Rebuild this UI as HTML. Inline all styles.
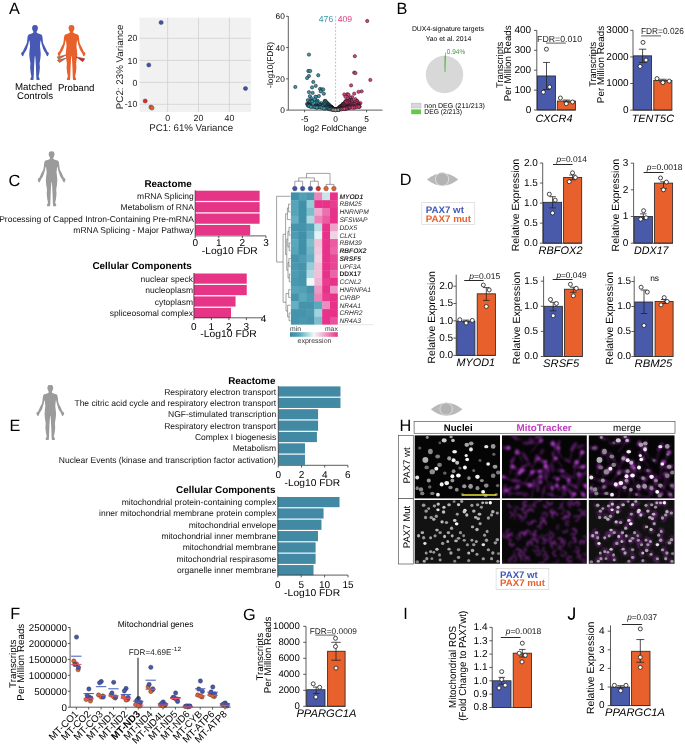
<!DOCTYPE html>
<html><head><meta charset="utf-8"><style>
html,body{margin:0;padding:0;background:#fff;width:685px;height:747px;overflow:hidden;}
svg{display:block;will-change:transform;}
text{font-family:"Liberation Sans",sans-serif;text-rendering:geometricPrecision;}
</style></head><body>
<svg width="685" height="747" viewBox="0 0 685 747">
<rect width="685" height="747" fill="#fff"/>
<text x="9" y="13.7" font-size="16.3">A</text>
<path d="M35,25 L36.5,25.2 L37.4,25.9 L37.95,27.8 L37.75,29.4 L37.3,30.4 L36.75,31.3 L36.7,32.8 L38.9,33.8 L41.2,34.4 L42.1,35.5 L42.5,37.5 L42.8,40.5 L43.2,43 L43.8,44.6 L45.1,46.9 L46.3,49.6 L47.2,51.5 L48.4,52.4 L49,53.7 L48.6,54.3 L48.3,55.2 L47.6,56.2 L46.8,55.9 L46.2,54.5 L45.4,52.7 L44.3,51.2 L43.2,49 L42.3,46.2 L41.6,43.9 L41.2,41.8 L40.6,40.2 L40.35,42.1 L39.95,46.1 L40.5,50.9 L40.75,54.2 L40.4,58.2 L39.6,63.6 L39.9,67.6 L39.4,72.6 L38.6,76.6 L39.7,78.9 L39.4,80 L36.6,80 L36.3,77.5 L36.1,71.8 L35.85,65.4 L35.5,59.6 L35.25,56.6 L35,55.9 L34.75,56.6 L34.5,59.6 L34.15,65.4 L33.9,71.8 L33.7,77.5 L33.4,80 L30.6,80 L30.3,78.9 L31.4,76.6 L30.6,72.6 L30.1,67.6 L30.4,63.6 L29.6,58.2 L29.25,54.2 L29.5,50.9 L30.05,46.1 L29.65,42.1 L29.4,40.2 L28.8,41.8 L28.4,43.9 L27.7,46.2 L26.8,49 L25.7,51.2 L24.6,52.7 L23.8,54.5 L23.2,55.9 L22.4,56.2 L21.7,55.2 L21.4,54.3 L21,53.7 L21.6,52.4 L22.8,51.5 L23.7,49.6 L24.9,46.9 L26.2,44.6 L26.8,43 L27.2,40.5 L27.5,37.5 L27.9,35.5 L28.8,34.4 L31.1,33.8 L33.3,32.8 L33.25,31.3 L32.7,30.4 L32.25,29.4 L32.05,27.8 L32.6,25.9 L33.5,25.2Z" fill="#4759b5"/>
<path d="M71.5,25 L73,25.2 L73.9,25.9 L74.45,27.8 L74.25,29.4 L73.8,30.4 L73.25,31.3 L73.2,32.8 L75.4,33.8 L77.7,34.4 L78.6,35.5 L79,37.5 L79.3,40.5 L79.7,43 L80.3,44.6 L81.6,46.9 L82.8,49.6 L83.7,51.5 L84.9,52.4 L85.5,53.7 L85.1,54.3 L84.8,55.2 L84.1,56.2 L83.3,55.9 L82.7,54.5 L81.9,52.7 L80.8,51.2 L79.7,49 L78.8,46.2 L78.1,43.9 L77.7,41.8 L77.1,40.2 L76.85,42.1 L76.45,46.1 L77,50.9 L77.25,54.2 L76.9,58.2 L76.1,63.6 L76.4,67.6 L75.9,72.6 L75.1,76.6 L76.2,78.9 L75.9,80 L73.1,80 L72.8,77.5 L72.6,71.8 L72.35,65.4 L72,59.6 L71.75,56.6 L71.5,55.9 L71.25,56.6 L71,59.6 L70.65,65.4 L70.4,71.8 L70.2,77.5 L69.9,80 L67.1,80 L66.8,78.9 L67.9,76.6 L67.1,72.6 L66.6,67.6 L66.9,63.6 L66.1,58.2 L65.75,54.2 L66,50.9 L66.55,46.1 L66.15,42.1 L65.9,40.2 L65.3,41.8 L64.9,43.9 L64.2,46.2 L63.3,49 L62.2,51.2 L61.1,52.7 L60.3,54.5 L59.7,55.9 L58.9,56.2 L58.2,55.2 L57.9,54.3 L57.5,53.7 L58.1,52.4 L59.3,51.5 L60.2,49.6 L61.4,46.9 L62.7,44.6 L63.3,43 L63.7,40.5 L64,37.5 L64.4,35.5 L65.3,34.4 L67.6,33.8 L69.8,32.8 L69.75,31.3 L69.2,30.4 L68.75,29.4 L68.55,27.8 L69.1,25.9 L70,25.2Z" fill="#e8612c"/>
<path d="M66.0,55.0 L57.2,56.9 L58.7,59.3 Z" fill="#e8612c" stroke="#444" stroke-width="0.45"/>
<path d="M66.0,58.2 L57.4,60.1 L59.5,62.6 Z" fill="#e8612c" stroke="#444" stroke-width="0.45"/>
<path d="M76.3,56.9 L84.9,58.7 L82.7,61.7 Z" fill="#d82424" stroke="#444" stroke-width="0.45"/>
<text x="33.6" y="90.3" font-size="9.7" text-anchor="middle">Matched</text>
<text x="35" y="98.6" font-size="9.7" text-anchor="middle">Controls</text>
<text x="76.2" y="90.7" font-size="9.7" text-anchor="middle">Proband</text>
<rect x="139.6" y="17.7" width="111.3" height="94.3" fill="#f1f1f1" />
<line x1="167.6" y1="17.7" x2="167.6" y2="112" stroke="#cdcdcd" stroke-width="0.7" />
<line x1="198.5" y1="17.7" x2="198.5" y2="112" stroke="#cdcdcd" stroke-width="0.7" />
<line x1="229.4" y1="17.7" x2="229.4" y2="112" stroke="#cdcdcd" stroke-width="0.7" />
<line x1="139.6" y1="38.3" x2="250.9" y2="38.3" stroke="#cdcdcd" stroke-width="0.7" />
<line x1="139.6" y1="60.4" x2="250.9" y2="60.4" stroke="#cdcdcd" stroke-width="0.7" />
<line x1="139.6" y1="82.4" x2="250.9" y2="82.4" stroke="#cdcdcd" stroke-width="0.7" />
<line x1="139.6" y1="104.3" x2="250.9" y2="104.3" stroke="#cdcdcd" stroke-width="0.7" />
<text x="137.4" y="41.4" font-size="8.8" text-anchor="end" fill="#222">20</text>
<text x="137.4" y="63.5" font-size="8.8" text-anchor="end" fill="#222">10</text>
<text x="137.4" y="85.5" font-size="8.8" text-anchor="end" fill="#222">0</text>
<text x="137.4" y="107.4" font-size="8.8" text-anchor="end" fill="#222">-10</text>
<text x="167.6" y="120.6" font-size="8.8" text-anchor="middle" fill="#222">0</text>
<text x="198.5" y="120.6" font-size="8.8" text-anchor="middle" fill="#222">20</text>
<text x="229.4" y="120.6" font-size="8.8" text-anchor="middle" fill="#222">40</text>
<text x="191.2" y="130.9" font-size="9.7" text-anchor="middle" fill="#222">PC1: 61% Variance</text>
<text transform="translate(122.9,66.9) rotate(-90)" x="0" y="0" font-size="9.7" text-anchor="middle" fill="#222" textLength="84.6" lengthAdjust="spacingAndGlyphs">PC2: 23% Variance</text>
<circle cx="161.1" cy="22.5" r="2.1" fill="#3f51b0" stroke="#333" stroke-width="0.4"/>
<circle cx="148.8" cy="65" r="2.1" fill="#3f51b0" stroke="#333" stroke-width="0.4"/>
<circle cx="245.5" cy="88.5" r="2.1" fill="#3f51b0" stroke="#333" stroke-width="0.4"/>
<circle cx="145.2" cy="101" r="2.1" fill="#dd2a22" stroke="#333" stroke-width="0.4"/>
<circle cx="150.9" cy="107.1" r="2.1" fill="#e8612c" stroke="#333" stroke-width="0.4"/>
<circle cx="152" cy="108" r="2.1" fill="#e8612c" stroke="#333" stroke-width="0.4"/>
<line x1="288.3" y1="16.2" x2="288.3" y2="110.1" stroke="#333" stroke-width="0.8" />
<line x1="286.1" y1="110.1" x2="288.3" y2="110.1" stroke="#333" stroke-width="0.8" />
<text x="284.8" y="113.1" font-size="8.3" text-anchor="end">0</text>
<line x1="286.1" y1="78.83" x2="288.3" y2="78.83" stroke="#333" stroke-width="0.8" />
<text x="284.8" y="81.83" font-size="8.3" text-anchor="end">20</text>
<line x1="286.1" y1="47.57" x2="288.3" y2="47.57" stroke="#333" stroke-width="0.8" />
<text x="284.8" y="50.57" font-size="8.3" text-anchor="end">40</text>
<line x1="286.1" y1="16.3" x2="288.3" y2="16.3" stroke="#333" stroke-width="0.8" />
<text x="284.8" y="19.3" font-size="8.3" text-anchor="end">60</text>
<line x1="288.3" y1="110.1" x2="382.6" y2="110.1" stroke="#333" stroke-width="0.8" />
<line x1="304.6" y1="110.1" x2="304.6" y2="112.3" stroke="#333" stroke-width="0.8" />
<text x="304.6" y="121.6" font-size="8.3" text-anchor="middle">-5</text>
<line x1="335.6" y1="110.1" x2="335.6" y2="112.3" stroke="#333" stroke-width="0.8" />
<text x="335.6" y="121.6" font-size="8.3" text-anchor="middle">0</text>
<line x1="366.6" y1="110.1" x2="366.6" y2="112.3" stroke="#333" stroke-width="0.8" />
<text x="366.6" y="121.6" font-size="8.3" text-anchor="middle">5</text>
<text x="335.1" y="130.9" font-size="8.3" text-anchor="middle">log2 FoldChange</text>
<text transform="translate(273,64.9) rotate(-90)" x="0" y="0" font-size="8.4" text-anchor="middle" textLength="46" lengthAdjust="spacingAndGlyphs">-log10(FDR)</text>
<line x1="335.6" y1="16" x2="335.6" y2="110" stroke="#999" stroke-width="0.6" stroke-dasharray="2,1.5"/>
<text x="333.2" y="22.2" font-size="8.6" text-anchor="end" fill="#3a97ad">476</text>
<text x="337.8" y="22.2" font-size="8.6" fill="#e0407e">409</text>
<circle cx="367.22" cy="20.99" r="1.65" fill="#e23f80" stroke="#151515" stroke-width="0.5"/>
<circle cx="308.94" cy="54.6" r="1.65" fill="#3a97ad" stroke="#151515" stroke-width="0.5"/>
<circle cx="354.82" cy="56.16" r="1.65" fill="#e23f80" stroke="#151515" stroke-width="0.5"/>
<circle cx="308.32" cy="71.02" r="1.65" fill="#3a97ad" stroke="#151515" stroke-width="0.5"/>
<circle cx="310.18" cy="71.02" r="1.65" fill="#3a97ad" stroke="#151515" stroke-width="0.5"/>
<circle cx="354.2" cy="72.58" r="1.65" fill="#e23f80" stroke="#151515" stroke-width="0.5"/>
<circle cx="355.44" cy="73.05" r="1.65" fill="#e23f80" stroke="#151515" stroke-width="0.5"/>
<circle cx="318.24" cy="75.24" r="1.65" fill="#3a97ad" stroke="#151515" stroke-width="0.5"/>
<circle cx="308.94" cy="76.02" r="1.65" fill="#3a97ad" stroke="#151515" stroke-width="0.5"/>
<circle cx="307.08" cy="78.05" r="1.65" fill="#3a97ad" stroke="#151515" stroke-width="0.5"/>
<circle cx="370.32" cy="79.93" r="1.65" fill="#e23f80" stroke="#151515" stroke-width="0.5"/>
<circle cx="313.28" cy="81.96" r="1.65" fill="#3a97ad" stroke="#151515" stroke-width="0.5"/>
<circle cx="351.1" cy="85.4" r="1.65" fill="#e23f80" stroke="#151515" stroke-width="0.5"/>
<circle cx="315.76" cy="85.87" r="1.65" fill="#3a97ad" stroke="#151515" stroke-width="0.5"/>
<circle cx="295.3" cy="86.96" r="1.65" fill="#3a97ad" stroke="#151515" stroke-width="0.5"/>
<circle cx="312.04" cy="87.43" r="1.65" fill="#3a97ad" stroke="#151515" stroke-width="0.5"/>
<circle cx="320.1" cy="88.99" r="1.65" fill="#3a97ad" stroke="#151515" stroke-width="0.5"/>
<circle cx="321.96" cy="89.46" r="1.65" fill="#3a97ad" stroke="#151515" stroke-width="0.5"/>
<circle cx="323.2" cy="89.46" r="1.65" fill="#3a97ad" stroke="#151515" stroke-width="0.5"/>
<circle cx="320.72" cy="91.34" r="1.65" fill="#3a97ad" stroke="#151515" stroke-width="0.5"/>
<circle cx="361.64" cy="91.34" r="1.65" fill="#e23f80" stroke="#151515" stroke-width="0.5"/>
<circle cx="358.54" cy="91.81" r="1.65" fill="#e23f80" stroke="#151515" stroke-width="0.5"/>
<circle cx="308.94" cy="92.12" r="1.65" fill="#3a97ad" stroke="#151515" stroke-width="0.5"/>
<circle cx="312.66" cy="92.9" r="1.65" fill="#3a97ad" stroke="#151515" stroke-width="0.5"/>
<circle cx="323.82" cy="93.69" r="1.65" fill="#3a97ad" stroke="#151515" stroke-width="0.5"/>
<circle cx="354.2" cy="93.69" r="1.65" fill="#e23f80" stroke="#151515" stroke-width="0.5"/>
<circle cx="347.38" cy="94.15" r="1.65" fill="#e23f80" stroke="#151515" stroke-width="0.5"/>
<circle cx="344.28" cy="94.47" r="1.65" fill="#e23f80" stroke="#151515" stroke-width="0.5"/>
<circle cx="348.62" cy="94.78" r="1.65" fill="#e23f80" stroke="#151515" stroke-width="0.5"/>
<circle cx="318.86" cy="96.03" r="1.65" fill="#3a97ad" stroke="#151515" stroke-width="0.5"/>
<circle cx="309.85" cy="96.25" r="1.65" fill="#3a97ad" stroke="#151515" stroke-width="0.5"/>
<circle cx="315.76" cy="96.81" r="1.65" fill="#3a97ad" stroke="#151515" stroke-width="0.5"/>
<circle cx="345.52" cy="96.81" r="1.65" fill="#e23f80" stroke="#151515" stroke-width="0.5"/>
<circle cx="315.58" cy="96.93" r="1.65" fill="#3a97ad" stroke="#151515" stroke-width="0.5"/>
<circle cx="352.06" cy="97.26" r="1.65" fill="#e23f80" stroke="#151515" stroke-width="0.5"/>
<circle cx="349.86" cy="97.59" r="1.65" fill="#e23f80" stroke="#151515" stroke-width="0.5"/>
<circle cx="311.42" cy="98.38" r="1.65" fill="#3a97ad" stroke="#151515" stroke-width="0.5"/>
<circle cx="348.13" cy="98.4" r="1.65" fill="#e23f80" stroke="#151515" stroke-width="0.5"/>
<circle cx="355.44" cy="99.16" r="1.65" fill="#e23f80" stroke="#151515" stroke-width="0.5"/>
<circle cx="314.74" cy="99.54" r="1.65" fill="#3a97ad" stroke="#151515" stroke-width="0.5"/>
<circle cx="351.01" cy="99.78" r="1.65" fill="#e23f80" stroke="#151515" stroke-width="0.5"/>
<circle cx="307.87" cy="100.13" r="1.65" fill="#3a97ad" stroke="#151515" stroke-width="0.5"/>
<circle cx="349.42" cy="100.18" r="1.65" fill="#e23f80" stroke="#151515" stroke-width="0.5"/>
<circle cx="349.77" cy="100.51" r="1.65" fill="#e23f80" stroke="#151515" stroke-width="0.5"/>
<circle cx="310.59" cy="100.53" r="1.65" fill="#3a97ad" stroke="#151515" stroke-width="0.5"/>
<circle cx="351.97" cy="100.58" r="1.65" fill="#e23f80" stroke="#151515" stroke-width="0.5"/>
<circle cx="317.62" cy="100.72" r="1.65" fill="#3a97ad" stroke="#151515" stroke-width="0.5"/>
<circle cx="347.84" cy="100.85" r="1.65" fill="#e23f80" stroke="#151515" stroke-width="0.5"/>
<circle cx="324.8" cy="100.89" r="1.65" fill="#3a97ad" stroke="#151515" stroke-width="0.5"/>
<circle cx="346.01" cy="100.9" r="1.65" fill="#e23f80" stroke="#151515" stroke-width="0.5"/>
<circle cx="311.79" cy="100.97" r="1.65" fill="#3a97ad" stroke="#151515" stroke-width="0.5"/>
<circle cx="357.34" cy="101.09" r="1.65" fill="#e23f80" stroke="#151515" stroke-width="0.5"/>
<circle cx="325.36" cy="101.09" r="1.65" fill="#3a97ad" stroke="#151515" stroke-width="0.5"/>
<circle cx="325.42" cy="101.16" r="1.65" fill="#3a97ad" stroke="#151515" stroke-width="0.5"/>
<circle cx="346.55" cy="101.18" r="1.65" fill="#e23f80" stroke="#151515" stroke-width="0.5"/>
<circle cx="356.67" cy="101.29" r="1.65" fill="#e23f80" stroke="#151515" stroke-width="0.5"/>
<circle cx="357.13" cy="101.39" r="1.65" fill="#e23f80" stroke="#151515" stroke-width="0.5"/>
<circle cx="345.57" cy="101.41" r="1.65" fill="#e23f80" stroke="#151515" stroke-width="0.5"/>
<circle cx="351.72" cy="101.5" r="1.65" fill="#e23f80" stroke="#151515" stroke-width="0.5"/>
<circle cx="312.1" cy="101.58" r="1.65" fill="#3a97ad" stroke="#151515" stroke-width="0.5"/>
<circle cx="316.77" cy="101.66" r="1.65" fill="#3a97ad" stroke="#151515" stroke-width="0.5"/>
<circle cx="348.56" cy="101.89" r="1.65" fill="#e23f80" stroke="#151515" stroke-width="0.5"/>
<circle cx="348.64" cy="101.9" r="1.65" fill="#e23f80" stroke="#151515" stroke-width="0.5"/>
<circle cx="344.97" cy="102.07" r="1.65" fill="#e23f80" stroke="#151515" stroke-width="0.5"/>
<circle cx="309.56" cy="102.28" r="1.65" fill="#3a97ad" stroke="#151515" stroke-width="0.5"/>
<circle cx="324.77" cy="102.3" r="1.65" fill="#3a97ad" stroke="#151515" stroke-width="0.5"/>
<circle cx="355.19" cy="102.43" r="1.65" fill="#e23f80" stroke="#151515" stroke-width="0.5"/>
<circle cx="352.35" cy="102.56" r="1.65" fill="#e23f80" stroke="#151515" stroke-width="0.5"/>
<circle cx="326.76" cy="102.66" r="1.65" fill="#3a97ad" stroke="#151515" stroke-width="0.5"/>
<circle cx="326.06" cy="102.73" r="1.65" fill="#3a97ad" stroke="#151515" stroke-width="0.5"/>
<circle cx="345.71" cy="102.77" r="1.65" fill="#e23f80" stroke="#151515" stroke-width="0.5"/>
<circle cx="316.94" cy="102.78" r="1.65" fill="#3a97ad" stroke="#151515" stroke-width="0.5"/>
<circle cx="326.76" cy="102.79" r="1.65" fill="#3a97ad" stroke="#151515" stroke-width="0.5"/>
<circle cx="356.9" cy="102.94" r="1.65" fill="#e23f80" stroke="#151515" stroke-width="0.5"/>
<circle cx="321.32" cy="103.06" r="1.65" fill="#3a97ad" stroke="#151515" stroke-width="0.5"/>
<circle cx="314.52" cy="103.06" r="1.65" fill="#3a97ad" stroke="#151515" stroke-width="0.5"/>
<circle cx="360.4" cy="103.06" r="1.65" fill="#e23f80" stroke="#151515" stroke-width="0.5"/>
<circle cx="349.86" cy="103.09" r="1.65" fill="#e23f80" stroke="#151515" stroke-width="0.5"/>
<circle cx="349.44" cy="103.16" r="1.65" fill="#e23f80" stroke="#151515" stroke-width="0.5"/>
<circle cx="324.03" cy="103.54" r="1.65" fill="#3a97ad" stroke="#151515" stroke-width="0.5"/>
<circle cx="347.88" cy="103.6" r="1.65" fill="#e23f80" stroke="#151515" stroke-width="0.5"/>
<circle cx="319.24" cy="103.64" r="1.65" fill="#3a97ad" stroke="#151515" stroke-width="0.5"/>
<circle cx="308.38" cy="103.7" r="1.65" fill="#3a97ad" stroke="#151515" stroke-width="0.5"/>
<circle cx="327.84" cy="103.82" r="1.65" fill="#3a97ad" stroke="#151515" stroke-width="0.5"/>
<circle cx="351.72" cy="103.84" r="1.65" fill="#e23f80" stroke="#151515" stroke-width="0.5"/>
<circle cx="307.08" cy="103.85" r="1.65" fill="#3a97ad" stroke="#151515" stroke-width="0.5"/>
<circle cx="352.96" cy="103.85" r="1.65" fill="#e23f80" stroke="#151515" stroke-width="0.5"/>
<circle cx="343.96" cy="103.87" r="1.65" fill="#e23f80" stroke="#151515" stroke-width="0.5"/>
<circle cx="358.68" cy="103.96" r="1.65" fill="#e23f80" stroke="#151515" stroke-width="0.5"/>
<circle cx="343.19" cy="104" r="1.65" fill="#e23f80" stroke="#151515" stroke-width="0.5"/>
<circle cx="343.17" cy="104.02" r="1.65" fill="#e23f80" stroke="#151515" stroke-width="0.5"/>
<circle cx="353.6" cy="104.04" r="1.65" fill="#e23f80" stroke="#151515" stroke-width="0.5"/>
<circle cx="343.13" cy="104.07" r="1.65" fill="#e23f80" stroke="#151515" stroke-width="0.5"/>
<circle cx="327.66" cy="104.07" r="1.65" fill="#3a97ad" stroke="#151515" stroke-width="0.5"/>
<circle cx="328.17" cy="104.17" r="1.65" fill="#3a97ad" stroke="#151515" stroke-width="0.5"/>
<circle cx="318.65" cy="104.25" r="1.65" fill="#3a97ad" stroke="#151515" stroke-width="0.5"/>
<circle cx="324.72" cy="104.27" r="1.65" fill="#3a97ad" stroke="#151515" stroke-width="0.5"/>
<circle cx="344.23" cy="104.28" r="1.65" fill="#e23f80" stroke="#151515" stroke-width="0.5"/>
<circle cx="309.07" cy="104.34" r="1.65" fill="#3a97ad" stroke="#151515" stroke-width="0.5"/>
<circle cx="307.79" cy="104.35" r="1.65" fill="#3a97ad" stroke="#151515" stroke-width="0.5"/>
<circle cx="348.81" cy="104.46" r="1.65" fill="#e23f80" stroke="#151515" stroke-width="0.5"/>
<circle cx="356.68" cy="104.47" r="1.65" fill="#e23f80" stroke="#151515" stroke-width="0.5"/>
<circle cx="342.72" cy="104.48" r="1.65" fill="#e23f80" stroke="#151515" stroke-width="0.5"/>
<circle cx="354.82" cy="104.48" r="1.65" fill="#e23f80" stroke="#151515" stroke-width="0.5"/>
<circle cx="343.12" cy="104.51" r="1.65" fill="#e23f80" stroke="#151515" stroke-width="0.5"/>
<circle cx="328.61" cy="104.62" r="1.65" fill="#3a97ad" stroke="#151515" stroke-width="0.5"/>
<circle cx="310.8" cy="104.63" r="1.65" fill="#3a97ad" stroke="#151515" stroke-width="0.5"/>
<circle cx="359.16" cy="104.63" r="1.65" fill="#e23f80" stroke="#151515" stroke-width="0.5"/>
<circle cx="323.99" cy="104.63" r="1.65" fill="#3a97ad" stroke="#151515" stroke-width="0.5"/>
<circle cx="342.52" cy="104.69" r="1.65" fill="#e23f80" stroke="#151515" stroke-width="0.5"/>
<circle cx="328.79" cy="104.8" r="1.65" fill="#3a97ad" stroke="#151515" stroke-width="0.5"/>
<circle cx="328.8" cy="104.81" r="1.65" fill="#3a97ad" stroke="#151515" stroke-width="0.5"/>
<circle cx="310.07" cy="104.83" r="1.65" fill="#3a97ad" stroke="#151515" stroke-width="0.5"/>
<circle cx="316.39" cy="104.87" r="1.65" fill="#3a97ad" stroke="#151515" stroke-width="0.5"/>
<circle cx="359.11" cy="104.9" r="1.65" fill="#e23f80" stroke="#151515" stroke-width="0.5"/>
<circle cx="320.76" cy="104.91" r="1.65" fill="#3a97ad" stroke="#151515" stroke-width="0.5"/>
<circle cx="308.82" cy="105.02" r="1.65" fill="#3a97ad" stroke="#151515" stroke-width="0.5"/>
<circle cx="319.91" cy="105.03" r="1.65" fill="#3a97ad" stroke="#151515" stroke-width="0.5"/>
<circle cx="308.14" cy="105.06" r="1.65" fill="#3a97ad" stroke="#151515" stroke-width="0.5"/>
<circle cx="357.94" cy="105.09" r="1.65" fill="#e23f80" stroke="#151515" stroke-width="0.5"/>
<circle cx="329.17" cy="105.18" r="1.65" fill="#3a97ad" stroke="#151515" stroke-width="0.5"/>
<circle cx="309.4" cy="105.3" r="1.65" fill="#3a97ad" stroke="#151515" stroke-width="0.5"/>
<circle cx="353.05" cy="105.38" r="1.65" fill="#e23f80" stroke="#151515" stroke-width="0.5"/>
<circle cx="356.03" cy="105.4" r="1.65" fill="#e23f80" stroke="#151515" stroke-width="0.5"/>
<circle cx="319.96" cy="105.44" r="1.65" fill="#3a97ad" stroke="#151515" stroke-width="0.5"/>
<circle cx="308" cy="105.47" r="1.65" fill="#3a97ad" stroke="#151515" stroke-width="0.5"/>
<circle cx="349.3" cy="105.5" r="1.65" fill="#e23f80" stroke="#151515" stroke-width="0.5"/>
<circle cx="349.27" cy="105.53" r="1.65" fill="#e23f80" stroke="#151515" stroke-width="0.5"/>
<circle cx="342.61" cy="105.55" r="1.65" fill="#e23f80" stroke="#151515" stroke-width="0.5"/>
<circle cx="341.65" cy="105.56" r="1.65" fill="#e23f80" stroke="#151515" stroke-width="0.5"/>
<circle cx="323.26" cy="105.57" r="1.65" fill="#3a97ad" stroke="#151515" stroke-width="0.5"/>
<circle cx="308.39" cy="105.6" r="1.65" fill="#3a97ad" stroke="#151515" stroke-width="0.5"/>
<circle cx="310.14" cy="105.61" r="1.65" fill="#3a97ad" stroke="#151515" stroke-width="0.5"/>
<circle cx="348.24" cy="105.65" r="1.65" fill="#e23f80" stroke="#151515" stroke-width="0.5"/>
<circle cx="357.64" cy="105.77" r="1.65" fill="#e23f80" stroke="#151515" stroke-width="0.5"/>
<circle cx="344.89" cy="105.79" r="1.65" fill="#e23f80" stroke="#151515" stroke-width="0.5"/>
<circle cx="327.88" cy="105.84" r="1.65" fill="#3a97ad" stroke="#151515" stroke-width="0.5"/>
<circle cx="309.56" cy="105.85" r="1.65" fill="#3a97ad" stroke="#151515" stroke-width="0.5"/>
<circle cx="329.88" cy="105.88" r="1.65" fill="#3a97ad" stroke="#151515" stroke-width="0.5"/>
<circle cx="343.14" cy="105.88" r="1.65" fill="#e23f80" stroke="#151515" stroke-width="0.5"/>
<circle cx="350.92" cy="105.88" r="1.65" fill="#e23f80" stroke="#151515" stroke-width="0.5"/>
<circle cx="341.31" cy="105.88" r="1.65" fill="#e23f80" stroke="#151515" stroke-width="0.5"/>
<circle cx="320.98" cy="105.9" r="1.65" fill="#3a97ad" stroke="#151515" stroke-width="0.5"/>
<circle cx="344.17" cy="105.94" r="1.65" fill="#e23f80" stroke="#151515" stroke-width="0.5"/>
<circle cx="329.96" cy="105.95" r="1.65" fill="#3a97ad" stroke="#151515" stroke-width="0.5"/>
<circle cx="322.62" cy="105.96" r="1.65" fill="#3a97ad" stroke="#151515" stroke-width="0.5"/>
<circle cx="342.51" cy="105.96" r="1.65" fill="#e23f80" stroke="#151515" stroke-width="0.5"/>
<circle cx="341.23" cy="105.96" r="1.65" fill="#e23f80" stroke="#151515" stroke-width="0.5"/>
<circle cx="346.99" cy="106.01" r="1.65" fill="#e23f80" stroke="#151515" stroke-width="0.5"/>
<circle cx="316.2" cy="106.04" r="1.65" fill="#3a97ad" stroke="#151515" stroke-width="0.5"/>
<circle cx="349.06" cy="106.05" r="1.65" fill="#e23f80" stroke="#151515" stroke-width="0.5"/>
<circle cx="358.23" cy="106.08" r="1.65" fill="#e23f80" stroke="#151515" stroke-width="0.5"/>
<circle cx="352.83" cy="106.09" r="1.65" fill="#e23f80" stroke="#151515" stroke-width="0.5"/>
<circle cx="345.57" cy="106.1" r="1.65" fill="#e23f80" stroke="#151515" stroke-width="0.5"/>
<circle cx="355.12" cy="106.14" r="1.65" fill="#e23f80" stroke="#151515" stroke-width="0.5"/>
<circle cx="308.97" cy="106.15" r="1.65" fill="#3a97ad" stroke="#151515" stroke-width="0.5"/>
<circle cx="326.69" cy="106.19" r="1.65" fill="#3a97ad" stroke="#151515" stroke-width="0.5"/>
<circle cx="317.89" cy="106.19" r="1.65" fill="#3a97ad" stroke="#151515" stroke-width="0.5"/>
<circle cx="359.1" cy="106.21" r="1.65" fill="#e23f80" stroke="#151515" stroke-width="0.5"/>
<circle cx="340.94" cy="106.24" r="1.65" fill="#e23f80" stroke="#151515" stroke-width="0.5"/>
<circle cx="329.04" cy="106.24" r="1.65" fill="#3a97ad" stroke="#151515" stroke-width="0.5"/>
<circle cx="340.89" cy="106.28" r="1.65" fill="#e23f80" stroke="#151515" stroke-width="0.5"/>
<circle cx="340.84" cy="106.33" r="1.65" fill="#e23f80" stroke="#151515" stroke-width="0.5"/>
<circle cx="330.4" cy="106.37" r="1.65" fill="#3a97ad" stroke="#151515" stroke-width="0.5"/>
<circle cx="318.16" cy="106.42" r="1.65" fill="#3a97ad" stroke="#151515" stroke-width="0.5"/>
<circle cx="314.15" cy="106.43" r="1.65" fill="#3a97ad" stroke="#151515" stroke-width="0.5"/>
<circle cx="328.98" cy="106.46" r="1.65" fill="#3a97ad" stroke="#151515" stroke-width="0.5"/>
<circle cx="346.16" cy="106.47" r="1.65" fill="#e23f80" stroke="#151515" stroke-width="0.5"/>
<circle cx="315.16" cy="106.47" r="1.65" fill="#3a97ad" stroke="#151515" stroke-width="0.5"/>
<circle cx="347.87" cy="106.53" r="1.65" fill="#e23f80" stroke="#151515" stroke-width="0.5"/>
<circle cx="311.67" cy="106.53" r="1.65" fill="#3a97ad" stroke="#151515" stroke-width="0.5"/>
<circle cx="322.68" cy="106.55" r="1.65" fill="#3a97ad" stroke="#151515" stroke-width="0.5"/>
<circle cx="341.64" cy="106.56" r="1.65" fill="#e23f80" stroke="#151515" stroke-width="0.5"/>
<circle cx="315.31" cy="106.56" r="1.65" fill="#3a97ad" stroke="#151515" stroke-width="0.5"/>
<circle cx="317.07" cy="106.58" r="1.65" fill="#3a97ad" stroke="#151515" stroke-width="0.5"/>
<circle cx="349.11" cy="106.59" r="1.65" fill="#e23f80" stroke="#151515" stroke-width="0.5"/>
<circle cx="352.94" cy="106.62" r="1.65" fill="#e23f80" stroke="#151515" stroke-width="0.5"/>
<circle cx="359.59" cy="106.67" r="1.65" fill="#e23f80" stroke="#151515" stroke-width="0.5"/>
<circle cx="352.84" cy="106.68" r="1.65" fill="#e23f80" stroke="#151515" stroke-width="0.5"/>
<circle cx="357.61" cy="106.7" r="1.65" fill="#e23f80" stroke="#151515" stroke-width="0.5"/>
<circle cx="327.8" cy="106.7" r="1.65" fill="#3a97ad" stroke="#151515" stroke-width="0.5"/>
<circle cx="317.65" cy="106.71" r="1.65" fill="#3a97ad" stroke="#151515" stroke-width="0.5"/>
<circle cx="340.43" cy="106.71" r="1.65" fill="#e23f80" stroke="#151515" stroke-width="0.5"/>
<circle cx="359.18" cy="106.71" r="1.65" fill="#e23f80" stroke="#151515" stroke-width="0.5"/>
<circle cx="358.64" cy="106.78" r="1.65" fill="#e23f80" stroke="#151515" stroke-width="0.5"/>
<circle cx="330.86" cy="106.79" r="1.65" fill="#3a97ad" stroke="#151515" stroke-width="0.5"/>
<circle cx="316.34" cy="106.82" r="1.65" fill="#3a97ad" stroke="#151515" stroke-width="0.5"/>
<circle cx="330.91" cy="106.83" r="1.65" fill="#3a97ad" stroke="#151515" stroke-width="0.5"/>
<circle cx="356.25" cy="106.84" r="1.65" fill="#e23f80" stroke="#151515" stroke-width="0.5"/>
<circle cx="313.05" cy="106.84" r="1.65" fill="#3a97ad" stroke="#151515" stroke-width="0.5"/>
<circle cx="317.13" cy="106.85" r="1.65" fill="#3a97ad" stroke="#151515" stroke-width="0.5"/>
<circle cx="340.27" cy="106.85" r="1.65" fill="#e23f80" stroke="#151515" stroke-width="0.5"/>
<circle cx="310.85" cy="106.9" r="1.65" fill="#3a97ad" stroke="#151515" stroke-width="0.5"/>
<circle cx="329.34" cy="106.91" r="1.65" fill="#3a97ad" stroke="#151515" stroke-width="0.5"/>
<circle cx="344.57" cy="106.96" r="1.65" fill="#e23f80" stroke="#151515" stroke-width="0.5"/>
<circle cx="340.1" cy="107.01" r="1.65" fill="#e23f80" stroke="#151515" stroke-width="0.5"/>
<circle cx="326.42" cy="107.06" r="1.65" fill="#3a97ad" stroke="#151515" stroke-width="0.5"/>
<circle cx="316.13" cy="107.07" r="1.65" fill="#3a97ad" stroke="#151515" stroke-width="0.5"/>
<circle cx="320.51" cy="107.08" r="1.65" fill="#3a97ad" stroke="#151515" stroke-width="0.5"/>
<circle cx="353.98" cy="107.08" r="1.65" fill="#e23f80" stroke="#151515" stroke-width="0.5"/>
<circle cx="339.98" cy="107.12" r="1.65" fill="#e23f80" stroke="#151515" stroke-width="0.5"/>
<circle cx="316.02" cy="107.15" r="1.65" fill="#3a97ad" stroke="#151515" stroke-width="0.5"/>
<circle cx="346.64" cy="107.16" r="1.65" fill="#e23f80" stroke="#151515" stroke-width="0.5"/>
<circle cx="315.13" cy="107.17" r="1.65" fill="#3a97ad" stroke="#151515" stroke-width="0.5"/>
<circle cx="348.25" cy="107.17" r="1.65" fill="#e23f80" stroke="#151515" stroke-width="0.5"/>
<circle cx="348.39" cy="107.18" r="1.65" fill="#e23f80" stroke="#151515" stroke-width="0.5"/>
<circle cx="339.9" cy="107.19" r="1.65" fill="#e23f80" stroke="#151515" stroke-width="0.5"/>
<circle cx="328.63" cy="107.22" r="1.65" fill="#3a97ad" stroke="#151515" stroke-width="0.5"/>
<circle cx="339.84" cy="107.24" r="1.65" fill="#e23f80" stroke="#151515" stroke-width="0.5"/>
<circle cx="340.4" cy="107.26" r="1.65" fill="#e23f80" stroke="#151515" stroke-width="0.5"/>
<circle cx="330.13" cy="107.3" r="1.65" fill="#3a97ad" stroke="#151515" stroke-width="0.5"/>
<circle cx="346.86" cy="107.3" r="1.65" fill="#e23f80" stroke="#151515" stroke-width="0.5"/>
<circle cx="340.33" cy="107.31" r="1.65" fill="#e23f80" stroke="#151515" stroke-width="0.5"/>
<circle cx="318.01" cy="107.35" r="1.65" fill="#3a97ad" stroke="#151515" stroke-width="0.5"/>
<circle cx="327.79" cy="107.36" r="1.65" fill="#3a97ad" stroke="#151515" stroke-width="0.5"/>
<circle cx="320.21" cy="107.38" r="1.65" fill="#3a97ad" stroke="#151515" stroke-width="0.5"/>
<circle cx="345.61" cy="107.39" r="1.65" fill="#e23f80" stroke="#151515" stroke-width="0.5"/>
<circle cx="331.56" cy="107.42" r="1.65" fill="#3a97ad" stroke="#151515" stroke-width="0.5"/>
<circle cx="339.62" cy="107.43" r="1.65" fill="#e23f80" stroke="#151515" stroke-width="0.5"/>
<circle cx="317.18" cy="107.44" r="1.65" fill="#3a97ad" stroke="#151515" stroke-width="0.5"/>
<circle cx="331.61" cy="107.45" r="1.65" fill="#3a97ad" stroke="#151515" stroke-width="0.5"/>
<circle cx="349.18" cy="107.46" r="1.65" fill="#e23f80" stroke="#151515" stroke-width="0.5"/>
<circle cx="331.57" cy="107.46" r="1.65" fill="#3a97ad" stroke="#151515" stroke-width="0.5"/>
<circle cx="347.55" cy="107.48" r="1.65" fill="#e23f80" stroke="#151515" stroke-width="0.5"/>
<circle cx="316.73" cy="107.49" r="1.65" fill="#3a97ad" stroke="#151515" stroke-width="0.5"/>
<circle cx="349.34" cy="107.51" r="1.65" fill="#e23f80" stroke="#151515" stroke-width="0.5"/>
<circle cx="323.96" cy="107.51" r="1.65" fill="#3a97ad" stroke="#151515" stroke-width="0.5"/>
<circle cx="354.86" cy="107.52" r="1.65" fill="#e23f80" stroke="#151515" stroke-width="0.5"/>
<circle cx="331.71" cy="107.54" r="1.65" fill="#3a97ad" stroke="#151515" stroke-width="0.5"/>
<circle cx="347.94" cy="107.55" r="1.65" fill="#e23f80" stroke="#151515" stroke-width="0.5"/>
<circle cx="339.47" cy="107.56" r="1.65" fill="#e23f80" stroke="#151515" stroke-width="0.5"/>
<circle cx="330.45" cy="107.59" r="1.65" fill="#3a97ad" stroke="#151515" stroke-width="0.5"/>
<circle cx="353.87" cy="107.61" r="1.65" fill="#e23f80" stroke="#151515" stroke-width="0.5"/>
<circle cx="331.75" cy="107.63" r="1.65" fill="#3a97ad" stroke="#151515" stroke-width="0.5"/>
<circle cx="331.83" cy="107.64" r="1.65" fill="#3a97ad" stroke="#151515" stroke-width="0.5"/>
<circle cx="352.17" cy="107.65" r="1.65" fill="#e23f80" stroke="#151515" stroke-width="0.5"/>
<circle cx="329.04" cy="107.67" r="1.65" fill="#3a97ad" stroke="#151515" stroke-width="0.5"/>
<circle cx="327.21" cy="107.69" r="1.65" fill="#3a97ad" stroke="#151515" stroke-width="0.5"/>
<circle cx="325.61" cy="107.7" r="1.65" fill="#3a97ad" stroke="#151515" stroke-width="0.5"/>
<circle cx="349.84" cy="107.71" r="1.65" fill="#e23f80" stroke="#151515" stroke-width="0.5"/>
<circle cx="331.91" cy="107.71" r="1.65" fill="#3a97ad" stroke="#151515" stroke-width="0.5"/>
<circle cx="327.91" cy="107.73" r="1.65" fill="#3a97ad" stroke="#151515" stroke-width="0.5"/>
<circle cx="346.88" cy="107.73" r="1.65" fill="#e23f80" stroke="#151515" stroke-width="0.5"/>
<circle cx="348.75" cy="107.73" r="1.65" fill="#e23f80" stroke="#151515" stroke-width="0.5"/>
<circle cx="321.86" cy="107.75" r="1.65" fill="#3a97ad" stroke="#151515" stroke-width="0.5"/>
<circle cx="331.97" cy="107.76" r="1.65" fill="#3a97ad" stroke="#151515" stroke-width="0.5"/>
<circle cx="332.02" cy="107.8" r="1.65" fill="#3a97ad" stroke="#151515" stroke-width="0.5"/>
<circle cx="329.79" cy="107.81" r="1.65" fill="#3a97ad" stroke="#151515" stroke-width="0.5"/>
<circle cx="332.04" cy="107.82" r="1.65" fill="#3a97ad" stroke="#151515" stroke-width="0.5"/>
<circle cx="343.94" cy="107.83" r="1.65" fill="#e23f80" stroke="#151515" stroke-width="0.5"/>
<circle cx="332.06" cy="107.84" r="1.65" fill="#3a97ad" stroke="#151515" stroke-width="0.5"/>
<circle cx="332.07" cy="107.84" r="1.65" fill="#3a97ad" stroke="#151515" stroke-width="0.5"/>
<circle cx="332.1" cy="107.87" r="1.65" fill="#3a97ad" stroke="#151515" stroke-width="0.5"/>
<circle cx="327.27" cy="107.96" r="1.65" fill="#3a97ad" stroke="#151515" stroke-width="0.5"/>
<circle cx="332.25" cy="108" r="1.65" fill="#3a97ad" stroke="#151515" stroke-width="0.5"/>
<circle cx="340.1" cy="108.04" r="1.65" fill="#e23f80" stroke="#151515" stroke-width="0.5"/>
<circle cx="330.29" cy="108.05" r="1.65" fill="#3a97ad" stroke="#151515" stroke-width="0.5"/>
<circle cx="325.52" cy="108.09" r="1.65" fill="#3a97ad" stroke="#151515" stroke-width="0.5"/>
<circle cx="347.4" cy="108.09" r="1.65" fill="#e23f80" stroke="#151515" stroke-width="0.5"/>
<circle cx="346.52" cy="108.1" r="1.65" fill="#e23f80" stroke="#151515" stroke-width="0.5"/>
<circle cx="346.36" cy="108.11" r="1.65" fill="#e23f80" stroke="#151515" stroke-width="0.5"/>
<circle cx="330.31" cy="108.2" r="1.65" fill="#3a97ad" stroke="#151515" stroke-width="0.5"/>
<circle cx="341.83" cy="108.22" r="1.65" fill="#e23f80" stroke="#151515" stroke-width="0.5"/>
<circle cx="324.97" cy="108.25" r="1.65" fill="#3a97ad" stroke="#151515" stroke-width="0.5"/>
<circle cx="332.1" cy="108.26" r="1.65" fill="#3a97ad" stroke="#151515" stroke-width="0.5"/>
<circle cx="328.92" cy="108.26" r="1.65" fill="#3a97ad" stroke="#151515" stroke-width="0.5"/>
<circle cx="325.62" cy="108.32" r="1.65" fill="#3a97ad" stroke="#151515" stroke-width="0.5"/>
<circle cx="340.6" cy="108.32" r="1.65" fill="#e23f80" stroke="#151515" stroke-width="0.5"/>
<circle cx="332.24" cy="108.33" r="1.65" fill="#3a97ad" stroke="#151515" stroke-width="0.5"/>
<circle cx="338.53" cy="108.33" r="1.65" fill="#e23f80" stroke="#151515" stroke-width="0.5"/>
<circle cx="341.72" cy="108.36" r="1.65" fill="#e23f80" stroke="#151515" stroke-width="0.5"/>
<circle cx="332.22" cy="108.37" r="1.65" fill="#3a97ad" stroke="#151515" stroke-width="0.5"/>
<circle cx="330.11" cy="108.41" r="1.65" fill="#3a97ad" stroke="#151515" stroke-width="0.5"/>
<circle cx="338.59" cy="108.41" r="1.65" fill="#e23f80" stroke="#151515" stroke-width="0.5"/>
<circle cx="332.78" cy="108.41" r="1.65" fill="#3a97ad" stroke="#151515" stroke-width="0.5"/>
<circle cx="338.4" cy="108.43" r="1.65" fill="#e23f80" stroke="#151515" stroke-width="0.5"/>
<circle cx="332.31" cy="108.44" r="1.65" fill="#3a97ad" stroke="#151515" stroke-width="0.5"/>
<circle cx="340.24" cy="108.45" r="1.65" fill="#e23f80" stroke="#151515" stroke-width="0.5"/>
<circle cx="328" cy="108.45" r="1.65" fill="#3a97ad" stroke="#151515" stroke-width="0.5"/>
<circle cx="332.83" cy="108.46" r="1.65" fill="#9a9a9a" stroke="#151515" stroke-width="0.5"/>
<circle cx="344.4" cy="108.47" r="1.65" fill="#e23f80" stroke="#151515" stroke-width="0.5"/>
<circle cx="342.92" cy="108.49" r="1.65" fill="#e23f80" stroke="#151515" stroke-width="0.5"/>
<circle cx="323.89" cy="108.49" r="1.65" fill="#3a97ad" stroke="#151515" stroke-width="0.5"/>
<circle cx="339.44" cy="108.51" r="1.65" fill="#e23f80" stroke="#151515" stroke-width="0.5"/>
<circle cx="346.41" cy="108.51" r="1.65" fill="#e23f80" stroke="#151515" stroke-width="0.5"/>
<circle cx="338.65" cy="108.56" r="1.65" fill="#9a9a9a" stroke="#151515" stroke-width="0.5"/>
<circle cx="332.98" cy="108.57" r="1.65" fill="#9a9a9a" stroke="#151515" stroke-width="0.5"/>
<circle cx="331.89" cy="108.61" r="1.65" fill="#9a9a9a" stroke="#151515" stroke-width="0.5"/>
<circle cx="344.57" cy="108.61" r="1.65" fill="#e23f80" stroke="#151515" stroke-width="0.5"/>
<circle cx="346.2" cy="108.65" r="1.65" fill="#e23f80" stroke="#151515" stroke-width="0.5"/>
<circle cx="332.17" cy="108.66" r="1.65" fill="#9a9a9a" stroke="#151515" stroke-width="0.5"/>
<circle cx="343.45" cy="108.66" r="1.65" fill="#e23f80" stroke="#151515" stroke-width="0.5"/>
<circle cx="341.83" cy="108.7" r="1.65" fill="#e23f80" stroke="#151515" stroke-width="0.5"/>
<circle cx="333.18" cy="108.72" r="1.65" fill="#9a9a9a" stroke="#151515" stroke-width="0.5"/>
<circle cx="331.85" cy="108.74" r="1.65" fill="#9a9a9a" stroke="#151515" stroke-width="0.5"/>
<circle cx="340.83" cy="108.74" r="1.65" fill="#e23f80" stroke="#151515" stroke-width="0.5"/>
<circle cx="344.73" cy="108.76" r="1.65" fill="#e23f80" stroke="#151515" stroke-width="0.5"/>
<circle cx="332.26" cy="108.8" r="1.65" fill="#9a9a9a" stroke="#151515" stroke-width="0.5"/>
<circle cx="333.04" cy="108.83" r="1.65" fill="#9a9a9a" stroke="#151515" stroke-width="0.5"/>
<circle cx="338.31" cy="108.85" r="1.65" fill="#9a9a9a" stroke="#151515" stroke-width="0.5"/>
<circle cx="340.78" cy="108.87" r="1.65" fill="#e23f80" stroke="#151515" stroke-width="0.5"/>
<circle cx="338.9" cy="108.88" r="1.65" fill="#9a9a9a" stroke="#151515" stroke-width="0.5"/>
<circle cx="337.87" cy="108.89" r="1.65" fill="#9a9a9a" stroke="#151515" stroke-width="0.5"/>
<circle cx="340.33" cy="108.9" r="1.65" fill="#9a9a9a" stroke="#151515" stroke-width="0.5"/>
<circle cx="333.47" cy="108.93" r="1.65" fill="#9a9a9a" stroke="#151515" stroke-width="0.5"/>
<circle cx="344.17" cy="108.93" r="1.65" fill="#e23f80" stroke="#151515" stroke-width="0.5"/>
<circle cx="335.76" cy="108.94" r="1.65" fill="#9a9a9a" stroke="#151515" stroke-width="0.5"/>
<circle cx="340.08" cy="108.95" r="1.65" fill="#9a9a9a" stroke="#151515" stroke-width="0.5"/>
<circle cx="333.5" cy="108.95" r="1.65" fill="#9a9a9a" stroke="#151515" stroke-width="0.5"/>
<circle cx="336.65" cy="108.96" r="1.65" fill="#9a9a9a" stroke="#151515" stroke-width="0.5"/>
<circle cx="331.92" cy="108.97" r="1.65" fill="#9a9a9a" stroke="#151515" stroke-width="0.5"/>
<circle cx="328.9" cy="108.97" r="1.65" fill="#3a97ad" stroke="#151515" stroke-width="0.5"/>
<circle cx="334.9" cy="109" r="1.65" fill="#9a9a9a" stroke="#151515" stroke-width="0.5"/>
<circle cx="337.62" cy="109.01" r="1.65" fill="#9a9a9a" stroke="#151515" stroke-width="0.5"/>
<circle cx="340.85" cy="109.02" r="1.65" fill="#e23f80" stroke="#151515" stroke-width="0.5"/>
<circle cx="337.58" cy="109.03" r="1.65" fill="#9a9a9a" stroke="#151515" stroke-width="0.5"/>
<circle cx="334.89" cy="109.04" r="1.65" fill="#9a9a9a" stroke="#151515" stroke-width="0.5"/>
<circle cx="333.66" cy="109.06" r="1.65" fill="#9a9a9a" stroke="#151515" stroke-width="0.5"/>
<circle cx="335.03" cy="109.07" r="1.65" fill="#9a9a9a" stroke="#151515" stroke-width="0.5"/>
<circle cx="331.6" cy="109.09" r="1.65" fill="#9a9a9a" stroke="#151515" stroke-width="0.5"/>
<circle cx="333.7" cy="109.09" r="1.65" fill="#9a9a9a" stroke="#151515" stroke-width="0.5"/>
<circle cx="333.7" cy="109.09" r="1.65" fill="#9a9a9a" stroke="#151515" stroke-width="0.5"/>
<circle cx="329.02" cy="109.12" r="1.65" fill="#3a97ad" stroke="#151515" stroke-width="0.5"/>
<circle cx="337.39" cy="109.17" r="1.65" fill="#9a9a9a" stroke="#151515" stroke-width="0.5"/>
<circle cx="337.35" cy="109.2" r="1.65" fill="#9a9a9a" stroke="#151515" stroke-width="0.5"/>
<circle cx="333.99" cy="109.29" r="1.65" fill="#9a9a9a" stroke="#151515" stroke-width="0.5"/>
<circle cx="333.36" cy="109.3" r="1.65" fill="#9a9a9a" stroke="#151515" stroke-width="0.5"/>
<circle cx="341.46" cy="109.31" r="1.65" fill="#e23f80" stroke="#151515" stroke-width="0.5"/>
<circle cx="332.54" cy="109.32" r="1.65" fill="#9a9a9a" stroke="#151515" stroke-width="0.5"/>
<circle cx="338.61" cy="109.32" r="1.65" fill="#9a9a9a" stroke="#151515" stroke-width="0.5"/>
<circle cx="337.15" cy="109.33" r="1.65" fill="#9a9a9a" stroke="#151515" stroke-width="0.5"/>
<circle cx="330.2" cy="109.33" r="1.65" fill="#3a97ad" stroke="#151515" stroke-width="0.5"/>
<circle cx="334.08" cy="109.35" r="1.65" fill="#9a9a9a" stroke="#151515" stroke-width="0.5"/>
<circle cx="339.25" cy="109.36" r="1.65" fill="#9a9a9a" stroke="#151515" stroke-width="0.5"/>
<circle cx="331.41" cy="109.37" r="1.65" fill="#9a9a9a" stroke="#151515" stroke-width="0.5"/>
<circle cx="337.07" cy="109.38" r="1.65" fill="#9a9a9a" stroke="#151515" stroke-width="0.5"/>
<circle cx="334.2" cy="109.39" r="1.65" fill="#9a9a9a" stroke="#151515" stroke-width="0.5"/>
<circle cx="339.66" cy="109.39" r="1.65" fill="#9a9a9a" stroke="#151515" stroke-width="0.5"/>
<circle cx="331.99" cy="109.41" r="1.65" fill="#9a9a9a" stroke="#151515" stroke-width="0.5"/>
<circle cx="338.94" cy="109.43" r="1.65" fill="#9a9a9a" stroke="#151515" stroke-width="0.5"/>
<circle cx="334.22" cy="109.44" r="1.65" fill="#9a9a9a" stroke="#151515" stroke-width="0.5"/>
<circle cx="334.64" cy="109.47" r="1.65" fill="#9a9a9a" stroke="#151515" stroke-width="0.5"/>
<circle cx="336.92" cy="109.47" r="1.65" fill="#9a9a9a" stroke="#151515" stroke-width="0.5"/>
<circle cx="338.42" cy="109.48" r="1.65" fill="#9a9a9a" stroke="#151515" stroke-width="0.5"/>
<circle cx="332.69" cy="109.49" r="1.65" fill="#9a9a9a" stroke="#151515" stroke-width="0.5"/>
<circle cx="336.87" cy="109.5" r="1.65" fill="#9a9a9a" stroke="#151515" stroke-width="0.5"/>
<circle cx="336.87" cy="109.51" r="1.65" fill="#9a9a9a" stroke="#151515" stroke-width="0.5"/>
<circle cx="334.37" cy="109.53" r="1.65" fill="#9a9a9a" stroke="#151515" stroke-width="0.5"/>
<circle cx="336.87" cy="109.54" r="1.65" fill="#9a9a9a" stroke="#151515" stroke-width="0.5"/>
<circle cx="336.78" cy="109.56" r="1.65" fill="#9a9a9a" stroke="#151515" stroke-width="0.5"/>
<circle cx="339.07" cy="109.57" r="1.65" fill="#9a9a9a" stroke="#151515" stroke-width="0.5"/>
<circle cx="334.45" cy="109.58" r="1.65" fill="#9a9a9a" stroke="#151515" stroke-width="0.5"/>
<circle cx="334.54" cy="109.58" r="1.65" fill="#9a9a9a" stroke="#151515" stroke-width="0.5"/>
<circle cx="334.47" cy="109.59" r="1.65" fill="#9a9a9a" stroke="#151515" stroke-width="0.5"/>
<circle cx="334.51" cy="109.61" r="1.65" fill="#9a9a9a" stroke="#151515" stroke-width="0.5"/>
<circle cx="338.77" cy="109.61" r="1.65" fill="#9a9a9a" stroke="#151515" stroke-width="0.5"/>
<circle cx="337.51" cy="109.62" r="1.65" fill="#9a9a9a" stroke="#151515" stroke-width="0.5"/>
<circle cx="334.57" cy="109.65" r="1.65" fill="#9a9a9a" stroke="#151515" stroke-width="0.5"/>
<circle cx="336.61" cy="109.66" r="1.65" fill="#9a9a9a" stroke="#151515" stroke-width="0.5"/>
<circle cx="336.55" cy="109.69" r="1.65" fill="#9a9a9a" stroke="#151515" stroke-width="0.5"/>
<circle cx="336.53" cy="109.7" r="1.65" fill="#9a9a9a" stroke="#151515" stroke-width="0.5"/>
<circle cx="333.98" cy="109.74" r="1.65" fill="#9a9a9a" stroke="#151515" stroke-width="0.5"/>
<circle cx="332.97" cy="109.75" r="1.65" fill="#9a9a9a" stroke="#151515" stroke-width="0.5"/>
<circle cx="337.73" cy="109.82" r="1.65" fill="#9a9a9a" stroke="#151515" stroke-width="0.5"/>
<circle cx="337.3" cy="109.85" r="1.65" fill="#9a9a9a" stroke="#151515" stroke-width="0.5"/>
<circle cx="334.59" cy="109.85" r="1.65" fill="#9a9a9a" stroke="#151515" stroke-width="0.5"/>
<circle cx="335.31" cy="109.9" r="1.65" fill="#9a9a9a" stroke="#151515" stroke-width="0.5"/>
<circle cx="338.01" cy="109.9" r="1.65" fill="#9a9a9a" stroke="#151515" stroke-width="0.5"/>
<circle cx="333.35" cy="109.94" r="1.65" fill="#9a9a9a" stroke="#151515" stroke-width="0.5"/>
<circle cx="335.47" cy="110.03" r="1.65" fill="#9a9a9a" stroke="#151515" stroke-width="0.5"/>
<text x="396.4" y="14" font-size="16.3">B</text>
<text x="447.9" y="31.1" font-size="7" text-anchor="middle" textLength="72" lengthAdjust="spacingAndGlyphs">DUX4-signature targets</text>
<text x="448.5" y="40.5" font-size="7" text-anchor="middle" textLength="45.5" lengthAdjust="spacingAndGlyphs">Yao et al. 2014</text>
<circle cx="444.5" cy="74.5" r="18.7" fill="#d8d8d8"/>
<path d="M444.5,74.5 L444.5,55.8 A18.7,18.7 0 0 1 445.61,55.83 Z" fill="#5fc24a"/>
<line x1="445.1" y1="72" x2="445.5" y2="52.5" stroke="#3f9a3f" stroke-width="0.6" />
<text x="446.8" y="54.2" font-size="7" fill="#3f9a3f" textLength="18.4" lengthAdjust="spacingAndGlyphs">0.94%</text>
<rect x="411.2" y="103.1" width="9.8" height="4.9" fill="#d8d8d8" stroke="#b0b0b0" stroke-width="0.4" />
<rect x="411.2" y="109.4" width="9.8" height="4.8" fill="#64c84a" />
<text x="424.3" y="107.7" font-size="7" textLength="60.6" lengthAdjust="spacingAndGlyphs">non DEG (211/213)</text>
<text x="424.3" y="113.7" font-size="7" textLength="37.8" lengthAdjust="spacingAndGlyphs">DEG (2/213)</text>
<line x1="536.8" y1="30.4" x2="536.8" y2="110" stroke="#333" stroke-width="0.8" />
<line x1="534" y1="110" x2="536.8" y2="110" stroke="#333" stroke-width="0.8" />
<text x="531.2" y="112.8" font-size="10" text-anchor="end">0</text>
<line x1="534" y1="90.1" x2="536.8" y2="90.1" stroke="#333" stroke-width="0.8" />
<text x="531.2" y="92.9" font-size="10" text-anchor="end">100</text>
<line x1="534" y1="70.2" x2="536.8" y2="70.2" stroke="#333" stroke-width="0.8" />
<text x="531.2" y="73" font-size="10" text-anchor="end">200</text>
<line x1="534" y1="50.3" x2="536.8" y2="50.3" stroke="#333" stroke-width="0.8" />
<text x="531.2" y="53.1" font-size="10" text-anchor="end">300</text>
<line x1="534" y1="30.4" x2="536.8" y2="30.4" stroke="#333" stroke-width="0.8" />
<text x="531.2" y="33.2" font-size="10" text-anchor="end">400</text>
<rect x="537.4" y="75.97" width="18.1" height="34.03" fill="#4a5aab" stroke="#2a2a2a" stroke-width="0.85" />
<rect x="557.3" y="101.05" width="18.1" height="8.96" fill="#e8612c" stroke="#2a2a2a" stroke-width="0.85" />
<line x1="536.8" y1="110" x2="575.7" y2="110" stroke="#333" stroke-width="0.8" />
<line x1="546.5" y1="89.5" x2="546.5" y2="62.44" stroke="#222" stroke-width="0.8" />
<line x1="543.05" y1="62.44" x2="549.95" y2="62.44" stroke="#222" stroke-width="0.8" />
<line x1="543.05" y1="89.5" x2="549.95" y2="89.5" stroke="#222" stroke-width="0.8" />
<line x1="566.4" y1="102.04" x2="566.4" y2="100.05" stroke="#222" stroke-width="0.8" />
<line x1="562.95" y1="100.05" x2="569.85" y2="100.05" stroke="#222" stroke-width="0.8" />
<line x1="562.95" y1="102.04" x2="569.85" y2="102.04" stroke="#222" stroke-width="0.8" />
<circle cx="546.4" cy="49.2" r="2" fill="#fff" stroke="#1a1a1a" stroke-width="0.8"/>
<circle cx="543.3" cy="92.2" r="2" fill="#fff" stroke="#1a1a1a" stroke-width="0.8"/>
<circle cx="549.7" cy="87" r="2" fill="#fff" stroke="#1a1a1a" stroke-width="0.8"/>
<circle cx="560.4" cy="98" r="2" fill="#fff" stroke="#1a1a1a" stroke-width="0.8"/>
<circle cx="566.3" cy="103.7" r="2" fill="#fff" stroke="#1a1a1a" stroke-width="0.8"/>
<circle cx="572.5" cy="102" r="2" fill="#fff" stroke="#1a1a1a" stroke-width="0.8"/>
<line x1="546" y1="43.1" x2="565.9" y2="43.1" stroke="#333" stroke-width="0.8" />
<text x="537.1" y="41.6" font-size="8.8" fill="#222" textLength="45" lengthAdjust="spacingAndGlyphs">FDR=0.010</text>
<text transform="translate(503,64.9) rotate(-90)" x="0" y="0" font-size="9.6" text-anchor="middle" textLength="46.3" lengthAdjust="spacingAndGlyphs">Transcripts</text>
<text transform="translate(511.4,63.4) rotate(-90)" x="0" y="0" font-size="9.8" text-anchor="middle" textLength="75.9" lengthAdjust="spacingAndGlyphs">Per Million Reads</text>
<text x="535.4" y="121.6" font-size="10.6" font-style="italic" textLength="37.1" lengthAdjust="spacingAndGlyphs">CXCR4</text>
<line x1="633" y1="30.3" x2="633" y2="110.1" stroke="#333" stroke-width="0.8" />
<line x1="630.2" y1="110.1" x2="633" y2="110.1" stroke="#333" stroke-width="0.8" />
<text x="628.6" y="112.9" font-size="10" text-anchor="end">0</text>
<line x1="630.2" y1="83.5" x2="633" y2="83.5" stroke="#333" stroke-width="0.8" />
<text x="628.6" y="86.3" font-size="10" text-anchor="end">1000</text>
<line x1="630.2" y1="56.9" x2="633" y2="56.9" stroke="#333" stroke-width="0.8" />
<text x="628.6" y="59.7" font-size="10" text-anchor="end">2000</text>
<line x1="630.2" y1="30.3" x2="633" y2="30.3" stroke="#333" stroke-width="0.8" />
<text x="628.6" y="33.1" font-size="10" text-anchor="end">3000</text>
<rect x="633.6" y="55.84" width="18" height="54.26" fill="#4a5aab" stroke="#2a2a2a" stroke-width="0.85" />
<rect x="653.8" y="80.57" width="18.1" height="29.53" fill="#e8612c" stroke="#2a2a2a" stroke-width="0.85" />
<line x1="633" y1="110.1" x2="672.2" y2="110.1" stroke="#333" stroke-width="0.8" />
<line x1="642.6" y1="62.49" x2="642.6" y2="49.19" stroke="#222" stroke-width="0.8" />
<line x1="638.9" y1="49.19" x2="646.3" y2="49.19" stroke="#222" stroke-width="0.8" />
<line x1="638.9" y1="62.49" x2="646.3" y2="62.49" stroke="#222" stroke-width="0.8" />
<line x1="662.9" y1="81.9" x2="662.9" y2="79.24" stroke="#222" stroke-width="0.8" />
<line x1="659.2" y1="79.24" x2="666.6" y2="79.24" stroke="#222" stroke-width="0.8" />
<line x1="659.2" y1="81.9" x2="666.6" y2="81.9" stroke="#222" stroke-width="0.8" />
<circle cx="643" cy="42.4" r="2" fill="#fff" stroke="#1a1a1a" stroke-width="0.8"/>
<circle cx="640.1" cy="66.4" r="2" fill="#fff" stroke="#1a1a1a" stroke-width="0.8"/>
<circle cx="646" cy="60.1" r="2" fill="#fff" stroke="#1a1a1a" stroke-width="0.8"/>
<circle cx="657" cy="78.6" r="2" fill="#fff" stroke="#1a1a1a" stroke-width="0.8"/>
<circle cx="662.9" cy="82.6" r="2" fill="#fff" stroke="#1a1a1a" stroke-width="0.8"/>
<circle cx="669.2" cy="81.1" r="2" fill="#fff" stroke="#1a1a1a" stroke-width="0.8"/>
<line x1="641.1" y1="35.9" x2="661" y2="35.9" stroke="#333" stroke-width="0.8" />
<text x="641" y="34.3" font-size="8.8" fill="#222" textLength="42.8" lengthAdjust="spacingAndGlyphs">FDR=0.026</text>
<text transform="translate(595.8,64.4) rotate(-90)" x="0" y="0" font-size="9.6" text-anchor="middle" textLength="44.9" lengthAdjust="spacingAndGlyphs">Transcripts</text>
<text transform="translate(604.2,64.5) rotate(-90)" x="0" y="0" font-size="9.8" text-anchor="middle" textLength="77.3" lengthAdjust="spacingAndGlyphs">Per Million Reads</text>
<text x="631.7" y="122.4" font-size="10.6" font-style="italic" textLength="42.3" lengthAdjust="spacingAndGlyphs">TENT5C</text>
<text x="8.4" y="185.5" font-size="16.3">C</text>
<path d="M51.6,151.2 L53.1,151.4 L54,152.1 L54.55,154 L54.35,155.6 L53.9,156.6 L53.35,157.5 L53.3,159 L55.5,160 L57.8,160.6 L58.7,161.7 L59.1,163.7 L59.4,166.7 L59.8,169.2 L60.4,170.8 L61.7,173.1 L62.9,175.8 L63.8,177.7 L65,178.6 L65.6,179.9 L65.2,180.5 L64.9,181.4 L64.2,182.4 L63.4,182.1 L62.8,180.7 L62,178.9 L60.9,177.4 L59.8,175.2 L58.9,172.4 L58.2,170.1 L57.8,168 L57.2,166.4 L56.95,168.3 L56.55,172.3 L57.1,177.1 L57.35,180.4 L57,184.4 L56.2,189.8 L56.5,193.8 L56,198.8 L55.2,202.8 L56.3,205.1 L56,206.2 L53.2,206.2 L52.9,203.7 L52.7,198 L52.45,191.6 L52.1,185.8 L51.85,182.8 L51.6,182.1 L51.35,182.8 L51.1,185.8 L50.75,191.6 L50.5,198 L50.3,203.7 L50,206.2 L47.2,206.2 L46.9,205.1 L48,202.8 L47.2,198.8 L46.7,193.8 L47,189.8 L46.2,184.4 L45.85,180.4 L46.1,177.1 L46.65,172.3 L46.25,168.3 L46,166.4 L45.4,168 L45,170.1 L44.3,172.4 L43.4,175.2 L42.3,177.4 L41.2,178.9 L40.4,180.7 L39.8,182.1 L39,182.4 L38.3,181.4 L38,180.5 L37.6,179.9 L38.2,178.6 L39.4,177.7 L40.3,175.8 L41.5,173.1 L42.8,170.8 L43.4,169.2 L43.8,166.7 L44.1,163.7 L44.5,161.7 L45.4,160.6 L47.7,160 L49.9,159 L49.85,157.5 L49.3,156.6 L48.85,155.6 L48.65,154 L49.2,152.1 L50.1,151.4Z" fill="#9b9b9b"/>
<text x="191.7" y="187.1" font-size="9.9" text-anchor="end" font-weight="bold">Reactome</text>
<rect x="195.2" y="190.7" width="64.43" height="10.2" fill="#e63587" />
<text x="193.8" y="198.8" font-size="8.5" text-anchor="end" fill="#111">mRNA Splicing</text>
<rect x="195.2" y="202.12" width="64.43" height="10.2" fill="#e63587" />
<text x="193.8" y="210.22" font-size="8.5" text-anchor="end" fill="#111">Metabolism of RNA</text>
<rect x="195.2" y="213.54" width="64.43" height="10.2" fill="#e63587" />
<text x="193.8" y="221.64" font-size="8.5" text-anchor="end" fill="#111">Processing of Capped Intron-Containing Pre-mRNA</text>
<rect x="195.2" y="224.96" width="54.99" height="10.2" fill="#e63587" />
<text x="193.8" y="233.06" font-size="8.5" text-anchor="end" fill="#111">mRNA Splicing - Major Pathway</text>
<line x1="195.2" y1="190.2" x2="195.2" y2="235.9" stroke="#333" stroke-width="0.8" />
<line x1="195.2" y1="235.9" x2="266" y2="235.9" stroke="#333" stroke-width="0.8" />
<line x1="195.2" y1="235.9" x2="195.2" y2="238.2" stroke="#333" stroke-width="0.8" />
<text x="195.2" y="246" font-size="10" text-anchor="middle">0</text>
<line x1="218.8" y1="235.9" x2="218.8" y2="238.2" stroke="#333" stroke-width="0.8" />
<text x="218.8" y="246" font-size="10" text-anchor="middle">1</text>
<line x1="242.4" y1="235.9" x2="242.4" y2="238.2" stroke="#333" stroke-width="0.8" />
<text x="242.4" y="246" font-size="10" text-anchor="middle">2</text>
<line x1="266" y1="235.9" x2="266" y2="238.2" stroke="#333" stroke-width="0.8" />
<text x="266" y="246" font-size="10" text-anchor="middle">3</text>
<text x="229.8" y="254.2" font-size="10" text-anchor="middle" textLength="56" lengthAdjust="spacingAndGlyphs">-Log10 FDR</text>
<text x="191.8" y="269.1" font-size="9.9" text-anchor="end" font-weight="bold">Cellular Components</text>
<rect x="193.9" y="273.5" width="52.85" height="10.2" fill="#e63587" />
<text x="193" y="281.6" font-size="8.5" text-anchor="end" fill="#111">nuclear speck</text>
<rect x="193.9" y="284.95" width="52.85" height="10.2" fill="#e63587" />
<text x="193" y="293.05" font-size="8.5" text-anchor="end" fill="#111">nucleoplasm</text>
<rect x="193.9" y="296.4" width="41.65" height="10.2" fill="#e63587" />
<text x="193" y="304.5" font-size="8.5" text-anchor="end" fill="#111">cytoplasm</text>
<rect x="193.9" y="307.85" width="37.1" height="10.2" fill="#e63587" />
<text x="193" y="315.95" font-size="8.5" text-anchor="end" fill="#111">spliceosomal complex</text>
<line x1="193.9" y1="273" x2="193.9" y2="317.8" stroke="#333" stroke-width="0.8" />
<line x1="193.9" y1="317.8" x2="262.5" y2="317.8" stroke="#333" stroke-width="0.8" />
<line x1="193.9" y1="317.8" x2="193.9" y2="320.1" stroke="#333" stroke-width="0.8" />
<text x="193.9" y="329.6" font-size="10" text-anchor="middle">0</text>
<line x1="211.4" y1="317.8" x2="211.4" y2="320.1" stroke="#333" stroke-width="0.8" />
<text x="211.4" y="329.6" font-size="10" text-anchor="middle">1</text>
<line x1="228.9" y1="317.8" x2="228.9" y2="320.1" stroke="#333" stroke-width="0.8" />
<text x="228.9" y="329.6" font-size="10" text-anchor="middle">2</text>
<line x1="246.4" y1="317.8" x2="246.4" y2="320.1" stroke="#333" stroke-width="0.8" />
<text x="246.4" y="329.6" font-size="10" text-anchor="middle">3</text>
<text x="228.5" y="337.4" font-size="10" text-anchor="middle" textLength="56.3" lengthAdjust="spacingAndGlyphs">-Log10 FDR</text>
<text x="263.6" y="322" font-size="10" text-anchor="middle">4</text>
<rect x="290.9" y="192.4" width="8.22" height="8.18" fill="#4090a9" />
<rect x="298.72" y="192.4" width="8.22" height="8.18" fill="#52a0b6" />
<rect x="306.54" y="192.4" width="8.22" height="8.18" fill="#4998b0" />
<rect x="314.36" y="192.4" width="8.22" height="8.18" fill="#ec84ba" />
<rect x="322.18" y="192.4" width="8.22" height="8.18" fill="#c8e6ea" />
<rect x="330" y="192.4" width="7.82" height="8.18" fill="#e8328a" />
<text x="339.4" y="198.69" font-size="6.7" font-weight="bold" font-style="italic" fill="#2a2a2a">MYOD1</text>
<rect x="290.9" y="200.18" width="8.22" height="8.18" fill="#56a4b9" />
<rect x="298.72" y="200.18" width="8.22" height="8.18" fill="#4090a9" />
<rect x="306.54" y="200.18" width="8.22" height="8.18" fill="#94ccd8" />
<rect x="314.36" y="200.18" width="8.22" height="8.18" fill="#e8328a" />
<rect x="322.18" y="200.18" width="8.22" height="8.18" fill="#e8328a" />
<rect x="330" y="200.18" width="7.82" height="8.18" fill="#e83c90" />
<text x="339.4" y="206.47" font-size="6.7" font-style="italic" fill="#2a2a2a">RBM25</text>
<rect x="290.9" y="207.96" width="8.22" height="8.18" fill="#56a4b9" />
<rect x="298.72" y="207.96" width="8.22" height="8.18" fill="#4090a9" />
<rect x="306.54" y="207.96" width="8.22" height="8.18" fill="#7dbecc" />
<rect x="314.36" y="207.96" width="8.22" height="8.18" fill="#efacce" />
<rect x="322.18" y="207.96" width="8.22" height="8.18" fill="#eb70ae" />
<rect x="330" y="207.96" width="7.82" height="8.18" fill="#e8328a" />
<text x="339.4" y="214.25" font-size="6.7" font-style="italic" fill="#2a2a2a">HNRNPM</text>
<rect x="290.9" y="215.74" width="8.22" height="8.18" fill="#66afc2" />
<rect x="298.72" y="215.74" width="8.22" height="8.18" fill="#4090a9" />
<rect x="306.54" y="215.74" width="8.22" height="8.18" fill="#add9e2" />
<rect x="314.36" y="215.74" width="8.22" height="8.18" fill="#ec84ba" />
<rect x="322.18" y="215.74" width="8.22" height="8.18" fill="#ea5ba2" />
<rect x="330" y="215.74" width="7.82" height="8.18" fill="#e8328a" />
<text x="339.4" y="222.03" font-size="6.7" font-style="italic" fill="#2a2a2a">SFSWAP</text>
<rect x="290.9" y="223.52" width="8.22" height="8.18" fill="#4594ac" />
<rect x="298.72" y="223.52" width="8.22" height="8.18" fill="#4594ac" />
<rect x="306.54" y="223.52" width="8.22" height="8.18" fill="#52a0b6" />
<rect x="314.36" y="223.52" width="8.22" height="8.18" fill="#bbdfe6" />
<rect x="322.18" y="223.52" width="8.22" height="8.18" fill="#e8328a" />
<rect x="330" y="223.52" width="7.82" height="8.18" fill="#eea2c9" />
<text x="339.4" y="229.81" font-size="6.7" font-style="italic" fill="#2a2a2a">DDX5</text>
<rect x="290.9" y="231.3" width="8.22" height="8.18" fill="#4d9cb3" />
<rect x="298.72" y="231.3" width="8.22" height="8.18" fill="#4090a9" />
<rect x="306.54" y="231.3" width="8.22" height="8.18" fill="#66afc2" />
<rect x="314.36" y="231.3" width="8.22" height="8.18" fill="#e3f2f4" />
<rect x="322.18" y="231.3" width="8.22" height="8.18" fill="#e8328a" />
<rect x="330" y="231.3" width="7.82" height="8.18" fill="#f0d3e3" />
<text x="339.4" y="237.59" font-size="6.7" font-style="italic" fill="#2a2a2a">CLK1</text>
<rect x="290.9" y="239.08" width="8.22" height="8.18" fill="#5aa8bc" />
<rect x="298.72" y="239.08" width="8.22" height="8.18" fill="#4090a9" />
<rect x="306.54" y="239.08" width="8.22" height="8.18" fill="#7dbecc" />
<rect x="314.36" y="239.08" width="8.22" height="8.18" fill="#f0c0d8" />
<rect x="322.18" y="239.08" width="8.22" height="8.18" fill="#e8328a" />
<rect x="330" y="239.08" width="7.82" height="8.18" fill="#ea5ba2" />
<text x="339.4" y="245.37" font-size="6.7" font-style="italic" fill="#2a2a2a">RBM39</text>
<rect x="290.9" y="246.86" width="8.22" height="8.18" fill="#56a4b9" />
<rect x="298.72" y="246.86" width="8.22" height="8.18" fill="#4090a9" />
<rect x="306.54" y="246.86" width="8.22" height="8.18" fill="#71b6c7" />
<rect x="314.36" y="246.86" width="8.22" height="8.18" fill="#f0c9dd" />
<rect x="322.18" y="246.86" width="8.22" height="8.18" fill="#e8328a" />
<rect x="330" y="246.86" width="7.82" height="8.18" fill="#ea65a8" />
<text x="339.4" y="253.15" font-size="6.7" font-weight="bold" font-style="italic" fill="#2a2a2a">RBFOX2</text>
<rect x="290.9" y="254.64" width="8.22" height="8.18" fill="#4594ac" />
<rect x="298.72" y="254.64" width="8.22" height="8.18" fill="#4d9cb3" />
<rect x="306.54" y="254.64" width="8.22" height="8.18" fill="#66afc2" />
<rect x="314.36" y="254.64" width="8.22" height="8.18" fill="#f0d3e3" />
<rect x="322.18" y="254.64" width="8.22" height="8.18" fill="#e8328a" />
<rect x="330" y="254.64" width="7.82" height="8.18" fill="#e94696" />
<text x="339.4" y="260.93" font-size="6.7" font-weight="bold" font-style="italic" fill="#2a2a2a">SRSF5</text>
<rect x="290.9" y="262.42" width="8.22" height="8.18" fill="#4998b0" />
<rect x="298.72" y="262.42" width="8.22" height="8.18" fill="#4594ac" />
<rect x="306.54" y="262.42" width="8.22" height="8.18" fill="#94ccd8" />
<rect x="314.36" y="262.42" width="8.22" height="8.18" fill="#f0c0d8" />
<rect x="322.18" y="262.42" width="8.22" height="8.18" fill="#e8328a" />
<rect x="330" y="262.42" width="7.82" height="8.18" fill="#e94696" />
<text x="339.4" y="268.71" font-size="6.7" font-style="italic" fill="#2a2a2a">UPF3A</text>
<rect x="290.9" y="270.2" width="8.22" height="8.18" fill="#4d9cb3" />
<rect x="298.72" y="270.2" width="8.22" height="8.18" fill="#4594ac" />
<rect x="306.54" y="270.2" width="8.22" height="8.18" fill="#add9e2" />
<rect x="314.36" y="270.2" width="8.22" height="8.18" fill="#f0c0d8" />
<rect x="322.18" y="270.2" width="8.22" height="8.18" fill="#e8328a" />
<rect x="330" y="270.2" width="7.82" height="8.18" fill="#ea65a8" />
<text x="339.4" y="276.49" font-size="6.7" font-weight="bold" fill="#2a2a2a">DDX17</text>
<rect x="290.9" y="277.98" width="8.22" height="8.18" fill="#4998b0" />
<rect x="298.72" y="277.98" width="8.22" height="8.18" fill="#4594ac" />
<rect x="306.54" y="277.98" width="8.22" height="8.18" fill="#f0f8f8" />
<rect x="314.36" y="277.98" width="8.22" height="8.18" fill="#efb6d3" />
<rect x="322.18" y="277.98" width="8.22" height="8.18" fill="#e83c90" />
<rect x="330" y="277.98" width="7.82" height="8.18" fill="#e8328a" />
<text x="339.4" y="284.27" font-size="6.7" font-style="italic" fill="#2a2a2a">CCNL2</text>
<rect x="290.9" y="285.76" width="8.22" height="8.18" fill="#56a4b9" />
<rect x="298.72" y="285.76" width="8.22" height="8.18" fill="#52a0b6" />
<rect x="306.54" y="285.76" width="8.22" height="8.18" fill="#4594ac" />
<rect x="314.36" y="285.76" width="8.22" height="8.18" fill="#ed98c4" />
<rect x="322.18" y="285.76" width="8.22" height="8.18" fill="#e8328a" />
<rect x="330" y="285.76" width="7.82" height="8.18" fill="#ed98c4" />
<text x="339.4" y="292.05" font-size="6.7" font-style="italic" fill="#2a2a2a">HNRNPA1</text>
<rect x="290.9" y="293.54" width="8.22" height="8.18" fill="#4594ac" />
<rect x="298.72" y="293.54" width="8.22" height="8.18" fill="#5aa8bc" />
<rect x="306.54" y="293.54" width="8.22" height="8.18" fill="#4d9cb3" />
<rect x="314.36" y="293.54" width="8.22" height="8.18" fill="#ec84ba" />
<rect x="322.18" y="293.54" width="8.22" height="8.18" fill="#e83c90" />
<rect x="330" y="293.54" width="7.82" height="8.18" fill="#e8328a" />
<text x="339.4" y="299.83" font-size="6.7" font-style="italic" fill="#2a2a2a">CIRBP</text>
<rect x="290.9" y="301.32" width="8.22" height="8.18" fill="#66afc2" />
<rect x="298.72" y="301.32" width="8.22" height="8.18" fill="#4594ac" />
<rect x="306.54" y="301.32" width="8.22" height="8.18" fill="#4594ac" />
<rect x="314.36" y="301.32" width="8.22" height="8.18" fill="#5aa8bc" />
<rect x="322.18" y="301.32" width="8.22" height="8.18" fill="#ed8ebf" />
<rect x="330" y="301.32" width="7.82" height="8.18" fill="#e8328a" />
<text x="339.4" y="307.61" font-size="6.7" font-style="italic" fill="#2a2a2a">NR4A1</text>
<rect x="290.9" y="309.1" width="8.22" height="8.18" fill="#4594ac" />
<rect x="298.72" y="309.1" width="8.22" height="8.18" fill="#4594ac" />
<rect x="306.54" y="309.1" width="8.22" height="8.18" fill="#4998b0" />
<rect x="314.36" y="309.1" width="8.22" height="8.18" fill="#a0d3dd" />
<rect x="322.18" y="309.1" width="8.22" height="8.18" fill="#e8328a" />
<rect x="330" y="309.1" width="7.82" height="8.18" fill="#e8328a" />
<text x="339.4" y="315.39" font-size="6.7" font-style="italic" fill="#2a2a2a">CRHR2</text>
<rect x="290.9" y="316.88" width="8.22" height="7.78" fill="#4594ac" />
<rect x="298.72" y="316.88" width="8.22" height="7.78" fill="#4998b0" />
<rect x="306.54" y="316.88" width="8.22" height="7.78" fill="#4594ac" />
<rect x="314.36" y="316.88" width="8.22" height="7.78" fill="#7dbecc" />
<rect x="322.18" y="316.88" width="8.22" height="7.78" fill="#e8328a" />
<rect x="330" y="316.88" width="7.82" height="7.78" fill="#ea519c" />
<text x="339.4" y="323.17" font-size="6.7" font-style="italic" fill="#2a2a2a">NR4A3</text>
<line x1="337.8" y1="324.7" x2="373.6" y2="324.7" stroke="#d0d0d0" stroke-width="0.5" />
<circle cx="294.81" cy="188.6" r="2.3" fill="#3f51b0" stroke="#333" stroke-width="0.35"/>
<circle cx="302.63" cy="188.6" r="2.3" fill="#3f51b0" stroke="#333" stroke-width="0.35"/>
<circle cx="310.45" cy="188.6" r="2.3" fill="#3f51b0" stroke="#333" stroke-width="0.35"/>
<circle cx="318.27" cy="188.6" r="2.3" fill="#dd2a22" stroke="#333" stroke-width="0.35"/>
<circle cx="326.09" cy="188.6" r="2.3" fill="#e8612c" stroke="#333" stroke-width="0.35"/>
<circle cx="333.91" cy="188.6" r="2.3" fill="#e8612c" stroke="#333" stroke-width="0.35"/>
<polyline points="294.81,186.3 294.81,181.2 302.63,181.2 302.63,186.3" fill="none" stroke="#555" stroke-width="0.55"/>
<polyline points="310.45,186.3 310.45,181.2 318.27,181.2 318.27,186.3" fill="none" stroke="#555" stroke-width="0.55"/>
<polyline points="298.72,181.2 298.72,177.9 314.36,177.9 314.36,181.2" fill="none" stroke="#555" stroke-width="0.55"/>
<polyline points="326.09,186.3 326.09,184.4 333.91,184.4 333.91,186.3" fill="none" stroke="#555" stroke-width="0.55"/>
<polyline points="306.54,177.9 306.54,173.4 330,173.4 330,184.4" fill="none" stroke="#555" stroke-width="0.55"/>
<polyline points="290.5,196.29 276.6,196.29 276.6,262 283.1,262" fill="none" stroke="#555" stroke-width="0.55"/>
<polyline points="290.5,204.07 288.6,204.07 288.6,211.85 290.5,211.85" fill="none" stroke="#555" stroke-width="0.55"/>
<polyline points="288.6,207.96 287.4,207.96 287.4,219.63 290.5,219.63" fill="none" stroke="#555" stroke-width="0.55"/>
<polyline points="290.5,227.41 289,227.41 289,235.19 290.5,235.19" fill="none" stroke="#555" stroke-width="0.55"/>
<polyline points="290.5,242.97 289.2,242.97 289.2,250.75 290.5,250.75" fill="none" stroke="#555" stroke-width="0.55"/>
<polyline points="289,231.3 287.9,231.3 287.9,246.86 289.2,246.86" fill="none" stroke="#555" stroke-width="0.55"/>
<polyline points="290.5,258.53 288.9,258.53 288.9,266.31 290.5,266.31" fill="none" stroke="#555" stroke-width="0.55"/>
<polyline points="290.5,274.09 289.3,274.09 289.3,281.87 290.5,281.87" fill="none" stroke="#555" stroke-width="0.55"/>
<polyline points="288.9,262.42 288,262.42 288,277.98 289.3,277.98" fill="none" stroke="#555" stroke-width="0.55"/>
<polyline points="287.9,239.08 286.8,239.08 286.8,270.2 288,270.2" fill="none" stroke="#555" stroke-width="0.55"/>
<polyline points="287.4,213.79 285.6,213.79 285.6,254.64 286.8,254.64" fill="none" stroke="#555" stroke-width="0.55"/>
<polyline points="290.5,289.65 288.7,289.65 288.7,297.43 290.5,297.43" fill="none" stroke="#555" stroke-width="0.55"/>
<polyline points="290.5,312.99 289.1,312.99 289.1,320.77 290.5,320.77" fill="none" stroke="#555" stroke-width="0.55"/>
<polyline points="290.5,305.21 287.6,305.21 287.6,316.88 289.1,316.88" fill="none" stroke="#555" stroke-width="0.55"/>
<polyline points="288.7,293.54 286,293.54 286,311.05 287.6,311.05" fill="none" stroke="#555" stroke-width="0.55"/>
<polyline points="285.6,234.22 283.1,234.22 283.1,302.29 286,302.29" fill="none" stroke="#555" stroke-width="0.55"/>
<defs><linearGradient id="hg" x1="0" x2="1" y1="0" y2="0"><stop offset="0" stop-color="#3888a3"/><stop offset="0.2" stop-color="#5aa8bc"/><stop offset="0.35" stop-color="#a0d3dd"/><stop offset="0.5" stop-color="#f0f8f8"/><stop offset="0.65" stop-color="#f0c0d8"/><stop offset="0.8" stop-color="#ec84ba"/><stop offset="1" stop-color="#e8328a"/></linearGradient></defs>
<rect x="290" y="332.2" width="47.8" height="4.6" fill="url(#hg)" />
<text x="290" y="331" font-size="6.8" fill="#333">min</text>
<text x="337.8" y="331" font-size="6.8" text-anchor="end" fill="#333">max</text>
<text x="314.5" y="342.8" font-size="7" text-anchor="middle" fill="#333" textLength="34" lengthAdjust="spacingAndGlyphs">expression</text>
<text x="399.8" y="184.6" font-size="16.3">D</text>
<path d="M426.9,179.5 Q442.6,167.1 458.3,179.5 Q442.6,191.9 426.9,179.5 Z" fill="#b9b9b9"/>
<circle cx="442.1" cy="179.2" r="6.6" fill="#b3b3b3" stroke="#e6e6e6" stroke-width="0.8"/>
<rect x="421.8" y="202.7" width="53" height="21.7" fill="#fff" stroke="#cfcfcf" stroke-width="0.6" />
<text x="425.7" y="212.7" font-size="9.5" font-weight="bold" fill="#4457b8" textLength="38.2" lengthAdjust="spacingAndGlyphs">PAX7 wt</text>
<text x="425.7" y="221.6" font-size="9.5" font-weight="bold" fill="#e8612c" textLength="45.4" lengthAdjust="spacingAndGlyphs">PAX7 mut</text>
<line x1="542.7" y1="163" x2="542.7" y2="243.2" stroke="#333" stroke-width="0.8" />
<line x1="539.9" y1="243.2" x2="542.7" y2="243.2" stroke="#333" stroke-width="0.8" />
<text x="537.8" y="246" font-size="10" text-anchor="end">0.0</text>
<line x1="539.9" y1="223.15" x2="542.7" y2="223.15" stroke="#333" stroke-width="0.8" />
<text x="537.8" y="225.95" font-size="10" text-anchor="end">0.5</text>
<line x1="539.9" y1="203.1" x2="542.7" y2="203.1" stroke="#333" stroke-width="0.8" />
<text x="537.8" y="205.9" font-size="10" text-anchor="end">1.0</text>
<line x1="539.9" y1="183.05" x2="542.7" y2="183.05" stroke="#333" stroke-width="0.8" />
<text x="537.8" y="185.85" font-size="10" text-anchor="end">1.5</text>
<line x1="539.9" y1="163" x2="542.7" y2="163" stroke="#333" stroke-width="0.8" />
<text x="537.8" y="165.8" font-size="10" text-anchor="end">2.0</text>
<rect x="543.5" y="202.3" width="18.1" height="40.9" fill="#4a5aab" stroke="#2a2a2a" stroke-width="0.85" />
<rect x="563.6" y="177.44" width="18.1" height="65.76" fill="#e8612c" stroke="#2a2a2a" stroke-width="0.85" />
<line x1="542.7" y1="243.2" x2="581.9" y2="243.2" stroke="#333" stroke-width="0.8" />
<line x1="552.6" y1="207.91" x2="552.6" y2="196.68" stroke="#222" stroke-width="0.8" />
<line x1="549.35" y1="196.68" x2="555.85" y2="196.68" stroke="#222" stroke-width="0.8" />
<line x1="549.35" y1="207.91" x2="555.85" y2="207.91" stroke="#222" stroke-width="0.8" />
<line x1="572.6" y1="179.84" x2="572.6" y2="175.03" stroke="#222" stroke-width="0.8" />
<line x1="569.35" y1="175.03" x2="575.85" y2="175.03" stroke="#222" stroke-width="0.8" />
<line x1="569.35" y1="179.84" x2="575.85" y2="179.84" stroke="#222" stroke-width="0.8" />
<circle cx="549.3" cy="194.2" r="2" fill="#fff" stroke="#1a1a1a" stroke-width="0.8"/>
<circle cx="555.2" cy="200.1" r="2" fill="#fff" stroke="#1a1a1a" stroke-width="0.8"/>
<circle cx="552.6" cy="213" r="2" fill="#fff" stroke="#1a1a1a" stroke-width="0.8"/>
<circle cx="572.5" cy="172.8" r="2" fill="#fff" stroke="#1a1a1a" stroke-width="0.8"/>
<circle cx="575.4" cy="177.5" r="2" fill="#fff" stroke="#1a1a1a" stroke-width="0.8"/>
<circle cx="569.2" cy="181.7" r="2" fill="#fff" stroke="#1a1a1a" stroke-width="0.8"/>
<line x1="553" y1="164.5" x2="572.6" y2="164.5" stroke="#111" stroke-width="0.9" />
<text x="556.4" y="162.2" font-size="8.3" fill="#111" textLength="30.5" lengthAdjust="spacingAndGlyphs"><tspan font-style="italic">p</tspan>=0.014</text>
<text transform="translate(518.5,205.1) rotate(-90)" x="0" y="0" font-size="10.4" text-anchor="middle" textLength="92.4" lengthAdjust="spacingAndGlyphs">Relative Expression</text>
<text x="538.6" y="253.9" font-size="11" font-style="italic" textLength="43.9" lengthAdjust="spacingAndGlyphs">RBFOX2</text>
<line x1="633.6" y1="163.1" x2="633.6" y2="243.2" stroke="#333" stroke-width="0.8" />
<line x1="630.8" y1="243.2" x2="633.6" y2="243.2" stroke="#333" stroke-width="0.8" />
<text x="628.3" y="246" font-size="10" text-anchor="end">0</text>
<line x1="630.8" y1="216.5" x2="633.6" y2="216.5" stroke="#333" stroke-width="0.8" />
<text x="628.3" y="219.3" font-size="10" text-anchor="end">1</text>
<line x1="630.8" y1="189.8" x2="633.6" y2="189.8" stroke="#333" stroke-width="0.8" />
<text x="628.3" y="192.6" font-size="10" text-anchor="end">2</text>
<line x1="630.8" y1="163.1" x2="633.6" y2="163.1" stroke="#333" stroke-width="0.8" />
<text x="628.3" y="165.9" font-size="10" text-anchor="end">3</text>
<rect x="634.2" y="216.5" width="18.2" height="26.7" fill="#4a5aab" stroke="#2a2a2a" stroke-width="0.85" />
<rect x="654.4" y="183.12" width="18.2" height="60.07" fill="#e8612c" stroke="#2a2a2a" stroke-width="0.85" />
<line x1="633.6" y1="243.2" x2="672.8" y2="243.2" stroke="#333" stroke-width="0.8" />
<line x1="643.3" y1="219.17" x2="643.3" y2="213.83" stroke="#222" stroke-width="0.8" />
<line x1="640.05" y1="213.83" x2="646.55" y2="213.83" stroke="#222" stroke-width="0.8" />
<line x1="640.05" y1="219.17" x2="646.55" y2="219.17" stroke="#222" stroke-width="0.8" />
<line x1="663.5" y1="188.47" x2="663.5" y2="181.79" stroke="#222" stroke-width="0.8" />
<line x1="660.25" y1="181.79" x2="666.75" y2="181.79" stroke="#222" stroke-width="0.8" />
<line x1="660.25" y1="188.47" x2="666.75" y2="188.47" stroke="#222" stroke-width="0.8" />
<circle cx="643.6" cy="210.7" r="2" fill="#fff" stroke="#1a1a1a" stroke-width="0.8"/>
<circle cx="640.7" cy="219.2" r="2" fill="#fff" stroke="#1a1a1a" stroke-width="0.8"/>
<circle cx="646.1" cy="217.8" r="2" fill="#fff" stroke="#1a1a1a" stroke-width="0.8"/>
<circle cx="660.5" cy="178" r="2" fill="#fff" stroke="#1a1a1a" stroke-width="0.8"/>
<circle cx="666.4" cy="182.1" r="2" fill="#fff" stroke="#1a1a1a" stroke-width="0.8"/>
<circle cx="663.5" cy="189.8" r="2" fill="#fff" stroke="#1a1a1a" stroke-width="0.8"/>
<line x1="643.6" y1="172.5" x2="663.5" y2="172.5" stroke="#111" stroke-width="0.9" />
<text x="646.8" y="170" font-size="8.3" fill="#111" textLength="35.8" lengthAdjust="spacingAndGlyphs"><tspan font-style="italic">p</tspan>=0.0018</text>
<text transform="translate(618.8,205.2) rotate(-90)" x="0" y="0" font-size="10.4" text-anchor="middle" textLength="92.4" lengthAdjust="spacingAndGlyphs">Relative Expression</text>
<text x="634" y="253.9" font-size="11" font-style="italic" textLength="34.6" lengthAdjust="spacingAndGlyphs">DDX17</text>
<line x1="456.2" y1="274.7" x2="456.2" y2="355.4" stroke="#333" stroke-width="0.8" />
<line x1="453.4" y1="355.4" x2="456.2" y2="355.4" stroke="#333" stroke-width="0.8" />
<text x="453.2" y="358.2" font-size="10" text-anchor="end">0.0</text>
<line x1="453.4" y1="338.1" x2="456.2" y2="338.1" stroke="#333" stroke-width="0.8" />
<text x="453.2" y="340.9" font-size="10" text-anchor="end">0.5</text>
<line x1="453.4" y1="320.8" x2="456.2" y2="320.8" stroke="#333" stroke-width="0.8" />
<text x="453.2" y="323.6" font-size="10" text-anchor="end">1.0</text>
<line x1="453.4" y1="303.5" x2="456.2" y2="303.5" stroke="#333" stroke-width="0.8" />
<text x="453.2" y="306.3" font-size="10" text-anchor="end">1.5</text>
<line x1="453.4" y1="286.2" x2="456.2" y2="286.2" stroke="#333" stroke-width="0.8" />
<text x="453.2" y="289" font-size="10" text-anchor="end">2.0</text>
<rect x="456.8" y="321.15" width="18.1" height="34.25" fill="#4a5aab" stroke="#2a2a2a" stroke-width="0.85" />
<rect x="477.2" y="293.81" width="18.2" height="61.59" fill="#e8612c" stroke="#2a2a2a" stroke-width="0.85" />
<line x1="456.2" y1="355.4" x2="495.6" y2="355.4" stroke="#333" stroke-width="0.8" />
<line x1="466.1" y1="321.84" x2="466.1" y2="320.11" stroke="#222" stroke-width="0.8" />
<line x1="462.85" y1="320.11" x2="469.35" y2="320.11" stroke="#222" stroke-width="0.8" />
<line x1="462.85" y1="321.84" x2="469.35" y2="321.84" stroke="#222" stroke-width="0.8" />
<line x1="486.3" y1="300.39" x2="486.3" y2="287.58" stroke="#222" stroke-width="0.8" />
<line x1="483.05" y1="287.58" x2="489.55" y2="287.58" stroke="#222" stroke-width="0.8" />
<line x1="483.05" y1="300.39" x2="489.55" y2="300.39" stroke="#222" stroke-width="0.8" />
<circle cx="459.8" cy="319.7" r="2" fill="#fff" stroke="#1a1a1a" stroke-width="0.8"/>
<circle cx="466.1" cy="323" r="2" fill="#fff" stroke="#1a1a1a" stroke-width="0.8"/>
<circle cx="472.3" cy="320.4" r="2" fill="#fff" stroke="#1a1a1a" stroke-width="0.8"/>
<circle cx="483.3" cy="285" r="2" fill="#fff" stroke="#1a1a1a" stroke-width="0.8"/>
<circle cx="489.2" cy="289.9" r="2" fill="#fff" stroke="#1a1a1a" stroke-width="0.8"/>
<circle cx="486.3" cy="306.5" r="2" fill="#fff" stroke="#1a1a1a" stroke-width="0.8"/>
<line x1="464.2" y1="280.5" x2="483.6" y2="280.5" stroke="#111" stroke-width="0.9" />
<text x="469.3" y="278.5" font-size="8.3" fill="#111" textLength="31" lengthAdjust="spacingAndGlyphs"><tspan font-style="italic">p</tspan>=0.015</text>
<text transform="translate(434.7,317.3) rotate(-90)" x="0" y="0" font-size="10.4" text-anchor="middle" textLength="92.4" lengthAdjust="spacingAndGlyphs">Relative Expression</text>
<text x="456.5" y="366.1" font-size="11" font-style="italic" textLength="38.6" lengthAdjust="spacingAndGlyphs">MYOD1</text>
<line x1="543.6" y1="276.2" x2="543.6" y2="356.5" stroke="#333" stroke-width="0.8" />
<line x1="540.8" y1="356.5" x2="543.6" y2="356.5" stroke="#333" stroke-width="0.8" />
<text x="538.2" y="359.3" font-size="10" text-anchor="end">0.0</text>
<line x1="540.8" y1="331.4" x2="543.6" y2="331.4" stroke="#333" stroke-width="0.8" />
<text x="538.2" y="334.2" font-size="10" text-anchor="end">0.5</text>
<line x1="540.8" y1="306.3" x2="543.6" y2="306.3" stroke="#333" stroke-width="0.8" />
<text x="538.2" y="309.1" font-size="10" text-anchor="end">1.0</text>
<line x1="540.8" y1="281.2" x2="543.6" y2="281.2" stroke="#333" stroke-width="0.8" />
<text x="538.2" y="284" font-size="10" text-anchor="end">1.5</text>
<rect x="544.2" y="306.3" width="18.2" height="50.2" fill="#4a5aab" stroke="#2a2a2a" stroke-width="0.85" />
<rect x="564.5" y="289.23" width="18" height="67.27" fill="#e8612c" stroke="#2a2a2a" stroke-width="0.85" />
<line x1="543.6" y1="356.5" x2="582.7" y2="356.5" stroke="#333" stroke-width="0.8" />
<line x1="553.2" y1="310.82" x2="553.2" y2="302.28" stroke="#222" stroke-width="0.8" />
<line x1="549.95" y1="302.28" x2="556.45" y2="302.28" stroke="#222" stroke-width="0.8" />
<line x1="549.95" y1="310.82" x2="556.45" y2="310.82" stroke="#222" stroke-width="0.8" />
<line x1="573.3" y1="292.24" x2="573.3" y2="287.22" stroke="#222" stroke-width="0.8" />
<line x1="570.05" y1="287.22" x2="576.55" y2="287.22" stroke="#222" stroke-width="0.8" />
<line x1="570.05" y1="292.24" x2="576.55" y2="292.24" stroke="#222" stroke-width="0.8" />
<circle cx="550.5" cy="299.5" r="2" fill="#fff" stroke="#1a1a1a" stroke-width="0.8"/>
<circle cx="556.4" cy="303.5" r="2" fill="#fff" stroke="#1a1a1a" stroke-width="0.8"/>
<circle cx="553.2" cy="315.7" r="2" fill="#fff" stroke="#1a1a1a" stroke-width="0.8"/>
<circle cx="570.4" cy="284.3" r="2" fill="#fff" stroke="#1a1a1a" stroke-width="0.8"/>
<circle cx="576.3" cy="288.3" r="2" fill="#fff" stroke="#1a1a1a" stroke-width="0.8"/>
<circle cx="573.3" cy="295.8" r="2" fill="#fff" stroke="#1a1a1a" stroke-width="0.8"/>
<line x1="552.7" y1="279.5" x2="572.6" y2="279.5" stroke="#111" stroke-width="0.9" />
<text x="556.4" y="277.5" font-size="8.3" fill="#111" textLength="30.2" lengthAdjust="spacingAndGlyphs"><tspan font-style="italic">p</tspan>=0.049</text>
<text transform="translate(520.4,318) rotate(-90)" x="0" y="0" font-size="10.4" text-anchor="middle" textLength="92.4" lengthAdjust="spacingAndGlyphs">Relative Expression</text>
<text x="543.1" y="366.9" font-size="11" font-style="italic" textLength="36.1" lengthAdjust="spacingAndGlyphs">SRSF5</text>
<line x1="634.2" y1="276.2" x2="634.2" y2="356.5" stroke="#333" stroke-width="0.8" />
<line x1="631.4" y1="356.5" x2="634.2" y2="356.5" stroke="#333" stroke-width="0.8" />
<text x="631.2" y="359.3" font-size="10" text-anchor="end">0.0</text>
<line x1="631.4" y1="331.5" x2="634.2" y2="331.5" stroke="#333" stroke-width="0.8" />
<text x="631.2" y="334.3" font-size="10" text-anchor="end">0.5</text>
<line x1="631.4" y1="306.5" x2="634.2" y2="306.5" stroke="#333" stroke-width="0.8" />
<text x="631.2" y="309.3" font-size="10" text-anchor="end">1.0</text>
<line x1="631.4" y1="281.5" x2="634.2" y2="281.5" stroke="#333" stroke-width="0.8" />
<text x="631.2" y="284.3" font-size="10" text-anchor="end">1.5</text>
<rect x="634.8" y="302" width="17.9" height="54.5" fill="#4a5aab" stroke="#2a2a2a" stroke-width="0.85" />
<rect x="655.1" y="301.5" width="18" height="55" fill="#e8612c" stroke="#2a2a2a" stroke-width="0.85" />
<line x1="634.2" y1="356.5" x2="673.3" y2="356.5" stroke="#333" stroke-width="0.8" />
<line x1="644" y1="313.5" x2="644" y2="290" stroke="#222" stroke-width="0.8" />
<line x1="640.75" y1="290" x2="647.25" y2="290" stroke="#222" stroke-width="0.8" />
<line x1="640.75" y1="313.5" x2="647.25" y2="313.5" stroke="#222" stroke-width="0.8" />
<line x1="664.2" y1="303.5" x2="664.2" y2="299.5" stroke="#222" stroke-width="0.8" />
<line x1="660.95" y1="299.5" x2="667.45" y2="299.5" stroke="#222" stroke-width="0.8" />
<line x1="660.95" y1="303.5" x2="667.45" y2="303.5" stroke="#222" stroke-width="0.8" />
<circle cx="641.1" cy="287.2" r="2" fill="#fff" stroke="#1a1a1a" stroke-width="0.8"/>
<circle cx="647.3" cy="292.1" r="2" fill="#fff" stroke="#1a1a1a" stroke-width="0.8"/>
<circle cx="644" cy="325.5" r="2" fill="#fff" stroke="#1a1a1a" stroke-width="0.8"/>
<circle cx="664.2" cy="297.6" r="2" fill="#fff" stroke="#1a1a1a" stroke-width="0.8"/>
<circle cx="667.2" cy="301.5" r="2" fill="#fff" stroke="#1a1a1a" stroke-width="0.8"/>
<circle cx="661" cy="304.9" r="2" fill="#fff" stroke="#1a1a1a" stroke-width="0.8"/>
<text x="650.2" y="280.7" font-size="8.3" textLength="8.9" lengthAdjust="spacingAndGlyphs">ns</text>
<text transform="translate(612.6,318.2) rotate(-90)" x="0" y="0" font-size="10.4" text-anchor="middle" textLength="92.4" lengthAdjust="spacingAndGlyphs">Relative Expression</text>
<text x="634.5" y="366.9" font-size="11" font-style="italic" textLength="37.8" lengthAdjust="spacingAndGlyphs">RBM25</text>
<text x="9.4" y="430.8" font-size="16.3">E</text>
<path d="M50.3,384.9 L51.8,385.1 L52.7,385.8 L53.25,387.7 L53.05,389.3 L52.6,390.3 L52.05,391.2 L52,392.7 L54.2,393.7 L56.5,394.3 L57.4,395.4 L57.8,397.4 L58.1,400.4 L58.5,402.9 L59.1,404.5 L60.4,406.8 L61.6,409.5 L62.5,411.4 L63.7,412.3 L64.3,413.6 L63.9,414.2 L63.6,415.1 L62.9,416.1 L62.1,415.8 L61.5,414.4 L60.7,412.6 L59.6,411.1 L58.5,408.9 L57.6,406.1 L56.9,403.8 L56.5,401.7 L55.9,400.1 L55.65,402 L55.25,406 L55.8,410.8 L56.05,414.1 L55.7,418.1 L54.9,423.5 L55.2,427.5 L54.7,432.5 L53.9,436.5 L55,438.8 L54.7,439.9 L51.9,439.9 L51.6,437.4 L51.4,431.7 L51.15,425.3 L50.8,419.5 L50.55,416.5 L50.3,415.8 L50.05,416.5 L49.8,419.5 L49.45,425.3 L49.2,431.7 L49,437.4 L48.7,439.9 L45.9,439.9 L45.6,438.8 L46.7,436.5 L45.9,432.5 L45.4,427.5 L45.7,423.5 L44.9,418.1 L44.55,414.1 L44.8,410.8 L45.35,406 L44.95,402 L44.7,400.1 L44.1,401.7 L43.7,403.8 L43,406.1 L42.1,408.9 L41,411.1 L39.9,412.6 L39.1,414.4 L38.5,415.8 L37.7,416.1 L37,415.1 L36.7,414.2 L36.3,413.6 L36.9,412.3 L38.1,411.4 L39,409.5 L40.2,406.8 L41.5,404.5 L42.1,402.9 L42.5,400.4 L42.8,397.4 L43.2,395.4 L44.1,394.3 L46.4,393.7 L48.6,392.7 L48.55,391.2 L48,390.3 L47.55,389.3 L47.35,387.7 L47.9,385.8 L48.8,385.1Z" fill="#9b9b9b"/>
<text x="275.4" y="384.1" font-size="9.9" text-anchor="end" font-weight="bold">Reactome</text>
<rect x="278.3" y="386.4" width="62.18" height="10.2" fill="#428aa4" />
<text x="276.2" y="394.5" font-size="8.5" text-anchor="end" fill="#111">Respiratory electron transport</text>
<rect x="278.3" y="397.78" width="62.18" height="10.2" fill="#428aa4" />
<text x="276.2" y="405.88" font-size="8.5" text-anchor="end" fill="#111">The citric acid cycle and respiratory electron transport</text>
<rect x="278.3" y="409.16" width="39.79" height="10.2" fill="#428aa4" />
<text x="276.2" y="417.26" font-size="8.5" text-anchor="end" fill="#111">NGF-stimulated transcription</text>
<rect x="278.3" y="420.54" width="39.79" height="10.2" fill="#428aa4" />
<text x="276.2" y="428.64" font-size="8.5" text-anchor="end" fill="#111">Respiratory electron transport</text>
<rect x="278.3" y="431.92" width="38.63" height="10.2" fill="#428aa4" />
<text x="276.2" y="440.02" font-size="8.5" text-anchor="end" fill="#111">Complex I biogenesis</text>
<rect x="278.3" y="443.3" width="26.68" height="10.2" fill="#428aa4" />
<text x="276.2" y="451.4" font-size="8.5" text-anchor="end" fill="#111">Metabolism</text>
<rect x="278.3" y="454.68" width="26.68" height="10.2" fill="#428aa4" />
<text x="276.2" y="462.78" font-size="8.5" text-anchor="end" fill="#111">Nuclear Events (kinase and transcription factor activation)</text>
<line x1="278.3" y1="385.9" x2="278.3" y2="465.3" stroke="#333" stroke-width="0.8" />
<line x1="278.3" y1="465.3" x2="347.9" y2="465.3" stroke="#333" stroke-width="0.8" />
<line x1="278.3" y1="465.3" x2="278.3" y2="467.6" stroke="#333" stroke-width="0.8" />
<text x="278.3" y="477.6" font-size="10" text-anchor="middle">0</text>
<line x1="301.5" y1="465.3" x2="301.5" y2="467.6" stroke="#333" stroke-width="0.8" />
<text x="301.5" y="477.6" font-size="10" text-anchor="middle">2</text>
<line x1="324.7" y1="465.3" x2="324.7" y2="467.6" stroke="#333" stroke-width="0.8" />
<text x="324.7" y="477.6" font-size="10" text-anchor="middle">4</text>
<line x1="347.9" y1="465.3" x2="347.9" y2="467.6" stroke="#333" stroke-width="0.8" />
<text x="347.9" y="477.6" font-size="10" text-anchor="middle">6</text>
<text x="312.4" y="485.7" font-size="10" text-anchor="middle" textLength="55.6" lengthAdjust="spacingAndGlyphs">-Log10 FDR</text>
<text x="275.4" y="492.9" font-size="9.9" text-anchor="end" font-weight="bold">Cellular Components</text>
<rect x="277.8" y="497" width="61.73" height="10.2" fill="#428aa4" />
<text x="276.2" y="505.1" font-size="8.5" text-anchor="end" fill="#111">mitochondrial protein-containing complex</text>
<rect x="277.8" y="508.34" width="45.77" height="10.2" fill="#428aa4" />
<text x="276.2" y="516.44" font-size="8.5" text-anchor="end" fill="#111">inner mitochondrial membrane protein complex</text>
<rect x="277.8" y="519.68" width="43.66" height="10.2" fill="#428aa4" />
<text x="276.2" y="527.78" font-size="8.5" text-anchor="end" fill="#111">mitochondrial envelope</text>
<rect x="277.8" y="531.02" width="40.15" height="10.2" fill="#428aa4" />
<text x="276.2" y="539.12" font-size="8.5" text-anchor="end" fill="#111">mitochondrial inner membrane</text>
<rect x="277.8" y="542.36" width="37.81" height="10.2" fill="#428aa4" />
<text x="276.2" y="550.46" font-size="8.5" text-anchor="end" fill="#111">mitochondrial membrane</text>
<rect x="277.8" y="553.7" width="37.81" height="10.2" fill="#428aa4" />
<text x="276.2" y="561.8" font-size="8.5" text-anchor="end" fill="#111">mitochondrial respirasome</text>
<rect x="277.8" y="565.04" width="35.71" height="10.2" fill="#428aa4" />
<text x="276.2" y="573.14" font-size="8.5" text-anchor="end" fill="#111">organelle inner membrane</text>
<line x1="277.8" y1="496.5" x2="277.8" y2="575.1" stroke="#333" stroke-width="0.8" />
<line x1="277.8" y1="575.1" x2="347.9" y2="575.1" stroke="#333" stroke-width="0.8" />
<line x1="277.8" y1="575.1" x2="277.8" y2="577.4" stroke="#333" stroke-width="0.8" />
<text x="277.8" y="587.6" font-size="10" text-anchor="middle">0</text>
<line x1="301.2" y1="575.1" x2="301.2" y2="577.4" stroke="#333" stroke-width="0.8" />
<text x="301.2" y="587.6" font-size="10" text-anchor="middle">5</text>
<line x1="324.6" y1="575.1" x2="324.6" y2="577.4" stroke="#333" stroke-width="0.8" />
<text x="324.6" y="587.6" font-size="10" text-anchor="middle">10</text>
<line x1="348" y1="575.1" x2="348" y2="577.4" stroke="#333" stroke-width="0.8" />
<text x="348" y="587.6" font-size="10" text-anchor="middle">15</text>
<text x="312.1" y="595.7" font-size="10" text-anchor="middle" textLength="56.1" lengthAdjust="spacingAndGlyphs">-Log10 FDR</text>
<path d="M430.75,409.3 Q446.6,396.3 462.45,409.3 Q446.6,422.3 430.75,409.3 Z" fill="#b9b9b9"/>
<circle cx="446.1" cy="409" r="6.2" fill="#b3b3b3" stroke="#e6e6e6" stroke-width="0.8"/>
<text x="399.4" y="431.4" font-size="16.3">H</text>
<rect x="414.1" y="421.5" width="260.9" height="11.8" fill="#fff" stroke="#555" stroke-width="0.7" />
<text x="443.8" y="431.1" font-size="9.6" font-weight="bold" textLength="28.8" lengthAdjust="spacingAndGlyphs">Nuclei</text>
<text x="516.5" y="431" font-size="9.7" font-weight="bold" fill="#c03cc0" textLength="55.2" lengthAdjust="spacingAndGlyphs">MitoTracker</text>
<text x="613" y="431" font-size="9.8" textLength="27.9" lengthAdjust="spacingAndGlyphs">merge</text>
<rect x="398.4" y="435.4" width="14.9" height="63" fill="#fff" stroke="#555" stroke-width="0.7" />
<rect x="398.4" y="498.6" width="14.9" height="65.4" fill="#fff" stroke="#555" stroke-width="0.7" />
<text transform="translate(409.7,465.4) rotate(-90)" x="0" y="0" font-size="9.6" text-anchor="middle">PAX7 wt</text>
<text transform="translate(409.7,527) rotate(-90)" x="0" y="0" font-size="9.6" text-anchor="middle">PAX7 Mut</text>
<defs><filter id="bl" x="-0.1" y="-0.1" width="1.2" height="1.2"><feGaussianBlur stdDeviation="0.55"/></filter><filter id="bl2" x="-0.1" y="-0.1" width="1.2" height="1.2"><feGaussianBlur stdDeviation="0.85"/></filter><clipPath id="cp1"><rect x="414.7" y="435.4" width="85.3" height="63"/></clipPath><clipPath id="cp2"><rect x="502" y="435.4" width="84.8" height="63"/></clipPath><clipPath id="cp3"><rect x="588.8" y="435.4" width="85.7" height="63"/></clipPath><clipPath id="cp4"><rect x="414.7" y="500" width="85.3" height="63.7"/></clipPath><clipPath id="cp5"><rect x="502" y="500" width="84.8" height="63.7"/></clipPath><clipPath id="cp6"><rect x="588.8" y="500" width="85.7" height="63.7"/></clipPath></defs>
<rect x="414.7" y="435.4" width="85.3" height="63" fill="#050505" />
<rect x="502" y="435.4" width="84.8" height="63" fill="#050505" />
<rect x="588.8" y="435.4" width="85.7" height="63" fill="#050505" />
<rect x="414.7" y="500" width="85.3" height="63.7" fill="#121212" />
<rect x="502" y="500" width="84.8" height="63.7" fill="#080808" />
<rect x="588.8" y="500" width="85.7" height="63.7" fill="#111" />
<g clip-path="url(#cp2)"><g filter="url(#bl2)"><ellipse cx="514.55" cy="437.28" rx="4.36" ry="1.56" transform="rotate(42.83 514.55 437.28)" fill="#9a2cb2" opacity="0.42"/><line x1="514.55" y1="437.28" x2="522.14" y2="440.21" stroke="#a030b8" stroke-width="0.9" opacity="0.55"/><ellipse cx="531.5" cy="440.42" rx="3.59" ry="2" transform="rotate(46.68 531.5 440.42)" fill="#9a2cb2" opacity="0.39"/><ellipse cx="540.29" cy="440.42" rx="3.38" ry="1.74" transform="rotate(115.03 540.29 440.42)" fill="#9a2cb2" opacity="0.47"/><line x1="540.29" y1="440.42" x2="531.42" y2="452.16" stroke="#a030b8" stroke-width="0.9" opacity="0.55"/><circle cx="541.33" cy="440.79" r="1.74" fill="#c044dc" opacity="0.71"/><ellipse cx="538.41" cy="436.66" rx="4.18" ry="1.8" transform="rotate(155.79 538.41 436.66)" fill="#9a2cb2" opacity="0.48"/><ellipse cx="554.1" cy="444.82" rx="5" ry="1.61" transform="rotate(71.09 554.1 444.82)" fill="#9a2cb2" opacity="0.49"/><circle cx="552.65" cy="443.68" r="2.27" fill="#c044dc" opacity="0.83"/><ellipse cx="558.5" cy="443.56" rx="3.75" ry="1.66" transform="rotate(112.8 558.5 443.56)" fill="#9a2cb2" opacity="0.38"/><line x1="558.5" y1="443.56" x2="552.2" y2="455.89" stroke="#a030b8" stroke-width="0.9" opacity="0.55"/><ellipse cx="573.56" cy="446.7" rx="5.32" ry="1.9" transform="rotate(122.76 573.56 446.7)" fill="#9a2cb2" opacity="0.5"/><line x1="573.56" y1="446.7" x2="569.01" y2="462.67" stroke="#a030b8" stroke-width="0.9" opacity="0.55"/><ellipse cx="580.47" cy="446.45" rx="4.42" ry="1.8" transform="rotate(162.85 580.47 446.45)" fill="#9a2cb2" opacity="0.34"/><ellipse cx="517.69" cy="451.47" rx="3.16" ry="1.9" transform="rotate(51.29 517.69 451.47)" fill="#9a2cb2" opacity="0.5"/><line x1="517.69" y1="451.47" x2="522.55" y2="462.56" stroke="#a030b8" stroke-width="0.9" opacity="0.55"/><circle cx="516.87" cy="452.55" r="2.2" fill="#c044dc" opacity="0.71"/><ellipse cx="541.92" cy="451.72" rx="3.11" ry="1.8" transform="rotate(110.62 541.92 451.72)" fill="#9a2cb2" opacity="0.37"/><ellipse cx="558.25" cy="449.46" rx="5.5" ry="1.52" transform="rotate(90.98 558.25 449.46)" fill="#9a2cb2" opacity="0.32"/><line x1="558.25" y1="449.46" x2="562.06" y2="458.68" stroke="#a030b8" stroke-width="0.9" opacity="0.55"/><circle cx="558.69" cy="448.09" r="1.53" fill="#c044dc" opacity="0.96"/><ellipse cx="524.98" cy="456.49" rx="5.4" ry="1.93" transform="rotate(56.49 524.98 456.49)" fill="#9a2cb2" opacity="0.38"/><line x1="524.98" y1="456.49" x2="532.73" y2="468.67" stroke="#a030b8" stroke-width="0.9" opacity="0.55"/><ellipse cx="536.53" cy="458.38" rx="4.55" ry="1.96" transform="rotate(100.67 536.53 458.38)" fill="#9a2cb2" opacity="0.4"/><line x1="536.53" y1="458.38" x2="532.69" y2="468.02" stroke="#a030b8" stroke-width="0.9" opacity="0.55"/><circle cx="538.44" cy="458.46" r="1.94" fill="#c044dc" opacity="0.7"/><ellipse cx="553.48" cy="455.49" rx="4.45" ry="1.31" transform="rotate(74.74 553.48 455.49)" fill="#9a2cb2" opacity="0.42"/><line x1="553.48" y1="455.49" x2="562.12" y2="466.85" stroke="#a030b8" stroke-width="0.9" opacity="0.55"/><ellipse cx="512.67" cy="459.88" rx="3.88" ry="1.79" transform="rotate(122.27 512.67 459.88)" fill="#9a2cb2" opacity="0.45"/><line x1="512.67" y1="459.88" x2="510.03" y2="474.4" stroke="#a030b8" stroke-width="0.9" opacity="0.55"/><ellipse cx="540.92" cy="460.26" rx="4.14" ry="1.71" transform="rotate(45.2 540.92 460.26)" fill="#9a2cb2" opacity="0.36"/><line x1="540.92" y1="460.26" x2="550.4" y2="467.1" stroke="#a030b8" stroke-width="0.9" opacity="0.55"/><ellipse cx="544.44" cy="462.77" rx="3.94" ry="1.84" transform="rotate(54.07 544.44 462.77)" fill="#9a2cb2" opacity="0.31"/><line x1="544.44" y1="462.77" x2="548.98" y2="472.9" stroke="#a030b8" stroke-width="0.9" opacity="0.55"/><circle cx="545.65" cy="461.72" r="1.65" fill="#c044dc" opacity="0.83"/><ellipse cx="554.48" cy="459.51" rx="3.25" ry="1.53" transform="rotate(125.65 554.48 459.51)" fill="#9a2cb2" opacity="0.37"/><circle cx="555.9" cy="458.18" r="1.77" fill="#c044dc" opacity="0.9"/><ellipse cx="526.86" cy="464.9" rx="4.13" ry="1.46" transform="rotate(159.28 526.86 464.9)" fill="#9a2cb2" opacity="0.32"/><line x1="526.86" y1="464.9" x2="513.89" y2="474.39" stroke="#a030b8" stroke-width="0.9" opacity="0.55"/><ellipse cx="513.93" cy="467.42" rx="3.7" ry="1.87" transform="rotate(33.05 513.93 467.42)" fill="#9a2cb2" opacity="0.43"/><circle cx="512.45" cy="466.58" r="2.14" fill="#c044dc" opacity="0.78"/><ellipse cx="523.59" cy="468.67" rx="4.04" ry="1.59" transform="rotate(62.34 523.59 468.67)" fill="#9a2cb2" opacity="0.38"/><circle cx="521.61" cy="470.44" r="2.2" fill="#c044dc" opacity="1"/><ellipse cx="552.22" cy="467.42" rx="5.38" ry="1.95" transform="rotate(78.18 552.22 467.42)" fill="#9a2cb2" opacity="0.34"/><ellipse cx="575.45" cy="464.03" rx="4.3" ry="1.5" transform="rotate(119.34 575.45 464.03)" fill="#9a2cb2" opacity="0.37"/><line x1="575.45" y1="464.03" x2="573.58" y2="477.79" stroke="#a030b8" stroke-width="0.9" opacity="0.55"/><circle cx="576.69" cy="462.21" r="2.22" fill="#c044dc" opacity="0.91"/><ellipse cx="582.35" cy="466.79" rx="5.24" ry="1.93" transform="rotate(166.29 582.35 466.79)" fill="#9a2cb2" opacity="0.42"/><line x1="582.35" y1="466.79" x2="572.64" y2="467.03" stroke="#a030b8" stroke-width="0.9" opacity="0.55"/><circle cx="583" cy="466.89" r="1.83" fill="#c044dc" opacity="0.98"/><ellipse cx="519.58" cy="471.81" rx="3.85" ry="1.48" transform="rotate(110.19 519.58 471.81)" fill="#9a2cb2" opacity="0.47"/><line x1="519.58" y1="471.81" x2="513.09" y2="481.32" stroke="#a030b8" stroke-width="0.9" opacity="0.55"/><circle cx="519.72" cy="473.08" r="1.64" fill="#c044dc" opacity="0.94"/><ellipse cx="540.92" cy="471.18" rx="5.02" ry="1.88" transform="rotate(165.92 540.92 471.18)" fill="#9a2cb2" opacity="0.3"/><line x1="540.92" y1="471.18" x2="532.44" y2="470.58" stroke="#a030b8" stroke-width="0.9" opacity="0.55"/><circle cx="539.99" cy="471.29" r="1.84" fill="#c044dc" opacity="0.84"/><ellipse cx="585.49" cy="472.44" rx="3" ry="1.34" transform="rotate(139.77 585.49 472.44)" fill="#9a2cb2" opacity="0.33"/><line x1="585.49" y1="472.44" x2="577.11" y2="488.08" stroke="#a030b8" stroke-width="0.9" opacity="0.55"/><ellipse cx="504.51" cy="477.46" rx="4.26" ry="1.52" transform="rotate(15.5 504.51 477.46)" fill="#9a2cb2" opacity="0.36"/><line x1="504.51" y1="477.46" x2="517.29" y2="482.84" stroke="#a030b8" stroke-width="0.9" opacity="0.55"/><circle cx="503.28" cy="476.77" r="1.6" fill="#c044dc" opacity="0.87"/><ellipse cx="539.66" cy="476.2" rx="3.95" ry="1.36" transform="rotate(128.89 539.66 476.2)" fill="#9a2cb2" opacity="0.34"/><line x1="539.66" y1="476.2" x2="528.65" y2="487.57" stroke="#a030b8" stroke-width="0.9" opacity="0.55"/><circle cx="540.87" cy="476.7" r="1.85" fill="#c044dc" opacity="0.81"/><ellipse cx="545.69" cy="475.58" rx="4.76" ry="1.59" transform="rotate(89.31 545.69 475.58)" fill="#9a2cb2" opacity="0.44"/><line x1="545.69" y1="475.58" x2="548.8" y2="488.57" stroke="#a030b8" stroke-width="0.9" opacity="0.55"/><ellipse cx="556.24" cy="478.09" rx="4.06" ry="1.6" transform="rotate(12.88 556.24 478.09)" fill="#9a2cb2" opacity="0.48"/><circle cx="557.83" cy="479.25" r="1.71" fill="#c044dc" opacity="0.84"/><ellipse cx="564.77" cy="476.83" rx="5.03" ry="1.76" transform="rotate(22.17 564.77 476.83)" fill="#9a2cb2" opacity="0.48"/><ellipse cx="580.47" cy="475.83" rx="4.41" ry="1.37" transform="rotate(132.07 580.47 475.83)" fill="#9a2cb2" opacity="0.42"/><line x1="580.47" y1="475.83" x2="574" y2="490.18" stroke="#a030b8" stroke-width="0.9" opacity="0.55"/><circle cx="578.84" cy="474.22" r="2.2" fill="#c044dc" opacity="0.75"/><ellipse cx="516.06" cy="480.6" rx="5.1" ry="1.38" transform="rotate(4.23 516.06 480.6)" fill="#9a2cb2" opacity="0.47"/><line x1="516.06" y1="480.6" x2="532.42" y2="486.89" stroke="#a030b8" stroke-width="0.9" opacity="0.55"/><ellipse cx="539.66" cy="480.6" rx="3.09" ry="1.84" transform="rotate(143.77 539.66 480.6)" fill="#9a2cb2" opacity="0.4"/><circle cx="540.66" cy="482.34" r="1.55" fill="#c044dc" opacity="0.8"/><ellipse cx="569.17" cy="480.6" rx="5.07" ry="1.47" transform="rotate(101.52 569.17 480.6)" fill="#9a2cb2" opacity="0.34"/><line x1="569.17" y1="480.6" x2="564.55" y2="495.43" stroke="#a030b8" stroke-width="0.9" opacity="0.55"/><circle cx="568.64" cy="480.18" r="1.78" fill="#c044dc" opacity="0.83"/><ellipse cx="528.99" cy="484.36" rx="4.25" ry="1.98" transform="rotate(14.99 528.99 484.36)" fill="#9a2cb2" opacity="0.38"/><circle cx="529.76" cy="485.39" r="2.04" fill="#c044dc" opacity="0.86"/><ellipse cx="534.02" cy="483.11" rx="4.61" ry="1.93" transform="rotate(87.07 534.02 483.11)" fill="#9a2cb2" opacity="0.33"/><line x1="534.02" y1="483.11" x2="531.19" y2="500.04" stroke="#a030b8" stroke-width="0.9" opacity="0.55"/><ellipse cx="551.59" cy="486.25" rx="4.8" ry="1.43" transform="rotate(79.75 551.59 486.25)" fill="#9a2cb2" opacity="0.35"/><line x1="551.59" y1="486.25" x2="552.75" y2="497.34" stroke="#a030b8" stroke-width="0.9" opacity="0.55"/><circle cx="552.36" cy="488.06" r="1.74" fill="#c044dc" opacity="0.91"/><ellipse cx="557.87" cy="486.25" rx="5.13" ry="1.71" transform="rotate(74.38 557.87 486.25)" fill="#9a2cb2" opacity="0.35"/><line x1="557.87" y1="486.25" x2="566" y2="496.12" stroke="#a030b8" stroke-width="0.9" opacity="0.55"/><circle cx="556.56" cy="485.69" r="1.76" fill="#c044dc" opacity="0.93"/><ellipse cx="573.56" cy="485.62" rx="5.48" ry="1.64" transform="rotate(25.85 573.56 485.62)" fill="#9a2cb2" opacity="0.42"/><line x1="573.56" y1="485.62" x2="585.5" y2="496.59" stroke="#a030b8" stroke-width="0.9" opacity="0.55"/><ellipse cx="537.78" cy="487.5" rx="4.8" ry="1.9" transform="rotate(86.63 537.78 487.5)" fill="#9a2cb2" opacity="0.38"/><ellipse cx="564.77" cy="488.13" rx="3.57" ry="1.46" transform="rotate(84.13 564.77 488.13)" fill="#9a2cb2" opacity="0.44"/><line x1="564.77" y1="488.13" x2="559.92" y2="503.94" stroke="#a030b8" stroke-width="0.9" opacity="0.55"/><circle cx="563.53" cy="487.17" r="1.65" fill="#c044dc" opacity="0.91"/><ellipse cx="508.28" cy="489.39" rx="5.25" ry="1.48" transform="rotate(154.55 508.28 489.39)" fill="#9a2cb2" opacity="0.47"/><line x1="508.28" y1="489.39" x2="494.94" y2="496.87" stroke="#a030b8" stroke-width="0.9" opacity="0.55"/><circle cx="506.65" cy="490.72" r="1.73" fill="#c044dc" opacity="0.81"/><ellipse cx="544.06" cy="489.64" rx="4.69" ry="1.3" transform="rotate(104.45 544.06 489.64)" fill="#9a2cb2" opacity="0.37"/><line x1="544.06" y1="489.64" x2="541.66" y2="499.45" stroke="#a030b8" stroke-width="0.9" opacity="0.55"/><ellipse cx="519.58" cy="493.4" rx="3.98" ry="1.68" transform="rotate(171.96 519.58 493.4)" fill="#9a2cb2" opacity="0.32"/><line x1="519.58" y1="493.4" x2="510.45" y2="493.37" stroke="#a030b8" stroke-width="0.9" opacity="0.55"/><ellipse cx="525.23" cy="494.66" rx="3.24" ry="1.96" transform="rotate(163.58 525.23 494.66)" fill="#9a2cb2" opacity="0.37"/><ellipse cx="570.42" cy="491.9" rx="4.69" ry="1.76" transform="rotate(53.2 570.42 491.9)" fill="#9a2cb2" opacity="0.46"/><line x1="570.42" y1="491.9" x2="577.61" y2="507.98" stroke="#a030b8" stroke-width="0.9" opacity="0.55"/><ellipse cx="509.53" cy="493.4" rx="3.28" ry="1.65" transform="rotate(96.51 509.53 493.4)" fill="#9a2cb2" opacity="0.37"/><ellipse cx="572.94" cy="495.41" rx="3.45" ry="1.75" transform="rotate(101.95 572.94 495.41)" fill="#9a2cb2" opacity="0.43"/><line x1="572.94" y1="495.41" x2="565.34" y2="507.83" stroke="#a030b8" stroke-width="0.9" opacity="0.55"/><circle cx="574.66" cy="493.98" r="1.77" fill="#c044dc" opacity="0.92"/><ellipse cx="504.51" cy="488.13" rx="4.39" ry="1.75" transform="rotate(107.54 504.51 488.13)" fill="#9a2cb2" opacity="0.39"/><line x1="504.51" y1="488.13" x2="504.31" y2="496.81" stroke="#a030b8" stroke-width="0.9" opacity="0.55"/><ellipse cx="532.13" cy="473.06" rx="4.36" ry="1.82" transform="rotate(135.81 532.13 473.06)" fill="#9a2cb2" opacity="0.37"/><line x1="532.13" y1="473.06" x2="521.39" y2="485.88" stroke="#a030b8" stroke-width="0.9" opacity="0.55"/><circle cx="532.15" cy="472.05" r="2.12" fill="#c044dc" opacity="0.81"/><ellipse cx="547.2" cy="468.04" rx="4.01" ry="1.68" transform="rotate(59.92 547.2 468.04)" fill="#9a2cb2" opacity="0.45"/><line x1="547.2" y1="468.04" x2="549.21" y2="476.94" stroke="#a030b8" stroke-width="0.9" opacity="0.55"/><circle cx="545.6" cy="466.49" r="2.12" fill="#c044dc" opacity="0.92"/><ellipse cx="567.29" cy="460.51" rx="3.47" ry="1.59" transform="rotate(33.27 567.29 460.51)" fill="#9a2cb2" opacity="0.45"/><ellipse cx="581.1" cy="454.23" rx="3.37" ry="1.58" transform="rotate(106.54 581.1 454.23)" fill="#9a2cb2" opacity="0.34"/><line x1="581.1" y1="454.23" x2="577.67" y2="463.65" stroke="#a030b8" stroke-width="0.9" opacity="0.55"/><circle cx="582.22" cy="452.35" r="2.14" fill="#c044dc" opacity="0.97"/><ellipse cx="507.02" cy="447.95" rx="3.96" ry="1.69" transform="rotate(170.88 507.02 447.95)" fill="#9a2cb2" opacity="0.42"/><line x1="507.02" y1="447.95" x2="492.64" y2="444.18" stroke="#a030b8" stroke-width="0.9" opacity="0.55"/><circle cx="508.46" cy="447.89" r="1.98" fill="#c044dc" opacity="0.92"/><ellipse cx="527.11" cy="442.93" rx="4.93" ry="1.76" transform="rotate(0.43 527.11 442.93)" fill="#9a2cb2" opacity="0.4"/><line x1="527.11" y1="442.93" x2="537.04" y2="442.66" stroke="#a030b8" stroke-width="0.9" opacity="0.55"/><ellipse cx="561.01" cy="470.55" rx="4.25" ry="1.75" transform="rotate(6.67 561.01 470.55)" fill="#9a2cb2" opacity="0.39"/><line x1="561.01" y1="470.55" x2="575.72" y2="478.92" stroke="#a030b8" stroke-width="0.9" opacity="0.55"/><circle cx="562.18" cy="471.05" r="1.54" fill="#c044dc" opacity="0.81"/><ellipse cx="584.86" cy="485.62" rx="3.19" ry="1.68" transform="rotate(42.01 584.86 485.62)" fill="#9a2cb2" opacity="0.49"/><line x1="584.86" y1="485.62" x2="592.21" y2="498.63" stroke="#a030b8" stroke-width="0.9" opacity="0.55"/><circle cx="586.3" cy="486.02" r="2.24" fill="#c044dc" opacity="0.91"/><ellipse cx="517.07" cy="486.88" rx="3.86" ry="1.86" transform="rotate(133.15 517.07 486.88)" fill="#9a2cb2" opacity="0.49"/><circle cx="518.09" cy="486.82" r="1.59" fill="#c044dc" opacity="0.71"/><ellipse cx="549.71" cy="494.41" rx="3.5" ry="1.41" transform="rotate(14.03 549.71 494.41)" fill="#9a2cb2" opacity="0.4"/><line x1="549.71" y1="494.41" x2="561.46" y2="497.76" stroke="#a030b8" stroke-width="0.9" opacity="0.55"/><ellipse cx="583.61" cy="494.41" rx="4.16" ry="1.83" transform="rotate(54.84 583.61 494.41)" fill="#9a2cb2" opacity="0.38"/><line x1="583.61" y1="494.41" x2="587.59" y2="509.07" stroke="#a030b8" stroke-width="0.9" opacity="0.55"/><circle cx="583.09" cy="494.53" r="1.98" fill="#c044dc" opacity="0.77"/></g></g>
<g clip-path="url(#cp5)"><g filter="url(#bl2)"><path d="M511.73,506.52 A2.18,2.18 0 0 1 508.74,503.44" fill="none" stroke="#a832c0" stroke-width="1.55" opacity="0.64"/><path d="M514.48,508.48 A2.06,2.06 0 1 1 518.35,509.81" fill="none" stroke="#a832c0" stroke-width="1.06" opacity="0.56"/><path d="M513.87,509.42 A2.48,2.48 0 1 1 510.68,510.88" fill="none" stroke="#a832c0" stroke-width="1.19" opacity="0.57"/><path d="M523.74,504.65 A2.5,2.5 0 0 1 520.68,508.52" fill="none" stroke="#a832c0" stroke-width="1.4" opacity="0.71"/><path d="M527.43,504.75 A2.23,2.23 0 1 1 527.31,502.2" fill="none" stroke="#a832c0" stroke-width="1.33" opacity="0.8"/><path d="M526.66,508.9 A2.3,2.3 0 1 1 523.63,508.57" fill="none" stroke="#a832c0" stroke-width="1.25" opacity="0.68"/><path d="M530.72,509.04 A2.01,2.01 0 1 1 533.27,507.89" fill="none" stroke="#a832c0" stroke-width="1.03" opacity="0.52"/><path d="M528.83,512.01 A2.27,2.27 0 1 1 533.3,512.04" fill="none" stroke="#a832c0" stroke-width="1.12" opacity="0.85"/><path d="M535.8,506.55 A2.34,2.34 0 1 1 537.46,502.27" fill="none" stroke="#a832c0" stroke-width="1.19" opacity="0.76"/><path d="M547.77,506.11 A1.97,1.97 0 1 1 544.18,504.48" fill="none" stroke="#a832c0" stroke-width="1.37" opacity="0.77"/><path d="M539.03,501.79 A2.02,2.02 0 0 1 542.57,500.01" fill="none" stroke="#a832c0" stroke-width="1.54" opacity="0.74"/><path d="M552.31,502.21 A2.57,2.57 0 1 1 547.33,501.04" fill="none" stroke="#a832c0" stroke-width="1.47" opacity="0.84"/><path d="M560.01,503.93 A2.33,2.33 0 1 1 557.59,507.89" fill="none" stroke="#a832c0" stroke-width="1.27" opacity="0.57"/><path d="M563.06,506.77 A2.57,2.57 0 0 1 564.35,501.95" fill="none" stroke="#a832c0" stroke-width="1.1" opacity="0.52"/><path d="M572.16,503.8 A2.1,2.1 0 1 1 572.29,501.61" fill="none" stroke="#a832c0" stroke-width="1.12" opacity="0.65"/><path d="M567.11,504.73 A2.02,2.02 0 0 1 569.13,508.22" fill="none" stroke="#a832c0" stroke-width="1.29" opacity="0.51"/><path d="M575.25,503.24 A1.99,1.99 0 1 1 576.97,505.58" fill="none" stroke="#a832c0" stroke-width="1.59" opacity="0.64"/><path d="M575.88,502.9 A2.19,2.19 0 1 1 572.25,500.81" fill="none" stroke="#a832c0" stroke-width="1.53" opacity="0.59"/><path d="M552.68,512.35 A1.92,1.92 0 1 1 553,508.52" fill="none" stroke="#a832c0" stroke-width="1.14" opacity="0.57"/><path d="M553.9,510.28 A1.94,1.94 0 1 1 550.46,510.19" fill="none" stroke="#a832c0" stroke-width="1.24" opacity="0.85"/><path d="M561.65,508.86 A2.45,2.45 0 1 1 560.08,513.13" fill="none" stroke="#a832c0" stroke-width="1.13" opacity="0.53"/><path d="M553.38,517.69 A2.55,2.55 0 1 1 557.21,515.94" fill="none" stroke="#a832c0" stroke-width="1.39" opacity="0.78"/><path d="M566.39,512.11 A2.36,2.36 0 1 1 567.83,516.58" fill="none" stroke="#a832c0" stroke-width="1.57" opacity="0.82"/><path d="M578.2,510.21 A2.57,2.57 0 0 1 581.51,514.01" fill="none" stroke="#a832c0" stroke-width="1.08" opacity="0.81"/><path d="M586.3,514.92 A1.94,1.94 0 1 1 586.46,511.66" fill="none" stroke="#a832c0" stroke-width="1.45" opacity="0.7"/><path d="M581.23,513.53 A1.9,1.9 0 0 1 578.49,516" fill="none" stroke="#a832c0" stroke-width="1.07" opacity="0.81"/><path d="M573.8,517.72 A2.51,2.51 0 1 1 574.93,520.68" fill="none" stroke="#a832c0" stroke-width="1.4" opacity="0.57"/><path d="M510.16,518.48 A2.44,2.44 0 1 1 514.46,519.57" fill="none" stroke="#a832c0" stroke-width="1.02" opacity="0.51"/><path d="M516.75,515.82 A2.51,2.51 0 0 1 520.87,518.64" fill="none" stroke="#a832c0" stroke-width="1.46" opacity="0.63"/><path d="M524.83,513.16 A2.49,2.49 0 0 1 523.2,517.81" fill="none" stroke="#a832c0" stroke-width="1.23" opacity="0.69"/><path d="M519.49,519.19 A2.06,2.06 0 1 1 520.83,520.96" fill="none" stroke="#a832c0" stroke-width="1.07" opacity="0.53"/><path d="M542.71,515.77 A2.26,2.26 0 1 1 545.36,517.04" fill="none" stroke="#a832c0" stroke-width="1.04" opacity="0.77"/><path d="M564.7,515.12 A2.11,2.11 0 1 1 561.7,517.84" fill="none" stroke="#a832c0" stroke-width="1.1" opacity="0.78"/><path d="M564.13,518.24 A2,2 0 1 1 568.03,518.81" fill="none" stroke="#a832c0" stroke-width="1.54" opacity="0.69"/><path d="M540.34,519.21 A2.12,2.12 0 1 1 543.46,521.62" fill="none" stroke="#a832c0" stroke-width="1.29" opacity="0.75"/><path d="M541.72,525.31 A2.49,2.49 0 1 1 545.35,524.73" fill="none" stroke="#a832c0" stroke-width="1.38" opacity="0.85"/><path d="M531.43,520.93 A2.12,2.12 0 1 1 527.53,521.72" fill="none" stroke="#a832c0" stroke-width="1.18" opacity="0.82"/><path d="M532.2,523.78 A2.33,2.33 0 0 1 536.4,521.8" fill="none" stroke="#a832c0" stroke-width="1.22" opacity="0.77"/><path d="M568.91,524.72 A1.96,1.96 0 1 1 569.27,522" fill="none" stroke="#a832c0" stroke-width="1.54" opacity="0.56"/><path d="M537.1,526.85 A2.15,2.15 0 0 1 540.56,529.32" fill="none" stroke="#a832c0" stroke-width="1.56" opacity="0.64"/><path d="M558.64,529.21 A2.13,2.13 0 0 1 559,525.08" fill="none" stroke="#a832c0" stroke-width="1.57" opacity="0.51"/><path d="M567.15,529.25 A2.47,2.47 0 0 1 562.52,530.93" fill="none" stroke="#a832c0" stroke-width="1.3" opacity="0.7"/><path d="M526.76,530.34 A2.43,2.43 0 0 1 522.15,531.8" fill="none" stroke="#a832c0" stroke-width="1.41" opacity="0.73"/><path d="M527.02,535.19 A2.48,2.48 0 1 1 529.78,534.38" fill="none" stroke="#a832c0" stroke-width="1.36" opacity="0.64"/><path d="M536.59,535.08 A2.12,2.12 0 1 1 536.76,530.91" fill="none" stroke="#a832c0" stroke-width="1.6" opacity="0.72"/><path d="M549.29,530.51 A2.18,2.18 0 1 1 547.09,534.24" fill="none" stroke="#a832c0" stroke-width="1.01" opacity="0.64"/><path d="M572.13,529.87 A2.39,2.39 0 1 1 574.89,533.63" fill="none" stroke="#a832c0" stroke-width="1.37" opacity="0.83"/><path d="M511.68,531.77 A2.58,2.58 0 1 1 509.71,529.45" fill="none" stroke="#a832c0" stroke-width="1.19" opacity="0.71"/><path d="M507.04,534.55 A2.06,2.06 0 1 1 504.77,533.43" fill="none" stroke="#a832c0" stroke-width="1.09" opacity="0.77"/><path d="M511.83,539.61 A2.56,2.56 0 1 1 512.67,536.03" fill="none" stroke="#a832c0" stroke-width="1.33" opacity="0.74"/><path d="M519.89,539.25 A2.27,2.27 0 0 1 516.94,535.86" fill="none" stroke="#a832c0" stroke-width="1.19" opacity="0.51"/><path d="M521.12,537.65 A2.59,2.59 0 1 1 524.05,536.33" fill="none" stroke="#a832c0" stroke-width="1.44" opacity="0.75"/><path d="M531.65,534.72 A2.51,2.51 0 1 1 530.41,539.03" fill="none" stroke="#a832c0" stroke-width="1.43" opacity="0.74"/><path d="M540.71,534.17 A2.01,2.01 0 1 1 537.63,536.3" fill="none" stroke="#a832c0" stroke-width="1.1" opacity="0.52"/><path d="M550.63,533.46 A2.17,2.17 0 1 1 549.43,536.01" fill="none" stroke="#a832c0" stroke-width="1.23" opacity="0.61"/><path d="M548.22,537.91 A2.51,2.51 0 1 1 547.02,535.46" fill="none" stroke="#a832c0" stroke-width="1.09" opacity="0.55"/><path d="M570.5,535.03 A2.06,2.06 0 1 1 573.45,537.51" fill="none" stroke="#a832c0" stroke-width="1.11" opacity="0.75"/><path d="M554.19,539.93 A2.39,2.39 0 1 1 551.76,538.7" fill="none" stroke="#a832c0" stroke-width="1.51" opacity="0.63"/><path d="M542.4,539.7 A1.98,1.98 0 1 1 542.14,542.05" fill="none" stroke="#a832c0" stroke-width="1.39" opacity="0.61"/><path d="M534.39,540.29 A1.93,1.93 0 1 1 536.77,543.3" fill="none" stroke="#a832c0" stroke-width="1.4" opacity="0.8"/><path d="M528.42,546.06 A2.34,2.34 0 1 1 531.53,545.5" fill="none" stroke="#a832c0" stroke-width="1.54" opacity="0.81"/><path d="M557.91,539.07 A2.39,2.39 0 1 1 559.93,542.91" fill="none" stroke="#a832c0" stroke-width="1.21" opacity="0.85"/><path d="M560.8,541.25 A2.25,2.25 0 1 1 563.5,544.07" fill="none" stroke="#a832c0" stroke-width="1.12" opacity="0.59"/><path d="M572.27,538.33 A2.54,2.54 0 0 1 574.44,542.88" fill="none" stroke="#a832c0" stroke-width="1.5" opacity="0.84"/><path d="M582.82,537.1 A2.49,2.49 0 1 1 583.84,541.21" fill="none" stroke="#a832c0" stroke-width="1.44" opacity="0.51"/><path d="M580.66,544.32 A2,2 0 1 1 583.14,544.38" fill="none" stroke="#a832c0" stroke-width="1.49" opacity="0.76"/><path d="M514.14,543.76 A2.32,2.32 0 1 1 510.2,541.65" fill="none" stroke="#a832c0" stroke-width="1.45" opacity="0.84"/><path d="M562.25,542.09 A2.38,2.38 0 1 1 559.29,544.41" fill="none" stroke="#a832c0" stroke-width="1.1" opacity="0.65"/><path d="M553.55,547.86 A2.55,2.55 0 1 1 556.52,545.46" fill="none" stroke="#a832c0" stroke-width="1.38" opacity="0.64"/><path d="M571.07,546.77 A2.33,2.33 0 1 1 572.92,542.9" fill="none" stroke="#a832c0" stroke-width="1.16" opacity="0.51"/><path d="M524.02,547.84 A1.99,1.99 0 0 1 524.4,551.76" fill="none" stroke="#a832c0" stroke-width="1.1" opacity="0.85"/><path d="M534.43,546.48 A2.55,2.55 0 1 1 533.21,549.39" fill="none" stroke="#a832c0" stroke-width="1.07" opacity="0.67"/><path d="M546.89,551.97 A2.59,2.59 0 1 1 544.56,547.35" fill="none" stroke="#a832c0" stroke-width="1.07" opacity="0.8"/><path d="M575.23,547.53 A2.3,2.3 0 1 1 574.24,550.11" fill="none" stroke="#a832c0" stroke-width="1.51" opacity="0.53"/><path d="M513.15,551.42 A1.92,1.92 0 0 1 512.85,555.24" fill="none" stroke="#a832c0" stroke-width="1.02" opacity="0.57"/><path d="M515.6,549.82 A2.59,2.59 0 1 1 518.8,553.74" fill="none" stroke="#a832c0" stroke-width="1.1" opacity="0.85"/><path d="M519.6,550.72 A2.57,2.57 0 1 1 518.07,552.93" fill="none" stroke="#a832c0" stroke-width="1.54" opacity="0.52"/><path d="M529.1,556.67 A2.49,2.49 0 0 1 525.15,553.63" fill="none" stroke="#a832c0" stroke-width="1.29" opacity="0.55"/><path d="M538.22,550.89 A2.15,2.15 0 1 1 536.15,552.91" fill="none" stroke="#a832c0" stroke-width="1.02" opacity="0.77"/><path d="M557.42,549.06 A2.07,2.07 0 0 1 561.13,550.88" fill="none" stroke="#a832c0" stroke-width="1.21" opacity="0.72"/><path d="M556.73,555.69 A2.56,2.56 0 1 1 555.83,550.75" fill="none" stroke="#a832c0" stroke-width="1.13" opacity="0.84"/><path d="M563.22,551.29 A2.48,2.48 0 1 1 561.1,553.15" fill="none" stroke="#a832c0" stroke-width="1.02" opacity="0.67"/><path d="M581.22,555 A2.17,2.17 0 1 1 579.33,551.21" fill="none" stroke="#a832c0" stroke-width="1.21" opacity="0.66"/><path d="M586.17,551.15 A1.92,1.92 0 1 1 583.85,552.96" fill="none" stroke="#a832c0" stroke-width="1.07" opacity="0.65"/><path d="M511.26,559.07 A2.53,2.53 0 1 1 512.93,561.17" fill="none" stroke="#a832c0" stroke-width="1.11" opacity="0.68"/><path d="M519,556.56 A2.32,2.32 0 0 1 520.72,560.73" fill="none" stroke="#a832c0" stroke-width="1.48" opacity="0.65"/><path d="M510.53,562.48 A2.03,2.03 0 1 1 512.49,559.14" fill="none" stroke="#a832c0" stroke-width="1.38" opacity="0.61"/><path d="M543.04,556.52 A2.37,2.37 0 1 1 543.8,559" fill="none" stroke="#a832c0" stroke-width="1.15" opacity="0.83"/><path d="M525.65,561.72 A2.28,2.28 0 1 1 528.6,561.8" fill="none" stroke="#a832c0" stroke-width="1.28" opacity="0.57"/><path d="M543.74,561.66 A2.32,2.32 0 0 1 539.17,562.36" fill="none" stroke="#a832c0" stroke-width="1.36" opacity="0.75"/><path d="M572.09,560.42 A2.51,2.51 0 1 1 571.83,557.6" fill="none" stroke="#a832c0" stroke-width="1.36" opacity="0.77"/><path d="M577.02,558.61 A1.94,1.94 0 1 1 578.9,560.25" fill="none" stroke="#a832c0" stroke-width="1.28" opacity="0.57"/><path d="M557.62,559.24 A2.57,2.57 0 1 1 553.37,562.07" fill="none" stroke="#a832c0" stroke-width="1" opacity="0.65"/><path d="M506.86,563.52 A2.49,2.49 0 1 1 503.41,560.25" fill="none" stroke="#a832c0" stroke-width="1.25" opacity="0.53"/><path d="M588.28,560.19 A2.49,2.49 0 1 1 585.31,558.46" fill="none" stroke="#a832c0" stroke-width="1.55" opacity="0.57"/></g></g>
<g clip-path="url(#cp3)"><g filter="url(#bl2)"><ellipse cx="601.35" cy="437.28" rx="4.36" ry="1.56" transform="rotate(42.83 601.35 437.28)" fill="#9a2cb2" opacity="0.42"/><line x1="601.35" y1="437.28" x2="608.94" y2="440.21" stroke="#a030b8" stroke-width="0.9" opacity="0.55"/><ellipse cx="618.3" cy="440.42" rx="3.59" ry="2" transform="rotate(46.68 618.3 440.42)" fill="#9a2cb2" opacity="0.39"/><ellipse cx="627.09" cy="440.42" rx="3.38" ry="1.74" transform="rotate(115.03 627.09 440.42)" fill="#9a2cb2" opacity="0.47"/><line x1="627.09" y1="440.42" x2="618.22" y2="452.16" stroke="#a030b8" stroke-width="0.9" opacity="0.55"/><circle cx="628.13" cy="440.79" r="1.74" fill="#c044dc" opacity="0.71"/><ellipse cx="625.21" cy="436.66" rx="4.18" ry="1.8" transform="rotate(155.79 625.21 436.66)" fill="#9a2cb2" opacity="0.48"/><ellipse cx="640.9" cy="444.82" rx="5" ry="1.61" transform="rotate(71.09 640.9 444.82)" fill="#9a2cb2" opacity="0.49"/><circle cx="639.45" cy="443.68" r="2.27" fill="#c044dc" opacity="0.83"/><ellipse cx="645.3" cy="443.56" rx="3.75" ry="1.66" transform="rotate(112.8 645.3 443.56)" fill="#9a2cb2" opacity="0.38"/><line x1="645.3" y1="443.56" x2="639" y2="455.89" stroke="#a030b8" stroke-width="0.9" opacity="0.55"/><ellipse cx="660.36" cy="446.7" rx="5.32" ry="1.9" transform="rotate(122.76 660.36 446.7)" fill="#9a2cb2" opacity="0.5"/><line x1="660.36" y1="446.7" x2="655.81" y2="462.67" stroke="#a030b8" stroke-width="0.9" opacity="0.55"/><ellipse cx="667.27" cy="446.45" rx="4.42" ry="1.8" transform="rotate(162.85 667.27 446.45)" fill="#9a2cb2" opacity="0.34"/><ellipse cx="604.49" cy="451.47" rx="3.16" ry="1.9" transform="rotate(51.29 604.49 451.47)" fill="#9a2cb2" opacity="0.5"/><line x1="604.49" y1="451.47" x2="609.35" y2="462.56" stroke="#a030b8" stroke-width="0.9" opacity="0.55"/><circle cx="603.67" cy="452.55" r="2.2" fill="#c044dc" opacity="0.71"/><ellipse cx="628.72" cy="451.72" rx="3.11" ry="1.8" transform="rotate(110.62 628.72 451.72)" fill="#9a2cb2" opacity="0.37"/><ellipse cx="645.05" cy="449.46" rx="5.5" ry="1.52" transform="rotate(90.98 645.05 449.46)" fill="#9a2cb2" opacity="0.32"/><line x1="645.05" y1="449.46" x2="648.86" y2="458.68" stroke="#a030b8" stroke-width="0.9" opacity="0.55"/><circle cx="645.49" cy="448.09" r="1.53" fill="#c044dc" opacity="0.96"/><ellipse cx="611.78" cy="456.49" rx="5.4" ry="1.93" transform="rotate(56.49 611.78 456.49)" fill="#9a2cb2" opacity="0.38"/><line x1="611.78" y1="456.49" x2="619.53" y2="468.67" stroke="#a030b8" stroke-width="0.9" opacity="0.55"/><ellipse cx="623.33" cy="458.38" rx="4.55" ry="1.96" transform="rotate(100.67 623.33 458.38)" fill="#9a2cb2" opacity="0.4"/><line x1="623.33" y1="458.38" x2="619.49" y2="468.02" stroke="#a030b8" stroke-width="0.9" opacity="0.55"/><circle cx="625.24" cy="458.46" r="1.94" fill="#c044dc" opacity="0.7"/><ellipse cx="640.28" cy="455.49" rx="4.45" ry="1.31" transform="rotate(74.74 640.28 455.49)" fill="#9a2cb2" opacity="0.42"/><line x1="640.28" y1="455.49" x2="648.92" y2="466.85" stroke="#a030b8" stroke-width="0.9" opacity="0.55"/><ellipse cx="599.47" cy="459.88" rx="3.88" ry="1.79" transform="rotate(122.27 599.47 459.88)" fill="#9a2cb2" opacity="0.45"/><line x1="599.47" y1="459.88" x2="596.83" y2="474.4" stroke="#a030b8" stroke-width="0.9" opacity="0.55"/><ellipse cx="627.72" cy="460.26" rx="4.14" ry="1.71" transform="rotate(45.2 627.72 460.26)" fill="#9a2cb2" opacity="0.36"/><line x1="627.72" y1="460.26" x2="637.2" y2="467.1" stroke="#a030b8" stroke-width="0.9" opacity="0.55"/><ellipse cx="631.24" cy="462.77" rx="3.94" ry="1.84" transform="rotate(54.07 631.24 462.77)" fill="#9a2cb2" opacity="0.31"/><line x1="631.24" y1="462.77" x2="635.78" y2="472.9" stroke="#a030b8" stroke-width="0.9" opacity="0.55"/><circle cx="632.45" cy="461.72" r="1.65" fill="#c044dc" opacity="0.83"/><ellipse cx="641.28" cy="459.51" rx="3.25" ry="1.53" transform="rotate(125.65 641.28 459.51)" fill="#9a2cb2" opacity="0.37"/><circle cx="642.7" cy="458.18" r="1.77" fill="#c044dc" opacity="0.9"/><ellipse cx="613.66" cy="464.9" rx="4.13" ry="1.46" transform="rotate(159.28 613.66 464.9)" fill="#9a2cb2" opacity="0.32"/><line x1="613.66" y1="464.9" x2="600.69" y2="474.39" stroke="#a030b8" stroke-width="0.9" opacity="0.55"/><ellipse cx="600.73" cy="467.42" rx="3.7" ry="1.87" transform="rotate(33.05 600.73 467.42)" fill="#9a2cb2" opacity="0.43"/><circle cx="599.25" cy="466.58" r="2.14" fill="#c044dc" opacity="0.78"/><ellipse cx="610.39" cy="468.67" rx="4.04" ry="1.59" transform="rotate(62.34 610.39 468.67)" fill="#9a2cb2" opacity="0.38"/><circle cx="608.41" cy="470.44" r="2.2" fill="#c044dc" opacity="1"/><ellipse cx="639.02" cy="467.42" rx="5.38" ry="1.95" transform="rotate(78.18 639.02 467.42)" fill="#9a2cb2" opacity="0.34"/><ellipse cx="662.25" cy="464.03" rx="4.3" ry="1.5" transform="rotate(119.34 662.25 464.03)" fill="#9a2cb2" opacity="0.37"/><line x1="662.25" y1="464.03" x2="660.38" y2="477.79" stroke="#a030b8" stroke-width="0.9" opacity="0.55"/><circle cx="663.49" cy="462.21" r="2.22" fill="#c044dc" opacity="0.91"/><ellipse cx="669.15" cy="466.79" rx="5.24" ry="1.93" transform="rotate(166.29 669.15 466.79)" fill="#9a2cb2" opacity="0.42"/><line x1="669.15" y1="466.79" x2="659.44" y2="467.03" stroke="#a030b8" stroke-width="0.9" opacity="0.55"/><circle cx="669.8" cy="466.89" r="1.83" fill="#c044dc" opacity="0.98"/><ellipse cx="606.38" cy="471.81" rx="3.85" ry="1.48" transform="rotate(110.19 606.38 471.81)" fill="#9a2cb2" opacity="0.47"/><line x1="606.38" y1="471.81" x2="599.89" y2="481.32" stroke="#a030b8" stroke-width="0.9" opacity="0.55"/><circle cx="606.52" cy="473.08" r="1.64" fill="#c044dc" opacity="0.94"/><ellipse cx="627.72" cy="471.18" rx="5.02" ry="1.88" transform="rotate(165.92 627.72 471.18)" fill="#9a2cb2" opacity="0.3"/><line x1="627.72" y1="471.18" x2="619.24" y2="470.58" stroke="#a030b8" stroke-width="0.9" opacity="0.55"/><circle cx="626.79" cy="471.29" r="1.84" fill="#c044dc" opacity="0.84"/><ellipse cx="672.29" cy="472.44" rx="3" ry="1.34" transform="rotate(139.77 672.29 472.44)" fill="#9a2cb2" opacity="0.33"/><line x1="672.29" y1="472.44" x2="663.91" y2="488.08" stroke="#a030b8" stroke-width="0.9" opacity="0.55"/><ellipse cx="591.31" cy="477.46" rx="4.26" ry="1.52" transform="rotate(15.5 591.31 477.46)" fill="#9a2cb2" opacity="0.36"/><line x1="591.31" y1="477.46" x2="604.09" y2="482.84" stroke="#a030b8" stroke-width="0.9" opacity="0.55"/><circle cx="590.08" cy="476.77" r="1.6" fill="#c044dc" opacity="0.87"/><ellipse cx="626.46" cy="476.2" rx="3.95" ry="1.36" transform="rotate(128.89 626.46 476.2)" fill="#9a2cb2" opacity="0.34"/><line x1="626.46" y1="476.2" x2="615.45" y2="487.57" stroke="#a030b8" stroke-width="0.9" opacity="0.55"/><circle cx="627.67" cy="476.7" r="1.85" fill="#c044dc" opacity="0.81"/><ellipse cx="632.49" cy="475.58" rx="4.76" ry="1.59" transform="rotate(89.31 632.49 475.58)" fill="#9a2cb2" opacity="0.44"/><line x1="632.49" y1="475.58" x2="635.6" y2="488.57" stroke="#a030b8" stroke-width="0.9" opacity="0.55"/><ellipse cx="643.04" cy="478.09" rx="4.06" ry="1.6" transform="rotate(12.88 643.04 478.09)" fill="#9a2cb2" opacity="0.48"/><circle cx="644.63" cy="479.25" r="1.71" fill="#c044dc" opacity="0.84"/><ellipse cx="651.57" cy="476.83" rx="5.03" ry="1.76" transform="rotate(22.17 651.57 476.83)" fill="#9a2cb2" opacity="0.48"/><ellipse cx="667.27" cy="475.83" rx="4.41" ry="1.37" transform="rotate(132.07 667.27 475.83)" fill="#9a2cb2" opacity="0.42"/><line x1="667.27" y1="475.83" x2="660.8" y2="490.18" stroke="#a030b8" stroke-width="0.9" opacity="0.55"/><circle cx="665.64" cy="474.22" r="2.2" fill="#c044dc" opacity="0.75"/><ellipse cx="602.86" cy="480.6" rx="5.1" ry="1.38" transform="rotate(4.23 602.86 480.6)" fill="#9a2cb2" opacity="0.47"/><line x1="602.86" y1="480.6" x2="619.22" y2="486.89" stroke="#a030b8" stroke-width="0.9" opacity="0.55"/><ellipse cx="626.46" cy="480.6" rx="3.09" ry="1.84" transform="rotate(143.77 626.46 480.6)" fill="#9a2cb2" opacity="0.4"/><circle cx="627.46" cy="482.34" r="1.55" fill="#c044dc" opacity="0.8"/><ellipse cx="655.97" cy="480.6" rx="5.07" ry="1.47" transform="rotate(101.52 655.97 480.6)" fill="#9a2cb2" opacity="0.34"/><line x1="655.97" y1="480.6" x2="651.35" y2="495.43" stroke="#a030b8" stroke-width="0.9" opacity="0.55"/><circle cx="655.44" cy="480.18" r="1.78" fill="#c044dc" opacity="0.83"/><ellipse cx="615.79" cy="484.36" rx="4.25" ry="1.98" transform="rotate(14.99 615.79 484.36)" fill="#9a2cb2" opacity="0.38"/><circle cx="616.56" cy="485.39" r="2.04" fill="#c044dc" opacity="0.86"/><ellipse cx="620.82" cy="483.11" rx="4.61" ry="1.93" transform="rotate(87.07 620.82 483.11)" fill="#9a2cb2" opacity="0.33"/><line x1="620.82" y1="483.11" x2="617.99" y2="500.04" stroke="#a030b8" stroke-width="0.9" opacity="0.55"/><ellipse cx="638.39" cy="486.25" rx="4.8" ry="1.43" transform="rotate(79.75 638.39 486.25)" fill="#9a2cb2" opacity="0.35"/><line x1="638.39" y1="486.25" x2="639.55" y2="497.34" stroke="#a030b8" stroke-width="0.9" opacity="0.55"/><circle cx="639.16" cy="488.06" r="1.74" fill="#c044dc" opacity="0.91"/><ellipse cx="644.67" cy="486.25" rx="5.13" ry="1.71" transform="rotate(74.38 644.67 486.25)" fill="#9a2cb2" opacity="0.35"/><line x1="644.67" y1="486.25" x2="652.8" y2="496.12" stroke="#a030b8" stroke-width="0.9" opacity="0.55"/><circle cx="643.36" cy="485.69" r="1.76" fill="#c044dc" opacity="0.93"/><ellipse cx="660.36" cy="485.62" rx="5.48" ry="1.64" transform="rotate(25.85 660.36 485.62)" fill="#9a2cb2" opacity="0.42"/><line x1="660.36" y1="485.62" x2="672.3" y2="496.59" stroke="#a030b8" stroke-width="0.9" opacity="0.55"/><ellipse cx="624.58" cy="487.5" rx="4.8" ry="1.9" transform="rotate(86.63 624.58 487.5)" fill="#9a2cb2" opacity="0.38"/><ellipse cx="651.57" cy="488.13" rx="3.57" ry="1.46" transform="rotate(84.13 651.57 488.13)" fill="#9a2cb2" opacity="0.44"/><line x1="651.57" y1="488.13" x2="646.72" y2="503.94" stroke="#a030b8" stroke-width="0.9" opacity="0.55"/><circle cx="650.33" cy="487.17" r="1.65" fill="#c044dc" opacity="0.91"/><ellipse cx="595.08" cy="489.39" rx="5.25" ry="1.48" transform="rotate(154.55 595.08 489.39)" fill="#9a2cb2" opacity="0.47"/><line x1="595.08" y1="489.39" x2="581.74" y2="496.87" stroke="#a030b8" stroke-width="0.9" opacity="0.55"/><circle cx="593.45" cy="490.72" r="1.73" fill="#c044dc" opacity="0.81"/><ellipse cx="630.86" cy="489.64" rx="4.69" ry="1.3" transform="rotate(104.45 630.86 489.64)" fill="#9a2cb2" opacity="0.37"/><line x1="630.86" y1="489.64" x2="628.46" y2="499.45" stroke="#a030b8" stroke-width="0.9" opacity="0.55"/><ellipse cx="606.38" cy="493.4" rx="3.98" ry="1.68" transform="rotate(171.96 606.38 493.4)" fill="#9a2cb2" opacity="0.32"/><line x1="606.38" y1="493.4" x2="597.25" y2="493.37" stroke="#a030b8" stroke-width="0.9" opacity="0.55"/><ellipse cx="612.03" cy="494.66" rx="3.24" ry="1.96" transform="rotate(163.58 612.03 494.66)" fill="#9a2cb2" opacity="0.37"/><ellipse cx="657.22" cy="491.9" rx="4.69" ry="1.76" transform="rotate(53.2 657.22 491.9)" fill="#9a2cb2" opacity="0.46"/><line x1="657.22" y1="491.9" x2="664.41" y2="507.98" stroke="#a030b8" stroke-width="0.9" opacity="0.55"/><ellipse cx="596.33" cy="493.4" rx="3.28" ry="1.65" transform="rotate(96.51 596.33 493.4)" fill="#9a2cb2" opacity="0.37"/><ellipse cx="659.74" cy="495.41" rx="3.45" ry="1.75" transform="rotate(101.95 659.74 495.41)" fill="#9a2cb2" opacity="0.43"/><line x1="659.74" y1="495.41" x2="652.14" y2="507.83" stroke="#a030b8" stroke-width="0.9" opacity="0.55"/><circle cx="661.46" cy="493.98" r="1.77" fill="#c044dc" opacity="0.92"/><ellipse cx="591.31" cy="488.13" rx="4.39" ry="1.75" transform="rotate(107.54 591.31 488.13)" fill="#9a2cb2" opacity="0.39"/><line x1="591.31" y1="488.13" x2="591.11" y2="496.81" stroke="#a030b8" stroke-width="0.9" opacity="0.55"/><ellipse cx="618.93" cy="473.06" rx="4.36" ry="1.82" transform="rotate(135.81 618.93 473.06)" fill="#9a2cb2" opacity="0.37"/><line x1="618.93" y1="473.06" x2="608.19" y2="485.88" stroke="#a030b8" stroke-width="0.9" opacity="0.55"/><circle cx="618.95" cy="472.05" r="2.12" fill="#c044dc" opacity="0.81"/><ellipse cx="634" cy="468.04" rx="4.01" ry="1.68" transform="rotate(59.92 634 468.04)" fill="#9a2cb2" opacity="0.45"/><line x1="634" y1="468.04" x2="636.01" y2="476.94" stroke="#a030b8" stroke-width="0.9" opacity="0.55"/><circle cx="632.4" cy="466.49" r="2.12" fill="#c044dc" opacity="0.92"/><ellipse cx="654.09" cy="460.51" rx="3.47" ry="1.59" transform="rotate(33.27 654.09 460.51)" fill="#9a2cb2" opacity="0.45"/><ellipse cx="667.9" cy="454.23" rx="3.37" ry="1.58" transform="rotate(106.54 667.9 454.23)" fill="#9a2cb2" opacity="0.34"/><line x1="667.9" y1="454.23" x2="664.47" y2="463.65" stroke="#a030b8" stroke-width="0.9" opacity="0.55"/><circle cx="669.02" cy="452.35" r="2.14" fill="#c044dc" opacity="0.97"/><ellipse cx="593.82" cy="447.95" rx="3.96" ry="1.69" transform="rotate(170.88 593.82 447.95)" fill="#9a2cb2" opacity="0.42"/><line x1="593.82" y1="447.95" x2="579.44" y2="444.18" stroke="#a030b8" stroke-width="0.9" opacity="0.55"/><circle cx="595.26" cy="447.89" r="1.98" fill="#c044dc" opacity="0.92"/><ellipse cx="613.91" cy="442.93" rx="4.93" ry="1.76" transform="rotate(0.43 613.91 442.93)" fill="#9a2cb2" opacity="0.4"/><line x1="613.91" y1="442.93" x2="623.84" y2="442.66" stroke="#a030b8" stroke-width="0.9" opacity="0.55"/><ellipse cx="647.81" cy="470.55" rx="4.25" ry="1.75" transform="rotate(6.67 647.81 470.55)" fill="#9a2cb2" opacity="0.39"/><line x1="647.81" y1="470.55" x2="662.52" y2="478.92" stroke="#a030b8" stroke-width="0.9" opacity="0.55"/><circle cx="648.98" cy="471.05" r="1.54" fill="#c044dc" opacity="0.81"/><ellipse cx="671.66" cy="485.62" rx="3.19" ry="1.68" transform="rotate(42.01 671.66 485.62)" fill="#9a2cb2" opacity="0.49"/><line x1="671.66" y1="485.62" x2="679.01" y2="498.63" stroke="#a030b8" stroke-width="0.9" opacity="0.55"/><circle cx="673.1" cy="486.02" r="2.24" fill="#c044dc" opacity="0.91"/><ellipse cx="603.87" cy="486.88" rx="3.86" ry="1.86" transform="rotate(133.15 603.87 486.88)" fill="#9a2cb2" opacity="0.49"/><circle cx="604.89" cy="486.82" r="1.59" fill="#c044dc" opacity="0.71"/><ellipse cx="636.51" cy="494.41" rx="3.5" ry="1.41" transform="rotate(14.03 636.51 494.41)" fill="#9a2cb2" opacity="0.4"/><line x1="636.51" y1="494.41" x2="648.26" y2="497.76" stroke="#a030b8" stroke-width="0.9" opacity="0.55"/><ellipse cx="670.41" cy="494.41" rx="4.16" ry="1.83" transform="rotate(54.84 670.41 494.41)" fill="#9a2cb2" opacity="0.38"/><line x1="670.41" y1="494.41" x2="674.39" y2="509.07" stroke="#a030b8" stroke-width="0.9" opacity="0.55"/><circle cx="669.89" cy="494.53" r="1.98" fill="#c044dc" opacity="0.77"/></g></g>
<g clip-path="url(#cp6)"><g filter="url(#bl2)"><path d="M598.53,506.52 A2.18,2.18 0 0 1 595.54,503.44" fill="none" stroke="#a832c0" stroke-width="1.55" opacity="0.64"/><path d="M601.28,508.48 A2.06,2.06 0 1 1 605.15,509.81" fill="none" stroke="#a832c0" stroke-width="1.06" opacity="0.56"/><path d="M600.67,509.42 A2.48,2.48 0 1 1 597.48,510.88" fill="none" stroke="#a832c0" stroke-width="1.19" opacity="0.57"/><path d="M610.54,504.65 A2.5,2.5 0 0 1 607.48,508.52" fill="none" stroke="#a832c0" stroke-width="1.4" opacity="0.71"/><path d="M614.23,504.75 A2.23,2.23 0 1 1 614.11,502.2" fill="none" stroke="#a832c0" stroke-width="1.33" opacity="0.8"/><path d="M613.46,508.9 A2.3,2.3 0 1 1 610.43,508.57" fill="none" stroke="#a832c0" stroke-width="1.25" opacity="0.68"/><path d="M617.52,509.04 A2.01,2.01 0 1 1 620.07,507.89" fill="none" stroke="#a832c0" stroke-width="1.03" opacity="0.52"/><path d="M615.63,512.01 A2.27,2.27 0 1 1 620.1,512.04" fill="none" stroke="#a832c0" stroke-width="1.12" opacity="0.85"/><path d="M622.6,506.55 A2.34,2.34 0 1 1 624.26,502.27" fill="none" stroke="#a832c0" stroke-width="1.19" opacity="0.76"/><path d="M634.57,506.11 A1.97,1.97 0 1 1 630.98,504.48" fill="none" stroke="#a832c0" stroke-width="1.37" opacity="0.77"/><path d="M625.83,501.79 A2.02,2.02 0 0 1 629.37,500.01" fill="none" stroke="#a832c0" stroke-width="1.54" opacity="0.74"/><path d="M639.11,502.21 A2.57,2.57 0 1 1 634.13,501.04" fill="none" stroke="#a832c0" stroke-width="1.47" opacity="0.84"/><path d="M646.81,503.93 A2.33,2.33 0 1 1 644.39,507.89" fill="none" stroke="#a832c0" stroke-width="1.27" opacity="0.57"/><path d="M649.86,506.77 A2.57,2.57 0 0 1 651.15,501.95" fill="none" stroke="#a832c0" stroke-width="1.1" opacity="0.52"/><path d="M658.96,503.8 A2.1,2.1 0 1 1 659.09,501.61" fill="none" stroke="#a832c0" stroke-width="1.12" opacity="0.65"/><path d="M653.91,504.73 A2.02,2.02 0 0 1 655.93,508.22" fill="none" stroke="#a832c0" stroke-width="1.29" opacity="0.51"/><path d="M662.05,503.24 A1.99,1.99 0 1 1 663.77,505.58" fill="none" stroke="#a832c0" stroke-width="1.59" opacity="0.64"/><path d="M662.68,502.9 A2.19,2.19 0 1 1 659.05,500.81" fill="none" stroke="#a832c0" stroke-width="1.53" opacity="0.59"/><path d="M639.48,512.35 A1.92,1.92 0 1 1 639.8,508.52" fill="none" stroke="#a832c0" stroke-width="1.14" opacity="0.57"/><path d="M640.7,510.28 A1.94,1.94 0 1 1 637.26,510.19" fill="none" stroke="#a832c0" stroke-width="1.24" opacity="0.85"/><path d="M648.45,508.86 A2.45,2.45 0 1 1 646.88,513.13" fill="none" stroke="#a832c0" stroke-width="1.13" opacity="0.53"/><path d="M640.18,517.69 A2.55,2.55 0 1 1 644.01,515.94" fill="none" stroke="#a832c0" stroke-width="1.39" opacity="0.78"/><path d="M653.19,512.11 A2.36,2.36 0 1 1 654.63,516.58" fill="none" stroke="#a832c0" stroke-width="1.57" opacity="0.82"/><path d="M665,510.21 A2.57,2.57 0 0 1 668.31,514.01" fill="none" stroke="#a832c0" stroke-width="1.08" opacity="0.81"/><path d="M673.1,514.92 A1.94,1.94 0 1 1 673.26,511.66" fill="none" stroke="#a832c0" stroke-width="1.45" opacity="0.7"/><path d="M668.03,513.53 A1.9,1.9 0 0 1 665.29,516" fill="none" stroke="#a832c0" stroke-width="1.07" opacity="0.81"/><path d="M660.6,517.72 A2.51,2.51 0 1 1 661.73,520.68" fill="none" stroke="#a832c0" stroke-width="1.4" opacity="0.57"/><path d="M596.96,518.48 A2.44,2.44 0 1 1 601.26,519.57" fill="none" stroke="#a832c0" stroke-width="1.02" opacity="0.51"/><path d="M603.55,515.82 A2.51,2.51 0 0 1 607.67,518.64" fill="none" stroke="#a832c0" stroke-width="1.46" opacity="0.63"/><path d="M611.63,513.16 A2.49,2.49 0 0 1 610,517.81" fill="none" stroke="#a832c0" stroke-width="1.23" opacity="0.69"/><path d="M606.29,519.19 A2.06,2.06 0 1 1 607.63,520.96" fill="none" stroke="#a832c0" stroke-width="1.07" opacity="0.53"/><path d="M629.51,515.77 A2.26,2.26 0 1 1 632.16,517.04" fill="none" stroke="#a832c0" stroke-width="1.04" opacity="0.77"/><path d="M651.5,515.12 A2.11,2.11 0 1 1 648.5,517.84" fill="none" stroke="#a832c0" stroke-width="1.1" opacity="0.78"/><path d="M650.93,518.24 A2,2 0 1 1 654.83,518.81" fill="none" stroke="#a832c0" stroke-width="1.54" opacity="0.69"/><path d="M627.14,519.21 A2.12,2.12 0 1 1 630.26,521.62" fill="none" stroke="#a832c0" stroke-width="1.29" opacity="0.75"/><path d="M628.52,525.31 A2.49,2.49 0 1 1 632.15,524.73" fill="none" stroke="#a832c0" stroke-width="1.38" opacity="0.85"/><path d="M618.23,520.93 A2.12,2.12 0 1 1 614.33,521.72" fill="none" stroke="#a832c0" stroke-width="1.18" opacity="0.82"/><path d="M619,523.78 A2.33,2.33 0 0 1 623.2,521.8" fill="none" stroke="#a832c0" stroke-width="1.22" opacity="0.77"/><path d="M655.71,524.72 A1.96,1.96 0 1 1 656.07,522" fill="none" stroke="#a832c0" stroke-width="1.54" opacity="0.56"/><path d="M623.9,526.85 A2.15,2.15 0 0 1 627.36,529.32" fill="none" stroke="#a832c0" stroke-width="1.56" opacity="0.64"/><path d="M645.44,529.21 A2.13,2.13 0 0 1 645.8,525.08" fill="none" stroke="#a832c0" stroke-width="1.57" opacity="0.51"/><path d="M653.95,529.25 A2.47,2.47 0 0 1 649.32,530.93" fill="none" stroke="#a832c0" stroke-width="1.3" opacity="0.7"/><path d="M613.56,530.34 A2.43,2.43 0 0 1 608.95,531.8" fill="none" stroke="#a832c0" stroke-width="1.41" opacity="0.73"/><path d="M613.82,535.19 A2.48,2.48 0 1 1 616.58,534.38" fill="none" stroke="#a832c0" stroke-width="1.36" opacity="0.64"/><path d="M623.39,535.08 A2.12,2.12 0 1 1 623.56,530.91" fill="none" stroke="#a832c0" stroke-width="1.6" opacity="0.72"/><path d="M636.09,530.51 A2.18,2.18 0 1 1 633.89,534.24" fill="none" stroke="#a832c0" stroke-width="1.01" opacity="0.64"/><path d="M658.93,529.87 A2.39,2.39 0 1 1 661.69,533.63" fill="none" stroke="#a832c0" stroke-width="1.37" opacity="0.83"/><path d="M598.48,531.77 A2.58,2.58 0 1 1 596.51,529.45" fill="none" stroke="#a832c0" stroke-width="1.19" opacity="0.71"/><path d="M593.84,534.55 A2.06,2.06 0 1 1 591.57,533.43" fill="none" stroke="#a832c0" stroke-width="1.09" opacity="0.77"/><path d="M598.63,539.61 A2.56,2.56 0 1 1 599.47,536.03" fill="none" stroke="#a832c0" stroke-width="1.33" opacity="0.74"/><path d="M606.69,539.25 A2.27,2.27 0 0 1 603.74,535.86" fill="none" stroke="#a832c0" stroke-width="1.19" opacity="0.51"/><path d="M607.92,537.65 A2.59,2.59 0 1 1 610.85,536.33" fill="none" stroke="#a832c0" stroke-width="1.44" opacity="0.75"/><path d="M618.45,534.72 A2.51,2.51 0 1 1 617.21,539.03" fill="none" stroke="#a832c0" stroke-width="1.43" opacity="0.74"/><path d="M627.51,534.17 A2.01,2.01 0 1 1 624.43,536.3" fill="none" stroke="#a832c0" stroke-width="1.1" opacity="0.52"/><path d="M637.43,533.46 A2.17,2.17 0 1 1 636.23,536.01" fill="none" stroke="#a832c0" stroke-width="1.23" opacity="0.61"/><path d="M635.02,537.91 A2.51,2.51 0 1 1 633.82,535.46" fill="none" stroke="#a832c0" stroke-width="1.09" opacity="0.55"/><path d="M657.3,535.03 A2.06,2.06 0 1 1 660.25,537.51" fill="none" stroke="#a832c0" stroke-width="1.11" opacity="0.75"/><path d="M640.99,539.93 A2.39,2.39 0 1 1 638.56,538.7" fill="none" stroke="#a832c0" stroke-width="1.51" opacity="0.63"/><path d="M629.2,539.7 A1.98,1.98 0 1 1 628.94,542.05" fill="none" stroke="#a832c0" stroke-width="1.39" opacity="0.61"/><path d="M621.19,540.29 A1.93,1.93 0 1 1 623.57,543.3" fill="none" stroke="#a832c0" stroke-width="1.4" opacity="0.8"/><path d="M615.22,546.06 A2.34,2.34 0 1 1 618.33,545.5" fill="none" stroke="#a832c0" stroke-width="1.54" opacity="0.81"/><path d="M644.71,539.07 A2.39,2.39 0 1 1 646.73,542.91" fill="none" stroke="#a832c0" stroke-width="1.21" opacity="0.85"/><path d="M647.6,541.25 A2.25,2.25 0 1 1 650.3,544.07" fill="none" stroke="#a832c0" stroke-width="1.12" opacity="0.59"/><path d="M659.07,538.33 A2.54,2.54 0 0 1 661.24,542.88" fill="none" stroke="#a832c0" stroke-width="1.5" opacity="0.84"/><path d="M669.62,537.1 A2.49,2.49 0 1 1 670.64,541.21" fill="none" stroke="#a832c0" stroke-width="1.44" opacity="0.51"/><path d="M667.46,544.32 A2,2 0 1 1 669.94,544.38" fill="none" stroke="#a832c0" stroke-width="1.49" opacity="0.76"/><path d="M600.94,543.76 A2.32,2.32 0 1 1 597,541.65" fill="none" stroke="#a832c0" stroke-width="1.45" opacity="0.84"/><path d="M649.05,542.09 A2.38,2.38 0 1 1 646.09,544.41" fill="none" stroke="#a832c0" stroke-width="1.1" opacity="0.65"/><path d="M640.35,547.86 A2.55,2.55 0 1 1 643.32,545.46" fill="none" stroke="#a832c0" stroke-width="1.38" opacity="0.64"/><path d="M657.87,546.77 A2.33,2.33 0 1 1 659.72,542.9" fill="none" stroke="#a832c0" stroke-width="1.16" opacity="0.51"/><path d="M610.82,547.84 A1.99,1.99 0 0 1 611.2,551.76" fill="none" stroke="#a832c0" stroke-width="1.1" opacity="0.85"/><path d="M621.23,546.48 A2.55,2.55 0 1 1 620.01,549.39" fill="none" stroke="#a832c0" stroke-width="1.07" opacity="0.67"/><path d="M633.69,551.97 A2.59,2.59 0 1 1 631.36,547.35" fill="none" stroke="#a832c0" stroke-width="1.07" opacity="0.8"/><path d="M662.03,547.53 A2.3,2.3 0 1 1 661.04,550.11" fill="none" stroke="#a832c0" stroke-width="1.51" opacity="0.53"/><path d="M599.95,551.42 A1.92,1.92 0 0 1 599.65,555.24" fill="none" stroke="#a832c0" stroke-width="1.02" opacity="0.57"/><path d="M602.4,549.82 A2.59,2.59 0 1 1 605.6,553.74" fill="none" stroke="#a832c0" stroke-width="1.1" opacity="0.85"/><path d="M606.4,550.72 A2.57,2.57 0 1 1 604.87,552.93" fill="none" stroke="#a832c0" stroke-width="1.54" opacity="0.52"/><path d="M615.9,556.67 A2.49,2.49 0 0 1 611.95,553.63" fill="none" stroke="#a832c0" stroke-width="1.29" opacity="0.55"/><path d="M625.02,550.89 A2.15,2.15 0 1 1 622.95,552.91" fill="none" stroke="#a832c0" stroke-width="1.02" opacity="0.77"/><path d="M644.22,549.06 A2.07,2.07 0 0 1 647.93,550.88" fill="none" stroke="#a832c0" stroke-width="1.21" opacity="0.72"/><path d="M643.53,555.69 A2.56,2.56 0 1 1 642.63,550.75" fill="none" stroke="#a832c0" stroke-width="1.13" opacity="0.84"/><path d="M650.02,551.29 A2.48,2.48 0 1 1 647.9,553.15" fill="none" stroke="#a832c0" stroke-width="1.02" opacity="0.67"/><path d="M668.02,555 A2.17,2.17 0 1 1 666.13,551.21" fill="none" stroke="#a832c0" stroke-width="1.21" opacity="0.66"/><path d="M672.97,551.15 A1.92,1.92 0 1 1 670.65,552.96" fill="none" stroke="#a832c0" stroke-width="1.07" opacity="0.65"/><path d="M598.06,559.07 A2.53,2.53 0 1 1 599.73,561.17" fill="none" stroke="#a832c0" stroke-width="1.11" opacity="0.68"/><path d="M605.8,556.56 A2.32,2.32 0 0 1 607.52,560.73" fill="none" stroke="#a832c0" stroke-width="1.48" opacity="0.65"/><path d="M597.33,562.48 A2.03,2.03 0 1 1 599.29,559.14" fill="none" stroke="#a832c0" stroke-width="1.38" opacity="0.61"/><path d="M629.84,556.52 A2.37,2.37 0 1 1 630.6,559" fill="none" stroke="#a832c0" stroke-width="1.15" opacity="0.83"/><path d="M612.45,561.72 A2.28,2.28 0 1 1 615.4,561.8" fill="none" stroke="#a832c0" stroke-width="1.28" opacity="0.57"/><path d="M630.54,561.66 A2.32,2.32 0 0 1 625.97,562.36" fill="none" stroke="#a832c0" stroke-width="1.36" opacity="0.75"/><path d="M658.89,560.42 A2.51,2.51 0 1 1 658.63,557.6" fill="none" stroke="#a832c0" stroke-width="1.36" opacity="0.77"/><path d="M663.82,558.61 A1.94,1.94 0 1 1 665.7,560.25" fill="none" stroke="#a832c0" stroke-width="1.28" opacity="0.57"/><path d="M644.42,559.24 A2.57,2.57 0 1 1 640.17,562.07" fill="none" stroke="#a832c0" stroke-width="1" opacity="0.65"/><path d="M593.66,563.52 A2.49,2.49 0 1 1 590.21,560.25" fill="none" stroke="#a832c0" stroke-width="1.25" opacity="0.53"/><path d="M675.08,560.19 A2.49,2.49 0 1 1 672.11,558.46" fill="none" stroke="#a832c0" stroke-width="1.55" opacity="0.57"/></g></g>
<g clip-path="url(#cp1)"><g filter="url(#bl)"><ellipse cx="427.25" cy="437.28" rx="1.45" ry="1.65" fill="#8c8c8c"/><ellipse cx="444.2" cy="440.42" rx="2.52" ry="2.11" fill="#cccccc"/><ellipse cx="452.99" cy="440.42" rx="1.78" ry="1.67" fill="#bfbfbf"/><ellipse cx="451.11" cy="436.66" rx="1.65" ry="1.62" fill="#999999"/><ellipse cx="466.8" cy="444.82" rx="2.31" ry="2.14" fill="#a5a5a5"/><ellipse cx="471.2" cy="443.56" rx="2.35" ry="2.03" fill="#999999"/><ellipse cx="486.26" cy="446.7" rx="2.1" ry="1.64" fill="#e5e5e5"/><ellipse cx="493.17" cy="446.45" rx="2.34" ry="2.38" fill="#999999"/><ellipse cx="430.39" cy="451.47" rx="2.39" ry="2.72" fill="#8c8c8c"/><ellipse cx="454.62" cy="451.72" rx="2.39" ry="1.82" fill="#f2f2f2"/><ellipse cx="470.95" cy="449.46" rx="1.92" ry="2.09" fill="#e5e5e5"/><ellipse cx="437.68" cy="456.49" rx="2.41" ry="2" fill="#7f7f7f"/><ellipse cx="449.23" cy="458.38" rx="2.02" ry="2.03" fill="#999999"/><ellipse cx="466.18" cy="455.49" rx="1.58" ry="1.58" fill="#f2f2f2"/><ellipse cx="425.37" cy="459.88" rx="2.91" ry="2.8" fill="#b2b2b2"/><ellipse cx="453.62" cy="460.26" rx="2.03" ry="1.92" fill="#f2f2f2"/><ellipse cx="457.14" cy="462.77" rx="2.02" ry="2.05" fill="#bfbfbf"/><ellipse cx="467.18" cy="459.51" rx="1.88" ry="1.65" fill="#f9f9f9"/><ellipse cx="439.56" cy="464.9" rx="2.35" ry="2.1" fill="#7f7f7f"/><ellipse cx="426.63" cy="467.42" rx="2.25" ry="1.9" fill="#727272"/><ellipse cx="436.29" cy="468.67" rx="2" ry="1.85" fill="#f2f2f2"/><ellipse cx="464.92" cy="467.42" rx="1.97" ry="1.98" fill="#f9f9f9"/><ellipse cx="488.15" cy="464.03" rx="1.88" ry="1.79" fill="#f2f2f2"/><ellipse cx="495.05" cy="466.79" rx="2.4" ry="2.03" fill="#999999"/><ellipse cx="432.28" cy="471.81" rx="2.77" ry="2.54" fill="#8c8c8c"/><ellipse cx="453.62" cy="471.18" rx="1.88" ry="1.92" fill="#8c8c8c"/><ellipse cx="498.19" cy="472.44" rx="2.16" ry="2.05" fill="#7f7f7f"/><ellipse cx="417.21" cy="477.46" rx="1.98" ry="1.92" fill="#e5e5e5"/><ellipse cx="452.36" cy="476.2" rx="1.93" ry="1.93" fill="#f9f9f9"/><ellipse cx="458.39" cy="475.58" rx="2.33" ry="2.02" fill="#f9f9f9"/><ellipse cx="468.94" cy="478.09" rx="1.82" ry="1.91" fill="#8c8c8c"/><ellipse cx="477.47" cy="476.83" rx="2.28" ry="2.16" fill="#f2f2f2"/><ellipse cx="493.17" cy="475.83" rx="2.3" ry="2.22" fill="#7f7f7f"/><ellipse cx="428.76" cy="480.6" rx="1.98" ry="2.02" fill="#999999"/><ellipse cx="452.36" cy="480.6" rx="1.99" ry="1.83" fill="#999999"/><ellipse cx="481.87" cy="480.6" rx="1.97" ry="1.65" fill="#8c8c8c"/><ellipse cx="441.69" cy="484.36" rx="1.93" ry="2.17" fill="#f2f2f2"/><ellipse cx="446.72" cy="483.11" rx="2.43" ry="2.12" fill="#f2f2f2"/><ellipse cx="464.29" cy="486.25" rx="2.12" ry="1.89" fill="#999999"/><ellipse cx="470.57" cy="486.25" rx="2.37" ry="2.53" fill="#999999"/><ellipse cx="486.26" cy="485.62" rx="2.32" ry="2.09" fill="#8c8c8c"/><ellipse cx="450.48" cy="487.5" rx="2.15" ry="1.75" fill="#8c8c8c"/><ellipse cx="477.47" cy="488.13" rx="1.98" ry="2.1" fill="#8c8c8c"/><ellipse cx="420.98" cy="489.39" rx="2.21" ry="2.05" fill="#8c8c8c"/><ellipse cx="456.76" cy="489.64" rx="1.87" ry="1.9" fill="#8c8c8c"/><ellipse cx="432.28" cy="493.4" rx="2.2" ry="1.64" fill="#7f7f7f"/><ellipse cx="437.93" cy="494.66" rx="1.91" ry="1.84" fill="#f2f2f2"/><ellipse cx="483.12" cy="491.9" rx="1.95" ry="1.8" fill="#f9f9f9"/><ellipse cx="422.23" cy="493.4" rx="2.13" ry="1.89" fill="#7f7f7f"/><ellipse cx="485.64" cy="495.41" rx="2.01" ry="1.85" fill="#727272"/><ellipse cx="417.21" cy="488.13" rx="1.59" ry="1.86" fill="#7f7f7f"/><ellipse cx="444.83" cy="473.06" rx="1.81" ry="1.57" fill="#666666"/><ellipse cx="459.9" cy="468.04" rx="1.59" ry="1.51" fill="#666666"/><ellipse cx="479.99" cy="460.51" rx="1.53" ry="1.45" fill="#595959"/><ellipse cx="493.8" cy="454.23" rx="1.6" ry="1.56" fill="#666666"/><ellipse cx="419.72" cy="447.95" rx="1.63" ry="1.5" fill="#595959"/><ellipse cx="439.81" cy="442.93" rx="1.41" ry="1.41" fill="#595959"/><ellipse cx="473.71" cy="470.55" rx="1.46" ry="1.54" fill="#666666"/><ellipse cx="497.56" cy="485.62" rx="1.73" ry="1.63" fill="#666666"/><ellipse cx="429.77" cy="486.88" rx="1.7" ry="1.63" fill="#666666"/><ellipse cx="462.41" cy="494.41" rx="1.49" ry="1.64" fill="#595959"/><ellipse cx="496.31" cy="494.41" rx="1.66" ry="1.35" fill="#666666"/></g></g>
<g clip-path="url(#cp4)"><g filter="url(#bl)"><ellipse cx="423.63" cy="505.35" rx="1.82" ry="1.74" fill="#999999"/><ellipse cx="428.71" cy="508.53" rx="1.46" ry="1.39" fill="#999999"/><ellipse cx="426.17" cy="511.07" rx="1.77" ry="1.65" fill="#999999"/><ellipse cx="434.42" cy="505.99" rx="1.71" ry="1.48" fill="#999999"/><ellipse cx="438.23" cy="504.08" rx="1.68" ry="1.6" fill="#bfbfbf"/><ellipse cx="437.98" cy="509.8" rx="1.67" ry="1.42" fill="#e5e5e5"/><ellipse cx="443.95" cy="507.26" rx="1.61" ry="1.52" fill="#cccccc"/><ellipse cx="443.56" cy="511.95" rx="1.73" ry="1.76" fill="#bfbfbf"/><ellipse cx="449.03" cy="504.72" rx="1.82" ry="1.58" fill="#b2b2b2"/><ellipse cx="458.55" cy="504.72" rx="1.62" ry="1.47" fill="#cccccc"/><ellipse cx="454.11" cy="501.54" rx="1.45" ry="1.37" fill="#7f7f7f"/><ellipse cx="461.73" cy="501.54" rx="1.63" ry="1.49" fill="#999999"/><ellipse cx="471.89" cy="505.35" rx="1.59" ry="1.72" fill="#999999"/><ellipse cx="477.6" cy="504.72" rx="1.65" ry="1.58" fill="#999999"/><ellipse cx="482.68" cy="502.81" rx="1.53" ry="1.37" fill="#b2b2b2"/><ellipse cx="481.41" cy="507.26" rx="1.57" ry="1.41" fill="#999999"/><ellipse cx="490.3" cy="502.81" rx="1.64" ry="1.76" fill="#ffffff"/><ellipse cx="486.49" cy="502.81" rx="1.71" ry="1.43" fill="#b2b2b2"/><ellipse cx="464.9" cy="510.43" rx="1.8" ry="1.68" fill="#e5e5e5"/><ellipse cx="464.27" cy="511.7" rx="1.73" ry="1.72" fill="#cccccc"/><ellipse cx="473.79" cy="511.07" rx="1.75" ry="1.68" fill="#b2b2b2"/><ellipse cx="466.81" cy="514.88" rx="1.58" ry="1.75" fill="#bfbfbf"/><ellipse cx="479.51" cy="514.24" rx="1.82" ry="1.42" fill="#b2b2b2"/><ellipse cx="492.84" cy="511.7" rx="1.74" ry="1.65" fill="#b2b2b2"/><ellipse cx="497.29" cy="512.97" rx="1.62" ry="1.57" fill="#999999"/><ellipse cx="491.57" cy="514.88" rx="1.64" ry="1.73" fill="#999999"/><ellipse cx="488.4" cy="518.05" rx="1.64" ry="1.69" fill="#999999"/><ellipse cx="425.53" cy="517.42" rx="1.58" ry="1.71" fill="#999999"/><ellipse cx="431.25" cy="517.42" rx="1.8" ry="1.54" fill="#999999"/><ellipse cx="436.33" cy="516.15" rx="1.67" ry="1.73" fill="#999999"/><ellipse cx="433.79" cy="519.32" rx="1.73" ry="1.55" fill="#b2b2b2"/><ellipse cx="457.28" cy="514.24" rx="1.53" ry="1.49" fill="#999999"/><ellipse cx="475.7" cy="517.42" rx="1.72" ry="1.43" fill="#b2b2b2"/><ellipse cx="478.24" cy="518.69" rx="1.8" ry="1.47" fill="#b2b2b2"/><ellipse cx="454.74" cy="520.59" rx="1.8" ry="1.48" fill="#cccccc"/><ellipse cx="456.65" cy="523.77" rx="1.82" ry="1.64" fill="#ffffff"/><ellipse cx="442.04" cy="521.86" rx="1.64" ry="1.57" fill="#bfbfbf"/><ellipse cx="446.49" cy="522.5" rx="1.7" ry="1.6" fill="#999999"/><ellipse cx="480.14" cy="523.77" rx="1.56" ry="1.44" fill="#a5a5a5"/><ellipse cx="451.57" cy="528.21" rx="1.64" ry="1.73" fill="#a5a5a5"/><ellipse cx="472.52" cy="526.94" rx="1.69" ry="1.39" fill="#a5a5a5"/><ellipse cx="476.97" cy="529.48" rx="1.77" ry="1.65" fill="#b2b2b2"/><ellipse cx="436.96" cy="530.12" rx="1.8" ry="1.44" fill="#b2b2b2"/><ellipse cx="440.14" cy="532.66" rx="1.74" ry="1.38" fill="#999999"/><ellipse cx="448.39" cy="532.66" rx="1.7" ry="1.47" fill="#a5a5a5"/><ellipse cx="460.46" cy="532.66" rx="1.53" ry="1.71" fill="#999999"/><ellipse cx="487.13" cy="531.39" rx="1.48" ry="1.57" fill="#999999"/><ellipse cx="422.36" cy="532.66" rx="1.78" ry="1.46" fill="#b2b2b2"/><ellipse cx="418.55" cy="535.83" rx="1.52" ry="1.71" fill="#b2b2b2"/><ellipse cx="423.63" cy="537.74" rx="1.61" ry="1.65" fill="#999999"/><ellipse cx="430.61" cy="537.74" rx="1.45" ry="1.5" fill="#a5a5a5"/><ellipse cx="435.06" cy="535.83" rx="1.51" ry="1.63" fill="#999999"/><ellipse cx="444.58" cy="536.47" rx="1.47" ry="1.74" fill="#bfbfbf"/><ellipse cx="452.2" cy="535.83" rx="1.45" ry="1.65" fill="#b2b2b2"/><ellipse cx="463.63" cy="535.83" rx="1.45" ry="1.46" fill="#8c8c8c"/><ellipse cx="458.55" cy="538.37" rx="1.77" ry="1.42" fill="#999999"/><ellipse cx="484.59" cy="535.2" rx="1.51" ry="1.64" fill="#999999"/><ellipse cx="464.27" cy="540.28" rx="1.59" ry="1.38" fill="#999999"/><ellipse cx="456.01" cy="540.91" rx="1.84" ry="1.42" fill="#b2b2b2"/><ellipse cx="447.76" cy="541.55" rx="1.45" ry="1.5" fill="#b2b2b2"/><ellipse cx="442.68" cy="543.45" rx="1.69" ry="1.66" fill="#999999"/><ellipse cx="471.89" cy="540.28" rx="1.49" ry="1.49" fill="#999999"/><ellipse cx="476.33" cy="541.55" rx="1.45" ry="1.54" fill="#a5a5a5"/><ellipse cx="486.49" cy="540.28" rx="1.75" ry="1.66" fill="#999999"/><ellipse cx="497.29" cy="539.64" rx="1.8" ry="1.66" fill="#999999"/><ellipse cx="495.38" cy="542.82" rx="1.78" ry="1.64" fill="#999999"/><ellipse cx="424.9" cy="543.45" rx="1.63" ry="1.45" fill="#e5e5e5"/><ellipse cx="473.79" cy="544.72" rx="1.7" ry="1.49" fill="#999999"/><ellipse cx="467.44" cy="544.72" rx="1.48" ry="1.54" fill="#999999"/><ellipse cx="483.32" cy="544.72" rx="1.79" ry="1.41" fill="#e5e5e5"/><ellipse cx="436.96" cy="549.17" rx="1.67" ry="1.52" fill="#bfbfbf"/><ellipse cx="449.03" cy="549.17" rx="1.65" ry="1.42" fill="#a5a5a5"/><ellipse cx="458.55" cy="549.8" rx="1.82" ry="1.46" fill="#8c8c8c"/><ellipse cx="488.4" cy="549.8" rx="1.68" ry="1.53" fill="#999999"/><ellipse cx="426.17" cy="552.98" rx="1.45" ry="1.58" fill="#999999"/><ellipse cx="430.61" cy="551.71" rx="1.5" ry="1.38" fill="#a5a5a5"/><ellipse cx="433.79" cy="552.34" rx="1.45" ry="1.42" fill="#999999"/><ellipse cx="439.5" cy="554.88" rx="1.48" ry="1.61" fill="#999999"/><ellipse cx="450.93" cy="552.98" rx="1.64" ry="1.75" fill="#a5a5a5"/><ellipse cx="472.52" cy="550.44" rx="1.81" ry="1.76" fill="#a5a5a5"/><ellipse cx="468.71" cy="552.98" rx="1.53" ry="1.54" fill="#bfbfbf"/><ellipse cx="476.97" cy="554.25" rx="1.54" ry="1.6" fill="#999999"/><ellipse cx="492.84" cy="552.98" rx="1.69" ry="1.68" fill="#999999"/><ellipse cx="498.56" cy="553.61" rx="1.72" ry="1.46" fill="#7f7f7f"/><ellipse cx="426.8" cy="558.69" rx="1.61" ry="1.57" fill="#999999"/><ellipse cx="431.88" cy="558.69" rx="1.44" ry="1.37" fill="#8c8c8c"/><ellipse cx="424.26" cy="561.23" rx="1.6" ry="1.4" fill="#a5a5a5"/><ellipse cx="458.55" cy="557.42" rx="1.73" ry="1.46" fill="#999999"/><ellipse cx="440.14" cy="559.96" rx="1.48" ry="1.43" fill="#999999"/><ellipse cx="454.74" cy="561.23" rx="1.53" ry="1.45" fill="#7f7f7f"/><ellipse cx="483.32" cy="558.69" rx="1.65" ry="1.55" fill="#999999"/><ellipse cx="491.57" cy="558.69" rx="1.56" ry="1.62" fill="#999999"/><ellipse cx="468.71" cy="560.6" rx="1.52" ry="1.72" fill="#8c8c8c"/><ellipse cx="417.28" cy="561.87" rx="1.83" ry="1.65" fill="#7f7f7f"/><ellipse cx="497.92" cy="561.23" rx="1.61" ry="1.56" fill="#999999"/></g></g>
<g clip-path="url(#cp3)"><g filter="url(#bl)"><ellipse cx="601.35" cy="437.28" rx="1.45" ry="1.65" fill="#8c8c8c"/><ellipse cx="618.3" cy="440.42" rx="2.52" ry="2.11" fill="#cccccc"/><ellipse cx="627.09" cy="440.42" rx="1.78" ry="1.67" fill="#bfbfbf"/><ellipse cx="625.21" cy="436.66" rx="1.65" ry="1.62" fill="#999999"/><ellipse cx="640.9" cy="444.82" rx="2.31" ry="2.14" fill="#a5a5a5"/><ellipse cx="645.3" cy="443.56" rx="2.35" ry="2.03" fill="#999999"/><ellipse cx="660.36" cy="446.7" rx="2.1" ry="1.64" fill="#e5e5e5"/><ellipse cx="667.27" cy="446.45" rx="2.34" ry="2.38" fill="#999999"/><ellipse cx="604.49" cy="451.47" rx="2.39" ry="2.72" fill="#8c8c8c"/><ellipse cx="628.72" cy="451.72" rx="2.39" ry="1.82" fill="#f2f2f2"/><ellipse cx="645.05" cy="449.46" rx="1.92" ry="2.09" fill="#e5e5e5"/><ellipse cx="611.78" cy="456.49" rx="2.41" ry="2" fill="#7f7f7f"/><ellipse cx="623.33" cy="458.38" rx="2.02" ry="2.03" fill="#999999"/><ellipse cx="640.28" cy="455.49" rx="1.58" ry="1.58" fill="#f2f2f2"/><ellipse cx="599.47" cy="459.88" rx="2.91" ry="2.8" fill="#b2b2b2"/><ellipse cx="627.72" cy="460.26" rx="2.03" ry="1.92" fill="#f2f2f2"/><ellipse cx="631.24" cy="462.77" rx="2.02" ry="2.05" fill="#bfbfbf"/><ellipse cx="641.28" cy="459.51" rx="1.88" ry="1.65" fill="#f9f9f9"/><ellipse cx="613.66" cy="464.9" rx="2.35" ry="2.1" fill="#7f7f7f"/><ellipse cx="600.73" cy="467.42" rx="2.25" ry="1.9" fill="#727272"/><ellipse cx="610.39" cy="468.67" rx="2" ry="1.85" fill="#f2f2f2"/><ellipse cx="639.02" cy="467.42" rx="1.97" ry="1.98" fill="#f9f9f9"/><ellipse cx="662.25" cy="464.03" rx="1.88" ry="1.79" fill="#f2f2f2"/><ellipse cx="669.15" cy="466.79" rx="2.4" ry="2.03" fill="#999999"/><ellipse cx="606.38" cy="471.81" rx="2.77" ry="2.54" fill="#8c8c8c"/><ellipse cx="627.72" cy="471.18" rx="1.88" ry="1.92" fill="#8c8c8c"/><ellipse cx="672.29" cy="472.44" rx="2.16" ry="2.05" fill="#7f7f7f"/><ellipse cx="591.31" cy="477.46" rx="1.98" ry="1.92" fill="#e5e5e5"/><ellipse cx="626.46" cy="476.2" rx="1.93" ry="1.93" fill="#f9f9f9"/><ellipse cx="632.49" cy="475.58" rx="2.33" ry="2.02" fill="#f9f9f9"/><ellipse cx="643.04" cy="478.09" rx="1.82" ry="1.91" fill="#8c8c8c"/><ellipse cx="651.57" cy="476.83" rx="2.28" ry="2.16" fill="#f2f2f2"/><ellipse cx="667.27" cy="475.83" rx="2.3" ry="2.22" fill="#7f7f7f"/><ellipse cx="602.86" cy="480.6" rx="1.98" ry="2.02" fill="#999999"/><ellipse cx="626.46" cy="480.6" rx="1.99" ry="1.83" fill="#999999"/><ellipse cx="655.97" cy="480.6" rx="1.97" ry="1.65" fill="#8c8c8c"/><ellipse cx="615.79" cy="484.36" rx="1.93" ry="2.17" fill="#f2f2f2"/><ellipse cx="620.82" cy="483.11" rx="2.43" ry="2.12" fill="#f2f2f2"/><ellipse cx="638.39" cy="486.25" rx="2.12" ry="1.89" fill="#999999"/><ellipse cx="644.67" cy="486.25" rx="2.37" ry="2.53" fill="#999999"/><ellipse cx="660.36" cy="485.62" rx="2.32" ry="2.09" fill="#8c8c8c"/><ellipse cx="624.58" cy="487.5" rx="2.15" ry="1.75" fill="#8c8c8c"/><ellipse cx="651.57" cy="488.13" rx="1.98" ry="2.1" fill="#8c8c8c"/><ellipse cx="595.08" cy="489.39" rx="2.21" ry="2.05" fill="#8c8c8c"/><ellipse cx="630.86" cy="489.64" rx="1.87" ry="1.9" fill="#8c8c8c"/><ellipse cx="606.38" cy="493.4" rx="2.2" ry="1.64" fill="#7f7f7f"/><ellipse cx="612.03" cy="494.66" rx="1.91" ry="1.84" fill="#f2f2f2"/><ellipse cx="657.22" cy="491.9" rx="1.95" ry="1.8" fill="#f9f9f9"/><ellipse cx="596.33" cy="493.4" rx="2.13" ry="1.89" fill="#7f7f7f"/><ellipse cx="659.74" cy="495.41" rx="2.01" ry="1.85" fill="#727272"/><ellipse cx="591.31" cy="488.13" rx="1.59" ry="1.86" fill="#7f7f7f"/><ellipse cx="618.93" cy="473.06" rx="1.81" ry="1.57" fill="#666666"/><ellipse cx="634" cy="468.04" rx="1.59" ry="1.51" fill="#666666"/><ellipse cx="654.09" cy="460.51" rx="1.53" ry="1.45" fill="#595959"/><ellipse cx="667.9" cy="454.23" rx="1.6" ry="1.56" fill="#666666"/><ellipse cx="593.82" cy="447.95" rx="1.63" ry="1.5" fill="#595959"/><ellipse cx="613.91" cy="442.93" rx="1.41" ry="1.41" fill="#595959"/><ellipse cx="647.81" cy="470.55" rx="1.46" ry="1.54" fill="#666666"/><ellipse cx="671.66" cy="485.62" rx="1.73" ry="1.63" fill="#666666"/><ellipse cx="603.87" cy="486.88" rx="1.7" ry="1.63" fill="#666666"/><ellipse cx="636.51" cy="494.41" rx="1.49" ry="1.64" fill="#595959"/><ellipse cx="670.41" cy="494.41" rx="1.66" ry="1.35" fill="#666666"/></g></g>
<g clip-path="url(#cp6)"><g filter="url(#bl)"><ellipse cx="597.73" cy="505.35" rx="1.82" ry="1.74" fill="#999999"/><ellipse cx="602.81" cy="508.53" rx="1.46" ry="1.39" fill="#999999"/><ellipse cx="600.27" cy="511.07" rx="1.77" ry="1.65" fill="#999999"/><ellipse cx="608.52" cy="505.99" rx="1.71" ry="1.48" fill="#999999"/><ellipse cx="612.33" cy="504.08" rx="1.68" ry="1.6" fill="#bfbfbf"/><ellipse cx="612.08" cy="509.8" rx="1.67" ry="1.42" fill="#e5e5e5"/><ellipse cx="618.05" cy="507.26" rx="1.61" ry="1.52" fill="#cccccc"/><ellipse cx="617.66" cy="511.95" rx="1.73" ry="1.76" fill="#bfbfbf"/><ellipse cx="623.13" cy="504.72" rx="1.82" ry="1.58" fill="#b2b2b2"/><ellipse cx="632.65" cy="504.72" rx="1.62" ry="1.47" fill="#cccccc"/><ellipse cx="628.21" cy="501.54" rx="1.45" ry="1.37" fill="#7f7f7f"/><ellipse cx="635.83" cy="501.54" rx="1.63" ry="1.49" fill="#999999"/><ellipse cx="645.99" cy="505.35" rx="1.59" ry="1.72" fill="#999999"/><ellipse cx="651.7" cy="504.72" rx="1.65" ry="1.58" fill="#999999"/><ellipse cx="656.78" cy="502.81" rx="1.53" ry="1.37" fill="#b2b2b2"/><ellipse cx="655.51" cy="507.26" rx="1.57" ry="1.41" fill="#999999"/><ellipse cx="664.4" cy="502.81" rx="1.64" ry="1.76" fill="#ffffff"/><ellipse cx="660.59" cy="502.81" rx="1.71" ry="1.43" fill="#b2b2b2"/><ellipse cx="639" cy="510.43" rx="1.8" ry="1.68" fill="#e5e5e5"/><ellipse cx="638.37" cy="511.7" rx="1.73" ry="1.72" fill="#cccccc"/><ellipse cx="647.89" cy="511.07" rx="1.75" ry="1.68" fill="#b2b2b2"/><ellipse cx="640.91" cy="514.88" rx="1.58" ry="1.75" fill="#bfbfbf"/><ellipse cx="653.61" cy="514.24" rx="1.82" ry="1.42" fill="#b2b2b2"/><ellipse cx="666.94" cy="511.7" rx="1.74" ry="1.65" fill="#b2b2b2"/><ellipse cx="671.39" cy="512.97" rx="1.62" ry="1.57" fill="#999999"/><ellipse cx="665.67" cy="514.88" rx="1.64" ry="1.73" fill="#999999"/><ellipse cx="662.5" cy="518.05" rx="1.64" ry="1.69" fill="#999999"/><ellipse cx="599.63" cy="517.42" rx="1.58" ry="1.71" fill="#999999"/><ellipse cx="605.35" cy="517.42" rx="1.8" ry="1.54" fill="#999999"/><ellipse cx="610.43" cy="516.15" rx="1.67" ry="1.73" fill="#999999"/><ellipse cx="607.89" cy="519.32" rx="1.73" ry="1.55" fill="#b2b2b2"/><ellipse cx="631.38" cy="514.24" rx="1.53" ry="1.49" fill="#999999"/><ellipse cx="649.8" cy="517.42" rx="1.72" ry="1.43" fill="#b2b2b2"/><ellipse cx="652.34" cy="518.69" rx="1.8" ry="1.47" fill="#b2b2b2"/><ellipse cx="628.84" cy="520.59" rx="1.8" ry="1.48" fill="#cccccc"/><ellipse cx="630.75" cy="523.77" rx="1.82" ry="1.64" fill="#ffffff"/><ellipse cx="616.14" cy="521.86" rx="1.64" ry="1.57" fill="#bfbfbf"/><ellipse cx="620.59" cy="522.5" rx="1.7" ry="1.6" fill="#999999"/><ellipse cx="654.24" cy="523.77" rx="1.56" ry="1.44" fill="#a5a5a5"/><ellipse cx="625.67" cy="528.21" rx="1.64" ry="1.73" fill="#a5a5a5"/><ellipse cx="646.62" cy="526.94" rx="1.69" ry="1.39" fill="#a5a5a5"/><ellipse cx="651.07" cy="529.48" rx="1.77" ry="1.65" fill="#b2b2b2"/><ellipse cx="611.06" cy="530.12" rx="1.8" ry="1.44" fill="#b2b2b2"/><ellipse cx="614.24" cy="532.66" rx="1.74" ry="1.38" fill="#999999"/><ellipse cx="622.49" cy="532.66" rx="1.7" ry="1.47" fill="#a5a5a5"/><ellipse cx="634.56" cy="532.66" rx="1.53" ry="1.71" fill="#999999"/><ellipse cx="661.23" cy="531.39" rx="1.48" ry="1.57" fill="#999999"/><ellipse cx="596.46" cy="532.66" rx="1.78" ry="1.46" fill="#b2b2b2"/><ellipse cx="592.65" cy="535.83" rx="1.52" ry="1.71" fill="#b2b2b2"/><ellipse cx="597.73" cy="537.74" rx="1.61" ry="1.65" fill="#999999"/><ellipse cx="604.71" cy="537.74" rx="1.45" ry="1.5" fill="#a5a5a5"/><ellipse cx="609.16" cy="535.83" rx="1.51" ry="1.63" fill="#999999"/><ellipse cx="618.68" cy="536.47" rx="1.47" ry="1.74" fill="#bfbfbf"/><ellipse cx="626.3" cy="535.83" rx="1.45" ry="1.65" fill="#b2b2b2"/><ellipse cx="637.73" cy="535.83" rx="1.45" ry="1.46" fill="#8c8c8c"/><ellipse cx="632.65" cy="538.37" rx="1.77" ry="1.42" fill="#999999"/><ellipse cx="658.69" cy="535.2" rx="1.51" ry="1.64" fill="#999999"/><ellipse cx="638.37" cy="540.28" rx="1.59" ry="1.38" fill="#999999"/><ellipse cx="630.11" cy="540.91" rx="1.84" ry="1.42" fill="#b2b2b2"/><ellipse cx="621.86" cy="541.55" rx="1.45" ry="1.5" fill="#b2b2b2"/><ellipse cx="616.78" cy="543.45" rx="1.69" ry="1.66" fill="#999999"/><ellipse cx="645.99" cy="540.28" rx="1.49" ry="1.49" fill="#999999"/><ellipse cx="650.43" cy="541.55" rx="1.45" ry="1.54" fill="#a5a5a5"/><ellipse cx="660.59" cy="540.28" rx="1.75" ry="1.66" fill="#999999"/><ellipse cx="671.39" cy="539.64" rx="1.8" ry="1.66" fill="#999999"/><ellipse cx="669.48" cy="542.82" rx="1.78" ry="1.64" fill="#999999"/><ellipse cx="599" cy="543.45" rx="1.63" ry="1.45" fill="#e5e5e5"/><ellipse cx="647.89" cy="544.72" rx="1.7" ry="1.49" fill="#999999"/><ellipse cx="641.54" cy="544.72" rx="1.48" ry="1.54" fill="#999999"/><ellipse cx="657.42" cy="544.72" rx="1.79" ry="1.41" fill="#e5e5e5"/><ellipse cx="611.06" cy="549.17" rx="1.67" ry="1.52" fill="#bfbfbf"/><ellipse cx="623.13" cy="549.17" rx="1.65" ry="1.42" fill="#a5a5a5"/><ellipse cx="632.65" cy="549.8" rx="1.82" ry="1.46" fill="#8c8c8c"/><ellipse cx="662.5" cy="549.8" rx="1.68" ry="1.53" fill="#999999"/><ellipse cx="600.27" cy="552.98" rx="1.45" ry="1.58" fill="#999999"/><ellipse cx="604.71" cy="551.71" rx="1.5" ry="1.38" fill="#a5a5a5"/><ellipse cx="607.89" cy="552.34" rx="1.45" ry="1.42" fill="#999999"/><ellipse cx="613.6" cy="554.88" rx="1.48" ry="1.61" fill="#999999"/><ellipse cx="625.03" cy="552.98" rx="1.64" ry="1.75" fill="#a5a5a5"/><ellipse cx="646.62" cy="550.44" rx="1.81" ry="1.76" fill="#a5a5a5"/><ellipse cx="642.81" cy="552.98" rx="1.53" ry="1.54" fill="#bfbfbf"/><ellipse cx="651.07" cy="554.25" rx="1.54" ry="1.6" fill="#999999"/><ellipse cx="666.94" cy="552.98" rx="1.69" ry="1.68" fill="#999999"/><ellipse cx="672.66" cy="553.61" rx="1.72" ry="1.46" fill="#7f7f7f"/><ellipse cx="600.9" cy="558.69" rx="1.61" ry="1.57" fill="#999999"/><ellipse cx="605.98" cy="558.69" rx="1.44" ry="1.37" fill="#8c8c8c"/><ellipse cx="598.36" cy="561.23" rx="1.6" ry="1.4" fill="#a5a5a5"/><ellipse cx="632.65" cy="557.42" rx="1.73" ry="1.46" fill="#999999"/><ellipse cx="614.24" cy="559.96" rx="1.48" ry="1.43" fill="#999999"/><ellipse cx="628.84" cy="561.23" rx="1.53" ry="1.45" fill="#7f7f7f"/><ellipse cx="657.42" cy="558.69" rx="1.65" ry="1.55" fill="#999999"/><ellipse cx="665.67" cy="558.69" rx="1.56" ry="1.62" fill="#999999"/><ellipse cx="642.81" cy="560.6" rx="1.52" ry="1.72" fill="#8c8c8c"/><ellipse cx="591.38" cy="561.87" rx="1.83" ry="1.65" fill="#7f7f7f"/><ellipse cx="672.02" cy="561.23" rx="1.61" ry="1.56" fill="#999999"/></g></g>
<line x1="462.2" y1="495" x2="496.5" y2="495" stroke="#e6e630" stroke-width="1.3" />
<rect x="496.1" y="568.3" width="52.7" height="21.4" fill="#fff" stroke="#cfcfcf" stroke-width="0.6" />
<text x="500" y="577.5" font-size="9.5" font-weight="bold" fill="#4457b8" textLength="37.8" lengthAdjust="spacingAndGlyphs">PAX7 wt</text>
<text x="500" y="585.8" font-size="9.5" font-weight="bold" fill="#e8612c" textLength="44.9" lengthAdjust="spacingAndGlyphs">PAX7 mut</text>
<text x="10.2" y="619.4" font-size="16.3">F</text>
<line x1="70.1" y1="627.3" x2="70.1" y2="707.2" stroke="#333" stroke-width="0.8" />
<line x1="67.9" y1="707.2" x2="70.1" y2="707.2" stroke="#333" stroke-width="0.8" />
<text x="66.9" y="710.6" font-size="9.8" text-anchor="end">0</text>
<line x1="67.9" y1="691.26" x2="70.1" y2="691.26" stroke="#333" stroke-width="0.8" />
<text x="66.9" y="694.66" font-size="9.8" text-anchor="end">500000</text>
<line x1="67.9" y1="675.32" x2="70.1" y2="675.32" stroke="#333" stroke-width="0.8" />
<text x="66.9" y="678.72" font-size="9.8" text-anchor="end">1000000</text>
<line x1="67.9" y1="659.38" x2="70.1" y2="659.38" stroke="#333" stroke-width="0.8" />
<text x="66.9" y="662.78" font-size="9.8" text-anchor="end">1500000</text>
<line x1="67.9" y1="643.44" x2="70.1" y2="643.44" stroke="#333" stroke-width="0.8" />
<text x="66.9" y="646.84" font-size="9.8" text-anchor="end">2000000</text>
<line x1="67.9" y1="627.5" x2="70.1" y2="627.5" stroke="#333" stroke-width="0.8" />
<text x="66.9" y="630.9" font-size="9.8" text-anchor="end">2500000</text>
<line x1="70.1" y1="707.2" x2="230.8" y2="707.2" stroke="#333" stroke-width="0.8" />
<text x="155.6" y="627.2" font-size="8.5" text-anchor="middle" textLength="75.7" lengthAdjust="spacingAndGlyphs">Mitochondrial genes</text>
<text transform="translate(15.7,663.8) rotate(-90)" x="0" y="0" font-size="9.6" text-anchor="middle" textLength="48.2" lengthAdjust="spacingAndGlyphs">Transcripts</text>
<text transform="translate(24.4,662.2) rotate(-90)" x="0" y="0" font-size="9.8" text-anchor="middle" textLength="76.9" lengthAdjust="spacingAndGlyphs">Per Million Reads</text>
<line x1="76.3" y1="707.2" x2="76.3" y2="709.5" stroke="#333" stroke-width="0.8" />
<circle cx="73.8" cy="661" r="2.15" fill="#e8612c" stroke="#333" stroke-width="0.45"/>
<circle cx="78.1" cy="669.7" r="2.15" fill="#e8612c" stroke="#333" stroke-width="0.45"/>
<circle cx="76.5" cy="664" r="2.15" fill="#e8612c" stroke="#333" stroke-width="0.45"/>
<circle cx="76.5" cy="637.1" r="2.15" fill="#4457b8" stroke="#333" stroke-width="0.45"/>
<circle cx="74.8" cy="664.5" r="2.15" fill="#4457b8" stroke="#333" stroke-width="0.45"/>
<circle cx="78.5" cy="667.4" r="2.15" fill="#4457b8" stroke="#333" stroke-width="0.45"/>
<line x1="71.1" y1="656.2" x2="81.5" y2="656.2" stroke="#4457b8" stroke-width="1" />
<line x1="71.1" y1="664.4" x2="81.5" y2="664.4" stroke="#e8506a" stroke-width="1" />
<text transform="translate(78.9,714.6) rotate(-45)" x="0" y="0" font-size="9.8" text-anchor="end">MT-CO1</text>
<line x1="88.69" y1="707.2" x2="88.69" y2="709.5" stroke="#333" stroke-width="0.8" />
<circle cx="86.19" cy="699.5" r="2.15" fill="#e8612c" stroke="#333" stroke-width="0.45"/>
<circle cx="90.49" cy="701" r="2.15" fill="#e8612c" stroke="#333" stroke-width="0.45"/>
<circle cx="88.89" cy="697" r="2.15" fill="#e8612c" stroke="#333" stroke-width="0.45"/>
<circle cx="88.89" cy="689" r="2.15" fill="#4457b8" stroke="#333" stroke-width="0.45"/>
<circle cx="87.19" cy="695.5" r="2.15" fill="#4457b8" stroke="#333" stroke-width="0.45"/>
<circle cx="90.89" cy="698" r="2.15" fill="#4457b8" stroke="#333" stroke-width="0.45"/>
<line x1="83.49" y1="693.6" x2="93.89" y2="693.6" stroke="#4457b8" stroke-width="1" />
<line x1="83.49" y1="698.8" x2="93.89" y2="698.8" stroke="#e8506a" stroke-width="1" />
<text transform="translate(91.29,714.6) rotate(-45)" x="0" y="0" font-size="9.8" text-anchor="end">MT-CO2</text>
<line x1="101.08" y1="707.2" x2="101.08" y2="709.5" stroke="#333" stroke-width="0.8" />
<circle cx="98.58" cy="695" r="2.15" fill="#e8612c" stroke="#333" stroke-width="0.45"/>
<circle cx="102.88" cy="696" r="2.15" fill="#e8612c" stroke="#333" stroke-width="0.45"/>
<circle cx="101.28" cy="697" r="2.15" fill="#e8612c" stroke="#333" stroke-width="0.45"/>
<circle cx="101.28" cy="681.5" r="2.15" fill="#4457b8" stroke="#333" stroke-width="0.45"/>
<circle cx="99.58" cy="682.8" r="2.15" fill="#4457b8" stroke="#333" stroke-width="0.45"/>
<circle cx="103.28" cy="697" r="2.15" fill="#4457b8" stroke="#333" stroke-width="0.45"/>
<line x1="95.88" y1="686.7" x2="106.28" y2="686.7" stroke="#4457b8" stroke-width="1" />
<line x1="95.88" y1="695.4" x2="106.28" y2="695.4" stroke="#e8506a" stroke-width="1" />
<text transform="translate(103.68,714.6) rotate(-45)" x="0" y="0" font-size="9.8" text-anchor="end">MT-CO3</text>
<line x1="113.47" y1="707.2" x2="113.47" y2="709.5" stroke="#333" stroke-width="0.8" />
<circle cx="110.97" cy="695" r="2.15" fill="#e8612c" stroke="#333" stroke-width="0.45"/>
<circle cx="115.27" cy="698" r="2.15" fill="#e8612c" stroke="#333" stroke-width="0.45"/>
<circle cx="113.67" cy="697" r="2.15" fill="#e8612c" stroke="#333" stroke-width="0.45"/>
<circle cx="113.67" cy="682.3" r="2.15" fill="#4457b8" stroke="#333" stroke-width="0.45"/>
<circle cx="111.97" cy="693" r="2.15" fill="#4457b8" stroke="#333" stroke-width="0.45"/>
<circle cx="115.67" cy="697" r="2.15" fill="#4457b8" stroke="#333" stroke-width="0.45"/>
<line x1="108.27" y1="688.8" x2="118.67" y2="688.8" stroke="#4457b8" stroke-width="1" />
<line x1="108.27" y1="695.9" x2="118.67" y2="695.9" stroke="#e8506a" stroke-width="1" />
<text transform="translate(116.07,714.6) rotate(-45)" x="0" y="0" font-size="9.8" text-anchor="end">MT-ND1</text>
<line x1="125.86" y1="707.2" x2="125.86" y2="709.5" stroke="#333" stroke-width="0.8" />
<circle cx="123.36" cy="697" r="2.15" fill="#e8612c" stroke="#333" stroke-width="0.45"/>
<circle cx="127.66" cy="699.5" r="2.15" fill="#e8612c" stroke="#333" stroke-width="0.45"/>
<circle cx="126.06" cy="700" r="2.15" fill="#e8612c" stroke="#333" stroke-width="0.45"/>
<circle cx="126.06" cy="688.5" r="2.15" fill="#4457b8" stroke="#333" stroke-width="0.45"/>
<circle cx="124.36" cy="691" r="2.15" fill="#4457b8" stroke="#333" stroke-width="0.45"/>
<circle cx="128.06" cy="697.5" r="2.15" fill="#4457b8" stroke="#333" stroke-width="0.45"/>
<line x1="120.66" y1="694.6" x2="131.06" y2="694.6" stroke="#4457b8" stroke-width="1" />
<line x1="120.66" y1="698.3" x2="131.06" y2="698.3" stroke="#e8506a" stroke-width="1" />
<text transform="translate(128.46,714.6) rotate(-45)" x="0" y="0" font-size="9.8" text-anchor="end">MT-ND2</text>
<line x1="138.25" y1="707.2" x2="138.25" y2="709.5" stroke="#333" stroke-width="0.8" />
<circle cx="135.75" cy="704.5" r="2.15" fill="#e8612c" stroke="#333" stroke-width="0.45"/>
<circle cx="140.05" cy="706" r="2.15" fill="#e8612c" stroke="#333" stroke-width="0.45"/>
<circle cx="138.45" cy="705.5" r="2.15" fill="#e8612c" stroke="#333" stroke-width="0.45"/>
<circle cx="138.45" cy="698.5" r="2.15" fill="#4457b8" stroke="#333" stroke-width="0.45"/>
<circle cx="136.75" cy="700.5" r="2.15" fill="#4457b8" stroke="#333" stroke-width="0.45"/>
<circle cx="140.45" cy="702.5" r="2.15" fill="#4457b8" stroke="#333" stroke-width="0.45"/>
<line x1="133.05" y1="701.2" x2="143.45" y2="701.2" stroke="#4457b8" stroke-width="1" />
<line x1="133.05" y1="705.1" x2="143.45" y2="705.1" stroke="#e8506a" stroke-width="1" />
<text transform="translate(140.85,714.6) rotate(-45)" x="0" y="0" font-size="9.8" text-anchor="end" font-weight="bold">MT-ND3</text>
<line x1="150.64" y1="707.2" x2="150.64" y2="709.5" stroke="#333" stroke-width="0.8" />
<circle cx="148.14" cy="687" r="2.15" fill="#e8612c" stroke="#333" stroke-width="0.45"/>
<circle cx="152.44" cy="690" r="2.15" fill="#e8612c" stroke="#333" stroke-width="0.45"/>
<circle cx="150.84" cy="691.5" r="2.15" fill="#e8612c" stroke="#333" stroke-width="0.45"/>
<circle cx="150.84" cy="667.3" r="2.15" fill="#4457b8" stroke="#333" stroke-width="0.45"/>
<circle cx="149.14" cy="684.4" r="2.15" fill="#4457b8" stroke="#333" stroke-width="0.45"/>
<circle cx="152.84" cy="688.8" r="2.15" fill="#4457b8" stroke="#333" stroke-width="0.45"/>
<line x1="145.44" y1="680.2" x2="155.84" y2="680.2" stroke="#4457b8" stroke-width="1" />
<line x1="145.44" y1="689.3" x2="155.84" y2="689.3" stroke="#e8506a" stroke-width="1" />
<text transform="translate(153.24,714.6) rotate(-45)" x="0" y="0" font-size="9.8" text-anchor="end">MT-ND4</text>
<line x1="163.03" y1="707.2" x2="163.03" y2="709.5" stroke="#333" stroke-width="0.8" />
<circle cx="160.53" cy="705" r="2.15" fill="#e8612c" stroke="#333" stroke-width="0.45"/>
<circle cx="164.83" cy="705.5" r="2.15" fill="#e8612c" stroke="#333" stroke-width="0.45"/>
<circle cx="163.23" cy="706" r="2.15" fill="#e8612c" stroke="#333" stroke-width="0.45"/>
<circle cx="163.23" cy="702" r="2.15" fill="#4457b8" stroke="#333" stroke-width="0.45"/>
<circle cx="161.53" cy="703.5" r="2.15" fill="#4457b8" stroke="#333" stroke-width="0.45"/>
<circle cx="165.23" cy="704.5" r="2.15" fill="#4457b8" stroke="#333" stroke-width="0.45"/>
<line x1="157.83" y1="703.8" x2="168.23" y2="703.8" stroke="#4457b8" stroke-width="1" />
<line x1="157.83" y1="705.1" x2="168.23" y2="705.1" stroke="#e8506a" stroke-width="1" />
<text transform="translate(165.63,714.6) rotate(-45)" x="0" y="0" font-size="9.8" text-anchor="end">MT-ND4L</text>
<line x1="175.42" y1="707.2" x2="175.42" y2="709.5" stroke="#333" stroke-width="0.8" />
<circle cx="172.92" cy="697.5" r="2.15" fill="#e8612c" stroke="#333" stroke-width="0.45"/>
<circle cx="177.22" cy="699" r="2.15" fill="#e8612c" stroke="#333" stroke-width="0.45"/>
<circle cx="175.62" cy="699" r="2.15" fill="#e8612c" stroke="#333" stroke-width="0.45"/>
<circle cx="175.62" cy="693" r="2.15" fill="#4457b8" stroke="#333" stroke-width="0.45"/>
<circle cx="173.92" cy="697.5" r="2.15" fill="#4457b8" stroke="#333" stroke-width="0.45"/>
<circle cx="177.62" cy="701.5" r="2.15" fill="#4457b8" stroke="#333" stroke-width="0.45"/>
<line x1="170.22" y1="697.5" x2="180.62" y2="697.5" stroke="#4457b8" stroke-width="1" />
<line x1="170.22" y1="698.5" x2="180.62" y2="698.5" stroke="#e8506a" stroke-width="1" />
<text transform="translate(178.02,714.6) rotate(-45)" x="0" y="0" font-size="9.8" text-anchor="end">MT-ND5</text>
<line x1="187.81" y1="707.2" x2="187.81" y2="709.5" stroke="#333" stroke-width="0.8" />
<circle cx="185.31" cy="706.5" r="2.15" fill="#e8612c" stroke="#333" stroke-width="0.45"/>
<circle cx="189.61" cy="706.5" r="2.15" fill="#e8612c" stroke="#333" stroke-width="0.45"/>
<circle cx="188.01" cy="706.5" r="2.15" fill="#e8612c" stroke="#333" stroke-width="0.45"/>
<circle cx="188.01" cy="706" r="2.15" fill="#4457b8" stroke="#333" stroke-width="0.45"/>
<circle cx="186.31" cy="706" r="2.15" fill="#4457b8" stroke="#333" stroke-width="0.45"/>
<circle cx="190.01" cy="706" r="2.15" fill="#4457b8" stroke="#333" stroke-width="0.45"/>
<line x1="182.61" y1="707" x2="193.01" y2="707" stroke="#4457b8" stroke-width="1" />
<line x1="182.61" y1="707" x2="193.01" y2="707" stroke="#e8506a" stroke-width="1" />
<text transform="translate(190.41,714.6) rotate(-45)" x="0" y="0" font-size="9.8" text-anchor="end">MT-ND6</text>
<line x1="200.2" y1="707.2" x2="200.2" y2="709.5" stroke="#333" stroke-width="0.8" />
<circle cx="197.7" cy="695" r="2.15" fill="#e8612c" stroke="#333" stroke-width="0.45"/>
<circle cx="202" cy="697" r="2.15" fill="#e8612c" stroke="#333" stroke-width="0.45"/>
<circle cx="200.4" cy="696" r="2.15" fill="#e8612c" stroke="#333" stroke-width="0.45"/>
<circle cx="200.4" cy="681" r="2.15" fill="#4457b8" stroke="#333" stroke-width="0.45"/>
<circle cx="198.7" cy="689" r="2.15" fill="#4457b8" stroke="#333" stroke-width="0.45"/>
<circle cx="202.4" cy="691.5" r="2.15" fill="#4457b8" stroke="#333" stroke-width="0.45"/>
<line x1="195" y1="688.8" x2="205.4" y2="688.8" stroke="#4457b8" stroke-width="1" />
<line x1="195" y1="695.9" x2="205.4" y2="695.9" stroke="#e8506a" stroke-width="1" />
<text transform="translate(202.8,714.6) rotate(-45)" x="0" y="0" font-size="9.8" text-anchor="end">MT-CYB</text>
<line x1="212.59" y1="707.2" x2="212.59" y2="709.5" stroke="#333" stroke-width="0.8" />
<circle cx="210.09" cy="694.5" r="2.15" fill="#e8612c" stroke="#333" stroke-width="0.45"/>
<circle cx="214.39" cy="696.5" r="2.15" fill="#e8612c" stroke="#333" stroke-width="0.45"/>
<circle cx="212.79" cy="696" r="2.15" fill="#e8612c" stroke="#333" stroke-width="0.45"/>
<circle cx="212.79" cy="687" r="2.15" fill="#4457b8" stroke="#333" stroke-width="0.45"/>
<circle cx="211.09" cy="692" r="2.15" fill="#4457b8" stroke="#333" stroke-width="0.45"/>
<circle cx="214.79" cy="694" r="2.15" fill="#4457b8" stroke="#333" stroke-width="0.45"/>
<line x1="207.39" y1="692.2" x2="217.79" y2="692.2" stroke="#4457b8" stroke-width="1" />
<line x1="207.39" y1="695.4" x2="217.79" y2="695.4" stroke="#e8506a" stroke-width="1" />
<text transform="translate(215.19,714.6) rotate(-45)" x="0" y="0" font-size="9.8" text-anchor="end">MT-ATP6</text>
<line x1="224.98" y1="707.2" x2="224.98" y2="709.5" stroke="#333" stroke-width="0.8" />
<circle cx="222.48" cy="705" r="2.15" fill="#e8612c" stroke="#333" stroke-width="0.45"/>
<circle cx="226.78" cy="706" r="2.15" fill="#e8612c" stroke="#333" stroke-width="0.45"/>
<circle cx="225.18" cy="706" r="2.15" fill="#e8612c" stroke="#333" stroke-width="0.45"/>
<circle cx="225.18" cy="703" r="2.15" fill="#4457b8" stroke="#333" stroke-width="0.45"/>
<circle cx="223.48" cy="704" r="2.15" fill="#4457b8" stroke="#333" stroke-width="0.45"/>
<circle cx="227.18" cy="705" r="2.15" fill="#4457b8" stroke="#333" stroke-width="0.45"/>
<line x1="219.78" y1="703.8" x2="230.18" y2="703.8" stroke="#4457b8" stroke-width="1" />
<line x1="219.78" y1="705.4" x2="230.18" y2="705.4" stroke="#e8506a" stroke-width="1" />
<text transform="translate(227.58,714.6) rotate(-45)" x="0" y="0" font-size="9.8" text-anchor="end">MT-ATP8</text>
<line x1="138" y1="657.8" x2="138" y2="699.3" stroke="#111" stroke-width="1" />
<text x="128.8" y="655.3" font-size="8.3" fill="#222" textLength="42.5" lengthAdjust="spacingAndGlyphs">FDR=4.69E</text>
<text x="171.6" y="651.2" font-size="6" fill="#222" textLength="9.6" lengthAdjust="spacingAndGlyphs">-12</text>
<text x="242.9" y="620" font-size="16.3">G</text>
<line x1="306" y1="626.3" x2="306" y2="706.3" stroke="#333" stroke-width="0.8" />
<line x1="303.2" y1="706.3" x2="306" y2="706.3" stroke="#333" stroke-width="0.8" />
<text x="299.8" y="708.99" font-size="9.6" text-anchor="end">0</text>
<line x1="303.2" y1="690.3" x2="306" y2="690.3" stroke="#333" stroke-width="0.8" />
<text x="299.8" y="692.99" font-size="9.6" text-anchor="end">2000</text>
<line x1="303.2" y1="674.3" x2="306" y2="674.3" stroke="#333" stroke-width="0.8" />
<text x="299.8" y="676.99" font-size="9.6" text-anchor="end">4000</text>
<line x1="303.2" y1="658.3" x2="306" y2="658.3" stroke="#333" stroke-width="0.8" />
<text x="299.8" y="660.99" font-size="9.6" text-anchor="end">6000</text>
<line x1="303.2" y1="642.3" x2="306" y2="642.3" stroke="#333" stroke-width="0.8" />
<text x="299.8" y="644.99" font-size="9.6" text-anchor="end">8000</text>
<line x1="303.2" y1="626.3" x2="306" y2="626.3" stroke="#333" stroke-width="0.8" />
<text x="299.8" y="628.99" font-size="9.6" text-anchor="end">10000</text>
<rect x="306.7" y="689.74" width="18.3" height="16.56" fill="#4a5aab" stroke="#2a2a2a" stroke-width="0.85" />
<rect x="327.6" y="651.26" width="17.5" height="55.04" fill="#e8612c" stroke="#2a2a2a" stroke-width="0.85" />
<line x1="306" y1="706.3" x2="345.4" y2="706.3" stroke="#333" stroke-width="0.8" />
<line x1="316.2" y1="693.5" x2="316.2" y2="687.1" stroke="#222" stroke-width="0.8" />
<line x1="312.95" y1="687.1" x2="319.45" y2="687.1" stroke="#222" stroke-width="0.8" />
<line x1="312.95" y1="693.5" x2="319.45" y2="693.5" stroke="#222" stroke-width="0.8" />
<line x1="336" y1="660.22" x2="336" y2="642.3" stroke="#222" stroke-width="0.8" />
<line x1="331.25" y1="642.3" x2="340.75" y2="642.3" stroke="#222" stroke-width="0.8" />
<line x1="331.25" y1="660.22" x2="340.75" y2="660.22" stroke="#222" stroke-width="0.8" />
<circle cx="313.2" cy="683.8" r="2" fill="#fff" stroke="#1a1a1a" stroke-width="0.8"/>
<circle cx="319.7" cy="687.3" r="2" fill="#fff" stroke="#1a1a1a" stroke-width="0.8"/>
<circle cx="315.9" cy="697" r="2" fill="#fff" stroke="#1a1a1a" stroke-width="0.8"/>
<circle cx="335.5" cy="638.3" r="2" fill="#fff" stroke="#1a1a1a" stroke-width="0.8"/>
<circle cx="335.5" cy="646.5" r="2" fill="#fff" stroke="#1a1a1a" stroke-width="0.8"/>
<circle cx="336" cy="668.1" r="2" fill="#fff" stroke="#1a1a1a" stroke-width="0.8"/>
<line x1="315.3" y1="635.1" x2="335.5" y2="635.1" stroke="#222" stroke-width="0.7" />
<text x="309.7" y="633.7" font-size="8.3" fill="#222" textLength="47.3" lengthAdjust="spacingAndGlyphs">FDR=0.0009</text>
<text transform="translate(263,656.7) rotate(-90)" x="0" y="0" font-size="9.6" text-anchor="middle" textLength="47.6" lengthAdjust="spacingAndGlyphs">Transcripts</text>
<text transform="translate(271.4,655) rotate(-90)" x="0" y="0" font-size="9.8" text-anchor="middle" textLength="76.7" lengthAdjust="spacingAndGlyphs">Per Million Reads</text>
<text x="296.4" y="717.2" font-size="11" font-style="italic" textLength="60.1" lengthAdjust="spacingAndGlyphs">PPARGC1A</text>
<text x="403.2" y="618.7" font-size="16.3">I</text>
<line x1="492.2" y1="627.4" x2="492.2" y2="707.5" stroke="#333" stroke-width="0.8" />
<line x1="489.4" y1="707.5" x2="492.2" y2="707.5" stroke="#333" stroke-width="0.8" />
<text x="487.5" y="710.3" font-size="10" text-anchor="end">0.8</text>
<line x1="489.4" y1="694.15" x2="492.2" y2="694.15" stroke="#333" stroke-width="0.8" />
<text x="487.5" y="696.95" font-size="10" text-anchor="end">0.9</text>
<line x1="489.4" y1="680.8" x2="492.2" y2="680.8" stroke="#333" stroke-width="0.8" />
<text x="487.5" y="683.6" font-size="10" text-anchor="end">1.0</text>
<line x1="489.4" y1="667.45" x2="492.2" y2="667.45" stroke="#333" stroke-width="0.8" />
<text x="487.5" y="670.25" font-size="10" text-anchor="end">1.1</text>
<line x1="489.4" y1="654.1" x2="492.2" y2="654.1" stroke="#333" stroke-width="0.8" />
<text x="487.5" y="656.9" font-size="10" text-anchor="end">1.2</text>
<line x1="489.4" y1="640.75" x2="492.2" y2="640.75" stroke="#333" stroke-width="0.8" />
<text x="487.5" y="643.55" font-size="10" text-anchor="end">1.3</text>
<line x1="489.4" y1="627.4" x2="492.2" y2="627.4" stroke="#333" stroke-width="0.8" />
<text x="487.5" y="630.2" font-size="10" text-anchor="end">1.4</text>
<rect x="492.6" y="680.8" width="18.4" height="26.7" fill="#4a5aab" stroke="#2a2a2a" stroke-width="0.85" />
<rect x="513.2" y="653.17" width="18.3" height="54.33" fill="#e8612c" stroke="#2a2a2a" stroke-width="0.85" />
<line x1="492.2" y1="707.5" x2="531.7" y2="707.5" stroke="#333" stroke-width="0.8" />
<line x1="501.7" y1="684.27" x2="501.7" y2="677.33" stroke="#222" stroke-width="0.8" />
<line x1="498.45" y1="677.33" x2="504.95" y2="677.33" stroke="#222" stroke-width="0.8" />
<line x1="498.45" y1="684.27" x2="504.95" y2="684.27" stroke="#222" stroke-width="0.8" />
<line x1="522.3" y1="657.04" x2="522.3" y2="649.43" stroke="#222" stroke-width="0.8" />
<line x1="519.05" y1="649.43" x2="525.55" y2="649.43" stroke="#222" stroke-width="0.8" />
<line x1="519.05" y1="657.04" x2="525.55" y2="657.04" stroke="#222" stroke-width="0.8" />
<circle cx="501.7" cy="671.6" r="2" fill="#fff" stroke="#1a1a1a" stroke-width="0.8"/>
<circle cx="499" cy="688" r="2" fill="#fff" stroke="#1a1a1a" stroke-width="0.8"/>
<circle cx="505.2" cy="685.2" r="2" fill="#fff" stroke="#1a1a1a" stroke-width="0.8"/>
<circle cx="501.7" cy="679.5" r="2" fill="#fff" stroke="#1a1a1a" stroke-width="0.8"/>
<circle cx="522.3" cy="643.2" r="2" fill="#fff" stroke="#1a1a1a" stroke-width="0.8"/>
<circle cx="519.2" cy="653.2" r="2" fill="#fff" stroke="#1a1a1a" stroke-width="0.8"/>
<circle cx="525.3" cy="655.3" r="2" fill="#fff" stroke="#1a1a1a" stroke-width="0.8"/>
<circle cx="522" cy="661.9" r="2" fill="#fff" stroke="#1a1a1a" stroke-width="0.8"/>
<line x1="500.8" y1="637.5" x2="520.6" y2="637.5" stroke="#111" stroke-width="0.9" />
<text x="505.7" y="634" font-size="8.3" fill="#111" textLength="35.6" lengthAdjust="spacingAndGlyphs"><tspan font-style="italic">p</tspan>=0.0018</text>
<text transform="translate(456.3,666.9) rotate(-90)" x="0" y="0" font-size="10.2" text-anchor="middle" textLength="82" lengthAdjust="spacingAndGlyphs">Mitochondrial ROS</text>
<text transform="translate(465.6,665.7) rotate(-90)" x="0" y="0" font-size="10.2" text-anchor="middle" textLength="110" lengthAdjust="spacingAndGlyphs">(Fold Change to PAX7wt)</text>
<path d="M574.1,607.6 L574.1,615.6 Q574.1,619.1 571.2,619.1 Q568.7,619.1 568.5,616.3" fill="none" stroke="#000" stroke-width="1.65"/>
<line x1="610.5" y1="625.4" x2="610.5" y2="705.6" stroke="#333" stroke-width="0.8" />
<line x1="607.7" y1="705.6" x2="610.5" y2="705.6" stroke="#333" stroke-width="0.8" />
<text x="604.6" y="708.4" font-size="10" text-anchor="end">0</text>
<line x1="607.7" y1="687" x2="610.5" y2="687" stroke="#333" stroke-width="0.8" />
<text x="604.6" y="689.8" font-size="10" text-anchor="end">1</text>
<line x1="607.7" y1="668.4" x2="610.5" y2="668.4" stroke="#333" stroke-width="0.8" />
<text x="604.6" y="671.2" font-size="10" text-anchor="end">2</text>
<line x1="607.7" y1="649.8" x2="610.5" y2="649.8" stroke="#333" stroke-width="0.8" />
<text x="604.6" y="652.6" font-size="10" text-anchor="end">3</text>
<line x1="607.7" y1="631.2" x2="610.5" y2="631.2" stroke="#333" stroke-width="0.8" />
<text x="604.6" y="634" font-size="10" text-anchor="end">4</text>
<rect x="610.9" y="687" width="18.6" height="18.6" fill="#4a5aab" stroke="#2a2a2a" stroke-width="0.85" />
<rect x="631.6" y="651.29" width="18.4" height="54.31" fill="#e8612c" stroke="#2a2a2a" stroke-width="0.85" />
<line x1="610.5" y1="705.6" x2="650.2" y2="705.6" stroke="#333" stroke-width="0.8" />
<line x1="620.5" y1="687.93" x2="620.5" y2="685.7" stroke="#222" stroke-width="0.8" />
<line x1="617.25" y1="685.7" x2="623.75" y2="685.7" stroke="#222" stroke-width="0.8" />
<line x1="617.25" y1="687.93" x2="623.75" y2="687.93" stroke="#222" stroke-width="0.8" />
<line x1="640.3" y1="662.26" x2="640.3" y2="639.57" stroke="#222" stroke-width="0.8" />
<line x1="636.35" y1="639.57" x2="644.25" y2="639.57" stroke="#222" stroke-width="0.8" />
<line x1="636.35" y1="662.26" x2="644.25" y2="662.26" stroke="#222" stroke-width="0.8" />
<circle cx="614.4" cy="685.3" r="2" fill="#fff" stroke="#1a1a1a" stroke-width="0.8"/>
<circle cx="620.7" cy="690.7" r="2" fill="#fff" stroke="#1a1a1a" stroke-width="0.8"/>
<circle cx="626" cy="685.3" r="2" fill="#fff" stroke="#1a1a1a" stroke-width="0.8"/>
<circle cx="640.3" cy="628.9" r="2" fill="#fff" stroke="#1a1a1a" stroke-width="0.8"/>
<circle cx="640.3" cy="657.3" r="2" fill="#fff" stroke="#1a1a1a" stroke-width="0.8"/>
<circle cx="640.3" cy="667.4" r="2" fill="#fff" stroke="#1a1a1a" stroke-width="0.8"/>
<line x1="621.9" y1="624.5" x2="642.1" y2="624.5" stroke="#111" stroke-width="0.9" />
<text x="627.2" y="620.2" font-size="8.3" fill="#111" textLength="29.8" lengthAdjust="spacingAndGlyphs"><tspan font-style="italic">p</tspan>=0.037</text>
<text transform="translate(593.8,667.9) rotate(-90)" x="0" y="0" font-size="10.4" text-anchor="middle" textLength="92.4" lengthAdjust="spacingAndGlyphs">Relative Expression</text>
<text x="605" y="715.7" font-size="11" font-style="italic" textLength="59.9" lengthAdjust="spacingAndGlyphs">PPARGC1A</text>
</svg>
</body></html>
